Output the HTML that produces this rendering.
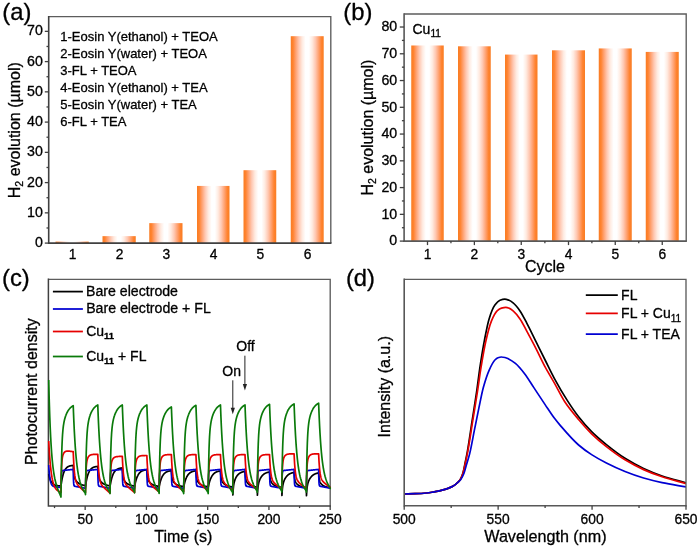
<!DOCTYPE html>
<html><head><meta charset="utf-8"><title>Figure</title>
<style>html,body{margin:0;padding:0;background:#fff;}svg{display:block;}</style></head>
<body><svg width="700" height="547" viewBox="0 0 700 547" font-family="'Liberation Sans', sans-serif" fill="#000"><style>text{stroke:#000;stroke-width:0.3px;stroke-linejoin:round}</style>
<defs><linearGradient id="og" x1="0" y1="0" x2="1" y2="0"><stop offset="0" stop-color="#f97c22"/><stop offset="0.07" stop-color="#ff8330"/><stop offset="0.15" stop-color="#ffa06e"/><stop offset="0.25" stop-color="#ffc8b2"/><stop offset="0.35" stop-color="#ffebe1"/><stop offset="0.45" stop-color="#ffffff"/><stop offset="0.55" stop-color="#ffffff"/><stop offset="0.65" stop-color="#ffebe1"/><stop offset="0.75" stop-color="#ffc8b2"/><stop offset="0.85" stop-color="#ffa06e"/><stop offset="0.93" stop-color="#ff8330"/><stop offset="1" stop-color="#f97c22"/></linearGradient></defs>
<rect width="700" height="547" fill="#fff"/>
<rect x="55.50" y="241.59" width="33.25" height="1.51" fill="url(#og)"/>
<rect x="102.50" y="236.14" width="33.25" height="6.96" fill="url(#og)"/>
<rect x="149.25" y="223.13" width="33.25" height="19.97" fill="url(#og)"/>
<rect x="197.00" y="185.93" width="32.50" height="57.17" fill="url(#og)"/>
<rect x="243.50" y="170.20" width="32.75" height="72.90" fill="url(#og)"/>
<rect x="290.75" y="36.19" width="32.95" height="206.91" fill="url(#og)"/>
<path d="M48.70,16.60 H330.80 V243.10" fill="none" stroke="#5c5c5c" stroke-width="1.35"/>
<path d="M48.70,15.90 V243.10 H331.50" fill="none" stroke="#404040" stroke-width="1.6"/>
<line x1="44.80" y1="243.10" x2="48.70" y2="243.10" stroke="#404040" stroke-width="1.3"/>
<text x="42.90" y="247.20" font-size="14.2" text-anchor="end" >0</text>
<line x1="44.80" y1="212.85" x2="48.70" y2="212.85" stroke="#404040" stroke-width="1.3"/>
<text x="42.90" y="216.95" font-size="14.2" text-anchor="end" >10</text>
<line x1="44.80" y1="182.60" x2="48.70" y2="182.60" stroke="#404040" stroke-width="1.3"/>
<text x="42.90" y="186.70" font-size="14.2" text-anchor="end" >20</text>
<line x1="44.80" y1="152.35" x2="48.70" y2="152.35" stroke="#404040" stroke-width="1.3"/>
<text x="42.90" y="156.45" font-size="14.2" text-anchor="end" >30</text>
<line x1="44.80" y1="122.10" x2="48.70" y2="122.10" stroke="#404040" stroke-width="1.3"/>
<text x="42.90" y="126.20" font-size="14.2" text-anchor="end" >40</text>
<line x1="44.80" y1="91.85" x2="48.70" y2="91.85" stroke="#404040" stroke-width="1.3"/>
<text x="42.90" y="95.95" font-size="14.2" text-anchor="end" >50</text>
<line x1="44.80" y1="61.60" x2="48.70" y2="61.60" stroke="#404040" stroke-width="1.3"/>
<text x="42.90" y="65.70" font-size="14.2" text-anchor="end" >60</text>
<line x1="44.80" y1="31.35" x2="48.70" y2="31.35" stroke="#404040" stroke-width="1.3"/>
<text x="42.90" y="35.45" font-size="14.2" text-anchor="end" >70</text>
<line x1="46.50" y1="227.97" x2="48.70" y2="227.97" stroke="#404040" stroke-width="1.3"/>
<line x1="46.50" y1="197.72" x2="48.70" y2="197.72" stroke="#404040" stroke-width="1.3"/>
<line x1="46.50" y1="167.47" x2="48.70" y2="167.47" stroke="#404040" stroke-width="1.3"/>
<line x1="46.50" y1="137.22" x2="48.70" y2="137.22" stroke="#404040" stroke-width="1.3"/>
<line x1="46.50" y1="106.97" x2="48.70" y2="106.97" stroke="#404040" stroke-width="1.3"/>
<line x1="46.50" y1="76.72" x2="48.70" y2="76.72" stroke="#404040" stroke-width="1.3"/>
<line x1="46.50" y1="46.47" x2="48.70" y2="46.47" stroke="#404040" stroke-width="1.3"/>
<text x="72.53" y="258.90" font-size="13.8" text-anchor="middle" >1</text>
<text x="119.53" y="258.90" font-size="13.8" text-anchor="middle" >2</text>
<text x="166.28" y="258.90" font-size="13.8" text-anchor="middle" >3</text>
<text x="213.65" y="258.90" font-size="13.8" text-anchor="middle" >4</text>
<text x="260.27" y="258.90" font-size="13.8" text-anchor="middle" >5</text>
<text x="307.62" y="258.90" font-size="13.8" text-anchor="middle" >6</text>
<text transform="translate(19.90,130.20) rotate(-90)" font-size="16" text-anchor="middle">H<tspan font-size="10.5" dy="3.5">2</tspan><tspan dy="-3.5"> evolution (µmol)</tspan></text>
<text x="60.30" y="40.90" font-size="13" text-anchor="start" >1-Eosin Y(ethanol) + TEOA</text>
<text x="60.30" y="57.85" font-size="13" text-anchor="start" >2-Eosin Y(water) + TEOA</text>
<text x="60.30" y="74.80" font-size="13" text-anchor="start" >3-FL + TEOA</text>
<text x="60.30" y="91.75" font-size="13" text-anchor="start" >4-Eosin Y(ethanol) + TEA</text>
<text x="60.30" y="108.70" font-size="13" text-anchor="start" >5-Eosin Y(water) + TEA</text>
<text x="60.30" y="125.65" font-size="13" text-anchor="start" >6-FL + TEA</text>
<text x="2.30" y="19.70" font-size="23.8" text-anchor="start" >(a)</text>
<rect x="411.25" y="45.48" width="32.50" height="195.62" fill="url(#og)"/>
<rect x="458.00" y="46.29" width="32.75" height="194.81" fill="url(#og)"/>
<rect x="505.00" y="54.58" width="32.50" height="186.52" fill="url(#og)"/>
<rect x="552.00" y="50.30" width="33.00" height="190.80" fill="url(#og)"/>
<rect x="598.75" y="48.43" width="33.00" height="192.67" fill="url(#og)"/>
<rect x="645.75" y="51.91" width="33.00" height="189.19" fill="url(#og)"/>
<path d="M404.10,14.00 H686.20 V241.10" fill="none" stroke="#5c5c5c" stroke-width="1.35"/>
<path d="M404.10,13.30 V241.10 H686.90" fill="none" stroke="#585858" stroke-width="1.6"/>
<line x1="399.80" y1="241.10" x2="404.10" y2="241.10" stroke="#404040" stroke-width="1.3"/>
<text x="397.20" y="245.30" font-size="14.2" text-anchor="end" >0</text>
<line x1="399.80" y1="214.34" x2="404.10" y2="214.34" stroke="#404040" stroke-width="1.3"/>
<text x="397.20" y="218.54" font-size="14.2" text-anchor="end" >10</text>
<line x1="399.80" y1="187.58" x2="404.10" y2="187.58" stroke="#404040" stroke-width="1.3"/>
<text x="397.20" y="191.78" font-size="14.2" text-anchor="end" >20</text>
<line x1="399.80" y1="160.82" x2="404.10" y2="160.82" stroke="#404040" stroke-width="1.3"/>
<text x="397.20" y="165.02" font-size="14.2" text-anchor="end" >30</text>
<line x1="399.80" y1="134.06" x2="404.10" y2="134.06" stroke="#404040" stroke-width="1.3"/>
<text x="397.20" y="138.26" font-size="14.2" text-anchor="end" >40</text>
<line x1="399.80" y1="107.30" x2="404.10" y2="107.30" stroke="#404040" stroke-width="1.3"/>
<text x="397.20" y="111.50" font-size="14.2" text-anchor="end" >50</text>
<line x1="399.80" y1="80.54" x2="404.10" y2="80.54" stroke="#404040" stroke-width="1.3"/>
<text x="397.20" y="84.74" font-size="14.2" text-anchor="end" >60</text>
<line x1="399.80" y1="53.78" x2="404.10" y2="53.78" stroke="#404040" stroke-width="1.3"/>
<text x="397.20" y="57.98" font-size="14.2" text-anchor="end" >70</text>
<line x1="399.80" y1="27.02" x2="404.10" y2="27.02" stroke="#404040" stroke-width="1.3"/>
<text x="397.20" y="31.22" font-size="14.2" text-anchor="end" >80</text>
<line x1="401.90" y1="227.72" x2="404.10" y2="227.72" stroke="#404040" stroke-width="1.3"/>
<line x1="401.90" y1="200.96" x2="404.10" y2="200.96" stroke="#404040" stroke-width="1.3"/>
<line x1="401.90" y1="174.20" x2="404.10" y2="174.20" stroke="#404040" stroke-width="1.3"/>
<line x1="401.90" y1="147.44" x2="404.10" y2="147.44" stroke="#404040" stroke-width="1.3"/>
<line x1="401.90" y1="120.68" x2="404.10" y2="120.68" stroke="#404040" stroke-width="1.3"/>
<line x1="401.90" y1="93.92" x2="404.10" y2="93.92" stroke="#404040" stroke-width="1.3"/>
<line x1="401.90" y1="67.16" x2="404.10" y2="67.16" stroke="#404040" stroke-width="1.3"/>
<line x1="401.90" y1="40.40" x2="404.10" y2="40.40" stroke="#404040" stroke-width="1.3"/>
<line x1="427.50" y1="241.10" x2="427.50" y2="245.10" stroke="#404040" stroke-width="1.3"/>
<text x="427.50" y="259.20" font-size="13.8" text-anchor="middle" >1</text>
<line x1="474.38" y1="241.10" x2="474.38" y2="245.10" stroke="#404040" stroke-width="1.3"/>
<text x="474.38" y="259.20" font-size="13.8" text-anchor="middle" >2</text>
<line x1="521.25" y1="241.10" x2="521.25" y2="245.10" stroke="#404040" stroke-width="1.3"/>
<text x="521.25" y="259.20" font-size="13.8" text-anchor="middle" >3</text>
<line x1="568.50" y1="241.10" x2="568.50" y2="245.10" stroke="#404040" stroke-width="1.3"/>
<text x="568.50" y="259.20" font-size="13.8" text-anchor="middle" >4</text>
<line x1="615.25" y1="241.10" x2="615.25" y2="245.10" stroke="#404040" stroke-width="1.3"/>
<text x="615.25" y="259.20" font-size="13.8" text-anchor="middle" >5</text>
<line x1="662.25" y1="241.10" x2="662.25" y2="245.10" stroke="#404040" stroke-width="1.3"/>
<text x="662.25" y="259.20" font-size="13.8" text-anchor="middle" >6</text>
<line x1="450.94" y1="241.10" x2="450.94" y2="243.30" stroke="#404040" stroke-width="1.3"/>
<line x1="497.81" y1="241.10" x2="497.81" y2="243.30" stroke="#404040" stroke-width="1.3"/>
<line x1="544.88" y1="241.10" x2="544.88" y2="243.30" stroke="#404040" stroke-width="1.3"/>
<line x1="591.88" y1="241.10" x2="591.88" y2="243.30" stroke="#404040" stroke-width="1.3"/>
<line x1="638.75" y1="241.10" x2="638.75" y2="243.30" stroke="#404040" stroke-width="1.3"/>
<text transform="translate(372.60,127.60) rotate(-90)" font-size="16" text-anchor="middle">H<tspan font-size="10.5" dy="3.5">2</tspan><tspan dy="-3.5"> evolution (µmol)</tspan></text>
<text x="545.00" y="272.40" font-size="16" text-anchor="middle" >Cycle</text>
<text x="412.50" y="33.80" font-size="14" text-anchor="start" >Cu<tspan font-size="10.2" dy="3.6">11</tspan></text>
<text x="343.30" y="19.50" font-size="23.8" text-anchor="start" >(b)</text>
<path d="M48.40,279.30 H330.20 V505.90" fill="none" stroke="#5c5c5c" stroke-width="1.35"/>
<path d="M48.40,278.60 V505.90 H330.90" fill="none" stroke="#404040" stroke-width="1.5"/>
<clipPath id="cc"><rect x="47.50" y="279.3" width="283.60" height="225.60"/></clipPath><g clip-path="url(#cc)">
<path d="M48.70,474.00 L48.82,474.59 L48.95,475.14 L49.07,475.67 L49.19,476.18 L49.31,476.65 L49.44,477.11 L49.56,477.54 L49.68,477.96 L49.80,478.35 L49.93,478.72 L50.05,479.08 L50.17,479.41 L50.30,479.74 L50.42,480.04 L50.54,480.33 L50.66,480.61 L50.79,480.87 L50.91,481.12 L51.03,481.36 L51.15,481.59 L51.28,481.80 L51.40,482.01 L51.52,482.20 L51.64,482.39 L51.77,482.56 L51.89,482.73 L52.01,482.89 L52.14,483.04 L52.26,483.19 L52.38,483.32 L52.50,483.45 L52.63,483.58 L52.75,483.70 L52.87,483.81 L52.99,483.91 L53.12,484.02 L53.24,484.11 L53.36,484.21 L53.49,484.29 L53.61,484.38 L53.73,484.46 L53.85,484.53 L53.98,484.60 L54.10,484.67 L54.22,484.74 L54.34,484.80 L54.47,484.86 L54.59,484.91 L54.71,484.96 L54.83,485.01 L54.96,485.06 L55.08,485.11 L55.20,485.15 L55.33,485.19 L55.45,485.23 L55.57,485.27 L55.69,485.31 L55.82,485.34 L55.94,485.37 L56.06,485.40 L56.18,485.43 L56.31,485.46 L56.43,485.49 L56.55,485.51 L56.68,485.53 L56.80,485.56 L56.92,485.58 L57.04,485.60 L57.17,485.62 L57.29,485.64 L57.41,485.66 L57.53,485.67 L57.66,485.69 L57.78,485.70 L57.90,485.72 L58.02,485.73 L58.15,485.74 L58.27,485.76 L58.39,485.77 L58.52,485.78 L58.64,485.79 L58.76,485.80 L58.88,485.81 L59.01,485.82 L59.13,485.83 L59.25,485.84 L59.37,485.85 L59.50,485.85 L59.62,485.86 L59.74,485.87 L59.87,485.87 L59.99,485.88 L60.11,485.89 L60.23,485.89 L60.36,485.90 L60.48,485.90 L60.60,485.91 L60.72,485.91 L60.85,485.91 L60.97,486.00 L61.09,485.07 L61.21,484.19 L61.34,483.35 L61.46,482.54 L61.58,481.77 L61.71,481.03 L61.83,480.33 L61.95,479.65 L62.07,479.01 L62.20,478.39 L62.32,477.81 L62.44,477.25 L62.56,476.71 L62.69,476.20 L62.81,475.71 L62.93,475.24 L63.06,474.79 L63.18,474.37 L63.30,473.96 L63.42,473.57 L63.55,473.19 L63.67,472.84 L63.79,472.50 L63.91,472.17 L64.04,471.86 L64.16,471.57 L64.28,471.28 L64.41,471.01 L64.53,470.75 L64.65,470.50 L64.77,470.27 L64.90,470.04 L65.02,469.82 L65.14,469.62 L65.26,469.42 L65.39,469.23 L65.51,469.05 L65.63,468.88 L65.75,468.72 L65.88,468.56 L66.00,468.41 L66.12,468.26 L66.25,468.13 L66.37,468.00 L66.49,467.87 L66.61,467.75 L66.74,467.64 L66.86,467.53 L66.98,467.42 L67.10,467.32 L67.23,467.23 L67.35,467.14 L67.47,467.05 L67.60,466.97 L67.72,466.89 L67.84,466.81 L67.96,466.74 L68.09,466.67 L68.21,466.60 L68.33,466.54 L68.45,466.48 L68.58,466.42 L68.70,466.37 L68.82,466.31 L68.94,466.26 L69.07,466.22 L69.19,466.17 L69.31,466.13 L69.44,466.08 L69.56,466.04 L69.68,466.00 L69.80,465.97 L69.93,465.93 L70.05,465.90 L70.17,465.87 L70.29,465.84 L70.42,465.81 L70.54,465.78 L70.66,465.75 L70.79,465.73 L70.91,465.70 L71.03,465.68 L71.15,465.66 L71.28,465.64 L71.40,465.62 L71.52,465.60 L71.64,465.58 L71.77,465.56 L71.89,465.54 L72.01,465.53 L72.13,465.51 L72.26,465.50 L72.38,465.48 L72.50,465.47 L72.63,465.46 L72.75,465.44 L72.87,465.43 L72.99,465.42 L73.12,465.41 L73.24,465.40 L73.36,467.58 L73.48,469.41 L73.61,470.95 L73.73,472.25 L73.85,473.36 L73.98,474.31 L74.10,475.12 L74.22,475.83 L74.34,476.44 L74.47,476.98 L74.59,477.45 L74.71,477.88 L74.83,478.25 L74.96,478.60 L75.08,478.91 L75.20,479.19 L75.32,479.45 L75.45,479.70 L75.57,479.92 L75.69,480.14 L75.82,480.34 L75.94,480.53 L76.06,480.70 L76.18,480.88 L76.31,481.04 L76.43,481.19 L76.55,481.34 L76.67,481.49 L76.80,481.63 L76.92,481.76 L77.04,481.89 L77.17,482.01 L77.29,482.13 L77.41,482.25 L77.53,482.36 L77.66,482.47 L77.78,482.58 L77.90,482.68 L78.02,482.78 L78.15,482.88 L78.27,482.97 L78.39,483.07 L78.52,483.15 L78.64,483.24 L78.76,483.32 L78.88,483.40 L79.01,483.48 L79.13,483.56 L79.25,483.63 L79.37,483.71 L79.50,483.78 L79.62,483.85 L79.74,483.91 L79.86,483.98 L79.99,484.04 L80.11,484.10 L80.23,484.16 L80.36,484.22 L80.48,484.27 L80.60,484.33 L80.72,484.38 L80.85,484.43 L80.97,484.48 L81.09,484.53 L81.21,484.58 L81.34,484.62 L81.46,484.67 L81.58,484.71 L81.71,484.75 L81.83,484.79 L81.95,484.83 L82.07,484.87 L82.20,484.91 L82.32,484.94 L82.44,484.98 L82.56,485.01 L82.69,485.05 L82.81,485.08 L82.93,485.11 L83.05,485.14 L83.18,485.17 L83.30,485.20 L83.42,485.23 L83.55,485.26 L83.67,485.28 L83.79,485.31 L83.91,485.33 L84.04,485.36 L84.16,485.38 L84.28,485.41 L84.40,485.43 L84.53,485.45 L84.65,485.47 L84.77,485.49 L84.90,485.51 L85.02,485.53 L85.14,485.55 L85.26,485.57 L85.39,485.59 L85.51,486.20 L85.63,485.35 L85.75,484.53 L85.88,483.75 L86.00,483.00 L86.12,482.28 L86.24,481.59 L86.37,480.94 L86.49,480.31 L86.61,479.70 L86.74,479.13 L86.86,478.57 L86.98,478.05 L87.10,477.54 L87.23,477.05 L87.35,476.59 L87.47,476.15 L87.59,475.72 L87.72,475.31 L87.84,474.92 L87.96,474.55 L88.09,474.19 L88.21,473.85 L88.33,473.52 L88.45,473.21 L88.58,472.91 L88.70,472.62 L88.82,472.34 L88.94,472.08 L89.07,471.83 L89.19,471.58 L89.31,471.35 L89.43,471.13 L89.56,470.92 L89.68,470.71 L89.80,470.52 L89.93,470.33 L90.05,470.16 L90.17,469.98 L90.29,469.82 L90.42,469.66 L90.54,469.51 L90.66,469.37 L90.78,469.23 L90.91,469.10 L91.03,468.98 L91.15,468.86 L91.28,468.74 L91.40,468.63 L91.52,468.52 L91.64,468.42 L91.77,468.32 L91.89,468.23 L92.01,468.14 L92.13,468.06 L92.26,467.98 L92.38,467.90 L92.50,467.82 L92.63,467.75 L92.75,467.68 L92.87,467.62 L92.99,467.55 L93.12,467.49 L93.24,467.44 L93.36,467.38 L93.48,467.33 L93.61,467.28 L93.73,467.23 L93.85,467.18 L93.97,467.14 L94.10,467.10 L94.22,467.06 L94.34,467.02 L94.47,466.98 L94.59,466.94 L94.71,466.91 L94.83,466.88 L94.96,466.85 L95.08,466.82 L95.20,466.79 L95.32,466.76 L95.45,466.73 L95.57,466.71 L95.69,466.68 L95.82,466.66 L95.94,466.64 L96.06,466.62 L96.18,466.60 L96.31,466.58 L96.43,466.56 L96.55,466.54 L96.67,466.52 L96.80,466.51 L96.92,466.49 L97.04,466.48 L97.16,466.46 L97.29,466.45 L97.41,466.44 L97.53,466.42 L97.66,466.41 L97.78,466.40 L97.90,468.49 L98.02,470.25 L98.15,471.73 L98.27,472.99 L98.39,474.05 L98.51,474.96 L98.64,475.75 L98.76,476.42 L98.88,477.01 L99.01,477.53 L99.13,477.99 L99.25,478.40 L99.37,478.76 L99.50,479.09 L99.62,479.39 L99.74,479.66 L99.86,479.91 L99.99,480.15 L100.11,480.37 L100.23,480.57 L100.35,480.76 L100.48,480.94 L100.60,481.12 L100.72,481.28 L100.85,481.44 L100.97,481.59 L101.09,481.73 L101.21,481.87 L101.34,482.00 L101.46,482.13 L101.58,482.26 L101.70,482.38 L101.83,482.49 L101.95,482.60 L102.07,482.71 L102.20,482.82 L102.32,482.92 L102.44,483.02 L102.56,483.11 L102.69,483.21 L102.81,483.30 L102.93,483.39 L103.05,483.47 L103.18,483.55 L103.30,483.63 L103.42,483.71 L103.54,483.79 L103.67,483.86 L103.79,483.93 L103.91,484.00 L104.04,484.07 L104.16,484.14 L104.28,484.20 L104.40,484.26 L104.53,484.32 L104.65,484.38 L104.77,484.44 L104.89,484.49 L105.02,484.55 L105.14,484.60 L105.26,484.65 L105.39,484.70 L105.51,484.75 L105.63,484.79 L105.75,484.84 L105.88,484.88 L106.00,484.93 L106.12,484.97 L106.24,485.01 L106.37,485.05 L106.49,485.08 L106.61,485.12 L106.74,485.16 L106.86,485.19 L106.98,485.23 L107.10,485.26 L107.23,485.29 L107.35,485.32 L107.47,485.35 L107.59,485.38 L107.72,485.41 L107.84,485.44 L107.96,485.47 L108.08,485.49 L108.21,485.52 L108.33,485.54 L108.45,485.57 L108.58,485.59 L108.70,485.61 L108.82,485.64 L108.94,485.66 L109.07,485.68 L109.19,485.70 L109.31,485.72 L109.43,485.74 L109.56,485.76 L109.68,485.77 L109.80,485.79 L109.93,485.81 L110.05,486.40 L110.17,485.63 L110.29,484.90 L110.42,484.19 L110.54,483.52 L110.66,482.87 L110.78,482.24 L110.91,481.65 L111.03,481.07 L111.15,480.52 L111.27,480.00 L111.40,479.49 L111.52,479.01 L111.64,478.54 L111.77,478.09 L111.89,477.67 L112.01,477.26 L112.13,476.86 L112.26,476.49 L112.38,476.12 L112.50,475.78 L112.62,475.44 L112.75,475.12 L112.87,474.82 L112.99,474.52 L113.12,474.24 L113.24,473.97 L113.36,473.71 L113.48,473.46 L113.61,473.22 L113.73,472.99 L113.85,472.77 L113.97,472.56 L114.10,472.36 L114.22,472.17 L114.34,471.98 L114.46,471.80 L114.59,471.63 L114.71,471.47 L114.83,471.31 L114.96,471.16 L115.08,471.01 L115.20,470.87 L115.32,470.74 L115.45,470.61 L115.57,470.49 L115.69,470.37 L115.81,470.26 L115.94,470.15 L116.06,470.05 L116.18,469.95 L116.31,469.85 L116.43,469.76 L116.55,469.67 L116.67,469.59 L116.80,469.51 L116.92,469.43 L117.04,469.36 L117.16,469.29 L117.29,469.22 L117.41,469.15 L117.53,469.09 L117.65,469.03 L117.78,468.97 L117.90,468.91 L118.02,468.86 L118.15,468.81 L118.27,468.76 L118.39,468.71 L118.51,468.67 L118.64,468.63 L118.76,468.58 L118.88,468.54 L119.00,468.51 L119.13,468.47 L119.25,468.43 L119.37,468.40 L119.50,468.37 L119.62,468.34 L119.74,468.31 L119.86,468.28 L119.99,468.25 L120.11,468.23 L120.23,468.20 L120.35,468.18 L120.48,468.15 L120.60,468.13 L120.72,468.11 L120.85,468.09 L120.97,468.07 L121.09,468.05 L121.21,468.03 L121.34,468.02 L121.46,468.00 L121.58,467.98 L121.70,467.97 L121.83,467.95 L121.95,467.94 L122.07,467.93 L122.19,467.91 L122.32,467.90 L122.44,469.86 L122.56,471.50 L122.69,472.89 L122.81,474.06 L122.93,475.06 L123.05,475.91 L123.18,476.64 L123.30,477.27 L123.42,477.82 L123.54,478.31 L123.67,478.74 L123.79,479.12 L123.91,479.46 L124.04,479.76 L124.16,480.04 L124.28,480.30 L124.40,480.54 L124.53,480.75 L124.65,480.96 L124.77,481.15 L124.89,481.33 L125.02,481.50 L125.14,481.66 L125.26,481.81 L125.38,481.96 L125.51,482.10 L125.63,482.23 L125.75,482.36 L125.88,482.49 L126.00,482.61 L126.12,482.72 L126.24,482.84 L126.37,482.95 L126.49,483.05 L126.61,483.15 L126.73,483.25 L126.86,483.35 L126.98,483.44 L127.10,483.53 L127.23,483.62 L127.35,483.70 L127.47,483.78 L127.59,483.86 L127.72,483.94 L127.84,484.01 L127.96,484.09 L128.08,484.16 L128.21,484.23 L128.33,484.29 L128.45,484.36 L128.57,484.42 L128.70,484.48 L128.82,484.54 L128.94,484.60 L129.07,484.66 L129.19,484.71 L129.31,484.77 L129.43,484.82 L129.56,484.87 L129.68,484.92 L129.80,484.96 L129.92,485.01 L130.05,485.05 L130.17,485.10 L130.29,485.14 L130.42,485.18 L130.54,485.22 L130.66,485.26 L130.78,485.30 L130.91,485.33 L131.03,485.37 L131.15,485.40 L131.27,485.44 L131.40,485.47 L131.52,485.50 L131.64,485.53 L131.76,485.56 L131.89,485.59 L132.01,485.62 L132.13,485.65 L132.26,485.68 L132.38,485.70 L132.50,485.73 L132.62,485.75 L132.75,485.78 L132.87,485.80 L132.99,485.82 L133.11,485.84 L133.24,485.86 L133.36,485.89 L133.48,485.91 L133.61,485.93 L133.73,485.94 L133.85,485.96 L133.97,485.98 L134.10,486.00 L134.22,486.01 L134.34,486.03 L134.46,486.05 L134.59,486.60 L134.71,485.93 L134.83,485.28 L134.96,484.66 L135.08,484.07 L135.20,483.50 L135.32,482.95 L135.45,482.42 L135.57,481.91 L135.69,481.43 L135.81,480.96 L135.94,480.51 L136.06,480.08 L136.18,479.66 L136.30,479.26 L136.43,478.88 L136.55,478.51 L136.67,478.16 L136.80,477.82 L136.92,477.49 L137.04,477.18 L137.16,476.87 L137.29,476.58 L137.41,476.31 L137.53,476.04 L137.65,475.78 L137.78,475.54 L137.90,475.30 L138.02,475.07 L138.15,474.85 L138.27,474.64 L138.39,474.44 L138.51,474.24 L138.64,474.06 L138.76,473.88 L138.88,473.71 L139.00,473.54 L139.13,473.38 L139.25,473.23 L139.37,473.08 L139.49,472.94 L139.62,472.81 L139.74,472.68 L139.86,472.55 L139.99,472.43 L140.11,472.32 L140.23,472.20 L140.35,472.10 L140.48,472.00 L140.60,471.90 L140.72,471.80 L140.84,471.71 L140.97,471.62 L141.09,471.54 L141.21,471.46 L141.34,471.38 L141.46,471.31 L141.58,471.24 L141.70,471.17 L141.83,471.10 L141.95,471.04 L142.07,470.98 L142.19,470.92 L142.32,470.86 L142.44,470.81 L142.56,470.76 L142.68,470.71 L142.81,470.66 L142.93,470.61 L143.05,470.57 L143.18,470.53 L143.30,470.49 L143.42,470.45 L143.54,470.41 L143.67,470.37 L143.79,470.34 L143.91,470.31 L144.03,470.27 L144.16,470.24 L144.28,470.21 L144.40,470.18 L144.53,470.16 L144.65,470.13 L144.77,470.11 L144.89,470.08 L145.02,470.06 L145.14,470.04 L145.26,470.01 L145.38,469.99 L145.51,469.97 L145.63,469.95 L145.75,469.94 L145.87,469.92 L146.00,469.90 L146.12,469.89 L146.24,469.87 L146.37,469.85 L146.49,469.84 L146.61,469.83 L146.73,469.81 L146.86,469.80 L146.98,471.58 L147.10,473.07 L147.22,474.33 L147.35,475.40 L147.47,476.30 L147.59,477.08 L147.72,477.74 L147.84,478.32 L147.96,478.82 L148.08,479.26 L148.21,479.65 L148.33,480.00 L148.45,480.31 L148.57,480.59 L148.70,480.84 L148.82,481.07 L148.94,481.29 L149.07,481.49 L149.19,481.67 L149.31,481.84 L149.43,482.01 L149.56,482.16 L149.68,482.31 L149.80,482.45 L149.92,482.58 L150.05,482.71 L150.17,482.83 L150.29,482.95 L150.41,483.06 L150.54,483.17 L150.66,483.28 L150.78,483.38 L150.91,483.48 L151.03,483.57 L151.15,483.67 L151.27,483.75 L151.40,483.84 L151.52,483.93 L151.64,484.01 L151.76,484.09 L151.89,484.16 L152.01,484.24 L152.13,484.31 L152.26,484.38 L152.38,484.45 L152.50,484.52 L152.62,484.58 L152.75,484.64 L152.87,484.70 L152.99,484.76 L153.11,484.82 L153.24,484.88 L153.36,484.93 L153.48,484.98 L153.60,485.03 L153.73,485.08 L153.85,485.13 L153.97,485.18 L154.10,485.22 L154.22,485.27 L154.34,485.31 L154.46,485.35 L154.59,485.39 L154.71,485.43 L154.83,485.47 L154.95,485.51 L155.08,485.55 L155.20,485.58 L155.32,485.62 L155.45,485.65 L155.57,485.68 L155.69,485.71 L155.81,485.74 L155.94,485.77 L156.06,485.80 L156.18,485.83 L156.30,485.86 L156.43,485.88 L156.55,485.91 L156.67,485.94 L156.79,485.96 L156.92,485.98 L157.04,486.01 L157.16,486.03 L157.29,486.05 L157.41,486.07 L157.53,486.09 L157.65,486.11 L157.78,486.13 L157.90,486.15 L158.02,486.17 L158.14,486.19 L158.27,486.20 L158.39,486.22 L158.51,486.24 L158.64,486.25 L158.76,486.27 L158.88,486.28 L159.00,486.30 L159.13,486.80 L159.25,486.18 L159.37,485.58 L159.49,485.01 L159.62,484.45 L159.74,483.92 L159.86,483.41 L159.98,482.92 L160.11,482.44 L160.23,481.99 L160.35,481.55 L160.48,481.12 L160.60,480.72 L160.72,480.33 L160.84,479.95 L160.97,479.59 L161.09,479.24 L161.21,478.90 L161.33,478.58 L161.46,478.27 L161.58,477.97 L161.70,477.68 L161.83,477.41 L161.95,477.14 L162.07,476.88 L162.19,476.64 L162.32,476.40 L162.44,476.17 L162.56,475.95 L162.68,475.74 L162.81,475.54 L162.93,475.34 L163.05,475.15 L163.18,474.97 L163.30,474.80 L163.42,474.63 L163.54,474.47 L163.67,474.31 L163.79,474.16 L163.91,474.02 L164.03,473.88 L164.16,473.75 L164.28,473.62 L164.40,473.50 L164.52,473.38 L164.65,473.26 L164.77,473.15 L164.89,473.05 L165.02,472.95 L165.14,472.85 L165.26,472.75 L165.38,472.66 L165.51,472.58 L165.63,472.49 L165.75,472.41 L165.87,472.33 L166.00,472.26 L166.12,472.19 L166.24,472.12 L166.37,472.05 L166.49,471.99 L166.61,471.92 L166.73,471.86 L166.86,471.81 L166.98,471.75 L167.10,471.70 L167.22,471.65 L167.35,471.60 L167.47,471.55 L167.59,471.51 L167.71,471.46 L167.84,471.42 L167.96,471.38 L168.08,471.34 L168.21,471.30 L168.33,471.27 L168.45,471.23 L168.57,471.20 L168.70,471.17 L168.82,471.14 L168.94,471.11 L169.06,471.08 L169.19,471.05 L169.31,471.02 L169.43,471.00 L169.56,470.97 L169.68,470.95 L169.80,470.93 L169.92,470.91 L170.05,470.89 L170.17,470.86 L170.29,470.85 L170.41,470.83 L170.54,470.81 L170.66,470.79 L170.78,470.77 L170.90,470.76 L171.03,470.74 L171.15,470.73 L171.27,470.71 L171.40,470.70 L171.52,472.41 L171.64,473.84 L171.76,475.05 L171.89,476.07 L172.01,476.94 L172.13,477.68 L172.25,478.32 L172.38,478.87 L172.50,479.35 L172.62,479.77 L172.75,480.14 L172.87,480.48 L172.99,480.77 L173.11,481.04 L173.24,481.29 L173.36,481.51 L173.48,481.71 L173.60,481.90 L173.73,482.08 L173.85,482.25 L173.97,482.40 L174.09,482.55 L174.22,482.69 L174.34,482.83 L174.46,482.96 L174.59,483.08 L174.71,483.20 L174.83,483.31 L174.95,483.42 L175.08,483.52 L175.20,483.62 L175.32,483.72 L175.44,483.81 L175.57,483.91 L175.69,483.99 L175.81,484.08 L175.94,484.16 L176.06,484.24 L176.18,484.32 L176.30,484.40 L176.43,484.47 L176.55,484.54 L176.67,484.61 L176.79,484.68 L176.92,484.75 L177.04,484.81 L177.16,484.87 L177.29,484.93 L177.41,484.99 L177.53,485.05 L177.65,485.10 L177.78,485.16 L177.90,485.21 L178.02,485.26 L178.14,485.31 L178.27,485.35 L178.39,485.40 L178.51,485.45 L178.63,485.49 L178.76,485.53 L178.88,485.57 L179.00,485.61 L179.13,485.65 L179.25,485.69 L179.37,485.73 L179.49,485.76 L179.62,485.80 L179.74,485.83 L179.86,485.87 L179.98,485.90 L180.11,485.93 L180.23,485.96 L180.35,485.99 L180.48,486.02 L180.60,486.04 L180.72,486.07 L180.84,486.10 L180.97,486.12 L181.09,486.15 L181.21,486.17 L181.33,486.19 L181.46,486.22 L181.58,486.24 L181.70,486.26 L181.82,486.28 L181.95,486.30 L182.07,486.32 L182.19,486.34 L182.32,486.36 L182.44,486.38 L182.56,486.39 L182.68,486.41 L182.81,486.43 L182.93,486.44 L183.05,486.46 L183.17,486.48 L183.30,486.49 L183.42,486.50 L183.54,486.52 L183.67,487.00 L183.79,486.40 L183.91,485.81 L184.03,485.25 L184.16,484.71 L184.28,484.19 L184.40,483.69 L184.52,483.21 L184.65,482.74 L184.77,482.29 L184.89,481.86 L185.01,481.44 L185.14,481.04 L185.26,480.65 L185.38,480.28 L185.51,479.92 L185.63,479.57 L185.75,479.24 L185.87,478.92 L186.00,478.61 L186.12,478.31 L186.24,478.02 L186.36,477.74 L186.49,477.48 L186.61,477.22 L186.73,476.97 L186.86,476.73 L186.98,476.50 L187.10,476.28 L187.22,476.06 L187.35,475.86 L187.47,475.66 L187.59,475.47 L187.71,475.28 L187.84,475.11 L187.96,474.93 L188.08,474.77 L188.20,474.61 L188.33,474.46 L188.45,474.31 L188.57,474.17 L188.70,474.03 L188.82,473.90 L188.94,473.77 L189.06,473.65 L189.19,473.53 L189.31,473.41 L189.43,473.30 L189.55,473.20 L189.68,473.10 L189.80,473.00 L189.92,472.90 L190.05,472.81 L190.17,472.72 L190.29,472.64 L190.41,472.56 L190.54,472.48 L190.66,472.40 L190.78,472.33 L190.90,472.26 L191.03,472.19 L191.15,472.13 L191.27,472.06 L191.40,472.00 L191.52,471.94 L191.64,471.89 L191.76,471.83 L191.89,471.78 L192.01,471.73 L192.13,471.68 L192.25,471.63 L192.38,471.59 L192.50,471.54 L192.62,471.50 L192.74,471.46 L192.87,471.42 L192.99,471.39 L193.11,471.35 L193.24,471.31 L193.36,471.28 L193.48,471.25 L193.60,471.22 L193.73,471.19 L193.85,471.16 L193.97,471.13 L194.09,471.10 L194.22,471.08 L194.34,471.05 L194.46,471.03 L194.59,471.01 L194.71,470.98 L194.83,470.96 L194.95,470.94 L195.08,470.92 L195.20,470.90 L195.32,470.88 L195.44,470.87 L195.57,470.85 L195.69,470.83 L195.81,470.82 L195.93,470.80 L196.06,472.52 L196.18,473.96 L196.30,475.17 L196.43,476.20 L196.55,477.07 L196.67,477.82 L196.79,478.46 L196.92,479.02 L197.04,479.50 L197.16,479.93 L197.28,480.30 L197.41,480.64 L197.53,480.94 L197.65,481.20 L197.78,481.45 L197.90,481.67 L198.02,481.88 L198.14,482.07 L198.27,482.25 L198.39,482.42 L198.51,482.58 L198.63,482.73 L198.76,482.87 L198.88,483.00 L199.00,483.13 L199.12,483.25 L199.25,483.37 L199.37,483.49 L199.49,483.59 L199.62,483.70 L199.74,483.80 L199.86,483.90 L199.98,483.99 L200.11,484.09 L200.23,484.18 L200.35,484.26 L200.47,484.35 L200.60,484.43 L200.72,484.51 L200.84,484.58 L200.97,484.66 L201.09,484.73 L201.21,484.80 L201.33,484.87 L201.46,484.93 L201.58,485.00 L201.70,485.06 L201.82,485.12 L201.95,485.18 L202.07,485.23 L202.19,485.29 L202.31,485.34 L202.44,485.40 L202.56,485.45 L202.68,485.50 L202.81,485.54 L202.93,485.59 L203.05,485.64 L203.17,485.68 L203.30,485.72 L203.42,485.76 L203.54,485.81 L203.66,485.84 L203.79,485.88 L203.91,485.92 L204.03,485.96 L204.16,485.99 L204.28,486.02 L204.40,486.06 L204.52,486.09 L204.65,486.12 L204.77,486.15 L204.89,486.18 L205.01,486.21 L205.14,486.24 L205.26,486.27 L205.38,486.29 L205.51,486.32 L205.63,486.34 L205.75,486.37 L205.87,486.39 L206.00,486.41 L206.12,486.43 L206.24,486.46 L206.36,486.48 L206.49,486.50 L206.61,486.52 L206.73,486.54 L206.85,486.56 L206.98,486.57 L207.10,486.59 L207.22,486.61 L207.35,486.62 L207.47,486.64 L207.59,486.66 L207.71,486.67 L207.84,486.69 L207.96,486.70 L208.08,486.72 L208.20,487.20 L208.33,486.61 L208.45,486.04 L208.57,485.50 L208.70,484.97 L208.82,484.46 L208.94,483.97 L209.06,483.49 L209.19,483.03 L209.31,482.59 L209.43,482.16 L209.55,481.75 L209.68,481.35 L209.80,480.97 L209.92,480.60 L210.04,480.24 L210.17,479.90 L210.29,479.57 L210.41,479.25 L210.54,478.94 L210.66,478.64 L210.78,478.35 L210.90,478.07 L211.03,477.80 L211.15,477.55 L211.27,477.30 L211.39,477.06 L211.52,476.82 L211.64,476.60 L211.76,476.38 L211.89,476.17 L212.01,475.97 L212.13,475.78 L212.25,475.59 L212.38,475.41 L212.50,475.23 L212.62,475.07 L212.74,474.90 L212.87,474.75 L212.99,474.59 L213.11,474.45 L213.23,474.31 L213.36,474.17 L213.48,474.04 L213.60,473.91 L213.73,473.79 L213.85,473.67 L213.97,473.56 L214.09,473.45 L214.22,473.34 L214.34,473.24 L214.46,473.14 L214.58,473.05 L214.71,472.95 L214.83,472.87 L214.95,472.78 L215.08,472.70 L215.20,472.62 L215.32,472.54 L215.44,472.47 L215.57,472.40 L215.69,472.33 L215.81,472.26 L215.93,472.20 L216.06,472.13 L216.18,472.07 L216.30,472.02 L216.42,471.96 L216.55,471.91 L216.67,471.86 L216.79,471.81 L216.92,471.76 L217.04,471.71 L217.16,471.67 L217.28,471.62 L217.41,471.58 L217.53,471.54 L217.65,471.50 L217.77,471.46 L217.90,471.43 L218.02,471.39 L218.14,471.36 L218.27,471.33 L218.39,471.29 L218.51,471.26 L218.63,471.23 L218.76,471.21 L218.88,471.18 L219.00,471.15 L219.12,471.13 L219.25,471.10 L219.37,471.08 L219.49,471.06 L219.62,471.03 L219.74,471.01 L219.86,470.99 L219.98,470.97 L220.11,470.95 L220.23,470.93 L220.35,470.92 L220.47,470.90 L220.60,472.63 L220.72,474.08 L220.84,475.30 L220.96,476.33 L221.09,477.21 L221.21,477.96 L221.33,478.61 L221.46,479.17 L221.58,479.66 L221.70,480.08 L221.82,480.46 L221.95,480.80 L222.07,481.10 L222.19,481.37 L222.31,481.61 L222.44,481.84 L222.56,482.05 L222.68,482.24 L222.81,482.42 L222.93,482.59 L223.05,482.75 L223.17,482.90 L223.30,483.04 L223.42,483.18 L223.54,483.31 L223.66,483.43 L223.79,483.55 L223.91,483.66 L224.03,483.77 L224.15,483.88 L224.28,483.98 L224.40,484.08 L224.52,484.18 L224.65,484.27 L224.77,484.36 L224.89,484.44 L225.01,484.53 L225.14,484.61 L225.26,484.69 L225.38,484.77 L225.50,484.84 L225.63,484.91 L225.75,484.98 L225.87,485.05 L226.00,485.12 L226.12,485.18 L226.24,485.25 L226.36,485.31 L226.49,485.37 L226.61,485.42 L226.73,485.48 L226.85,485.53 L226.98,485.59 L227.10,485.64 L227.22,485.69 L227.34,485.73 L227.47,485.78 L227.59,485.83 L227.71,485.87 L227.84,485.91 L227.96,485.96 L228.08,486.00 L228.20,486.04 L228.33,486.07 L228.45,486.11 L228.57,486.15 L228.69,486.18 L228.82,486.22 L228.94,486.25 L229.06,486.28 L229.19,486.31 L229.31,486.35 L229.43,486.38 L229.55,486.40 L229.68,486.43 L229.80,486.46 L229.92,486.49 L230.04,486.51 L230.17,486.54 L230.29,486.56 L230.41,486.58 L230.53,486.61 L230.66,486.63 L230.78,486.65 L230.90,486.67 L231.03,486.69 L231.15,486.71 L231.27,486.73 L231.39,486.75 L231.52,486.77 L231.64,486.79 L231.76,486.80 L231.88,486.82 L232.01,486.84 L232.13,486.85 L232.25,486.87 L232.38,486.88 L232.50,486.90 L232.62,486.91 L232.74,487.40 L232.87,495.02 L232.99,492.67 L233.11,490.74 L233.23,489.14 L233.36,487.80 L233.48,486.66 L233.60,485.69 L233.73,484.85 L233.85,484.11 L233.97,483.46 L234.09,482.87 L234.22,482.34 L234.34,481.86 L234.46,481.41 L234.58,480.99 L234.71,480.61 L234.83,480.24 L234.95,479.90 L235.07,479.57 L235.20,479.26 L235.32,478.97 L235.44,478.68 L235.57,478.41 L235.69,478.15 L235.81,477.90 L235.93,477.66 L236.06,477.43 L236.18,477.21 L236.30,476.99 L236.42,476.79 L236.55,476.59 L236.67,476.39 L236.79,476.21 L236.92,476.03 L237.04,475.86 L237.16,475.69 L237.28,475.53 L237.41,475.37 L237.53,475.22 L237.65,475.07 L237.77,474.93 L237.90,474.80 L238.02,474.67 L238.14,474.54 L238.26,474.42 L238.39,474.30 L238.51,474.18 L238.63,474.07 L238.76,473.97 L238.88,473.86 L239.00,473.76 L239.12,473.67 L239.25,473.58 L239.37,473.49 L239.49,473.40 L239.61,473.31 L239.74,473.23 L239.86,473.16 L239.98,473.08 L240.11,473.01 L240.23,472.94 L240.35,472.87 L240.47,472.80 L240.60,472.74 L240.72,472.68 L240.84,472.62 L240.96,472.56 L241.09,472.51 L241.21,472.45 L241.33,472.40 L241.45,472.35 L241.58,472.30 L241.70,472.26 L241.82,472.21 L241.95,472.17 L242.07,472.12 L242.19,472.08 L242.31,472.04 L242.44,472.01 L242.56,471.97 L242.68,471.93 L242.80,471.90 L242.93,471.87 L243.05,471.84 L243.17,471.80 L243.30,471.78 L243.42,471.75 L243.54,471.72 L243.66,471.69 L243.79,471.67 L243.91,471.64 L244.03,471.62 L244.15,471.59 L244.28,471.57 L244.40,471.55 L244.52,471.53 L244.64,471.51 L244.77,471.49 L244.89,471.47 L245.01,471.45 L245.14,473.14 L245.26,474.56 L245.38,475.76 L245.50,476.77 L245.63,477.63 L245.75,478.36 L245.87,479.00 L245.99,479.54 L246.12,480.02 L246.24,480.44 L246.36,480.81 L246.49,481.14 L246.61,481.43 L246.73,481.70 L246.85,481.94 L246.98,482.16 L247.10,482.36 L247.22,482.55 L247.34,482.73 L247.47,482.89 L247.59,483.05 L247.71,483.19 L247.84,483.33 L247.96,483.47 L248.08,483.59 L248.20,483.71 L248.33,483.83 L248.45,483.94 L248.57,484.05 L248.69,484.15 L248.82,484.25 L248.94,484.35 L249.06,484.44 L249.18,484.53 L249.31,484.62 L249.43,484.71 L249.55,484.79 L249.68,484.87 L249.80,484.95 L249.92,485.02 L250.04,485.10 L250.17,485.17 L250.29,485.23 L250.41,485.30 L250.53,485.37 L250.66,485.43 L250.78,485.49 L250.90,485.55 L251.03,485.61 L251.15,485.66 L251.27,485.72 L251.39,485.77 L251.52,485.82 L251.64,485.87 L251.76,485.92 L251.88,485.97 L252.01,486.02 L252.13,486.06 L252.25,486.10 L252.37,486.15 L252.50,486.19 L252.62,486.23 L252.74,486.27 L252.87,486.30 L252.99,486.34 L253.11,486.37 L253.23,486.41 L253.36,486.44 L253.48,486.48 L253.60,486.51 L253.72,486.54 L253.85,486.57 L253.97,486.60 L254.09,486.63 L254.22,486.65 L254.34,486.68 L254.46,486.71 L254.58,486.73 L254.71,486.75 L254.83,486.78 L254.95,486.80 L255.07,486.82 L255.20,486.85 L255.32,486.87 L255.44,486.89 L255.56,486.91 L255.69,486.93 L255.81,486.95 L255.93,486.96 L256.06,486.98 L256.18,487.00 L256.30,487.02 L256.42,487.03 L256.55,487.05 L256.67,487.07 L256.79,487.08 L256.91,487.09 L257.04,487.11 L257.16,487.12 L257.28,487.60 L257.41,495.25 L257.53,492.93 L257.65,491.02 L257.77,489.44 L257.90,488.12 L258.02,487.01 L258.14,486.06 L258.26,485.23 L258.39,484.51 L258.51,483.88 L258.63,483.31 L258.75,482.79 L258.88,482.32 L259.00,481.88 L259.12,481.48 L259.25,481.11 L259.37,480.75 L259.49,480.42 L259.61,480.10 L259.74,479.80 L259.86,479.51 L259.98,479.24 L260.10,478.97 L260.23,478.72 L260.35,478.47 L260.47,478.24 L260.60,478.01 L260.72,477.79 L260.84,477.58 L260.96,477.38 L261.09,477.18 L261.21,476.99 L261.33,476.81 L261.45,476.63 L261.58,476.46 L261.70,476.30 L261.82,476.14 L261.95,475.98 L262.07,475.83 L262.19,475.69 L262.31,475.55 L262.44,475.41 L262.56,475.28 L262.68,475.16 L262.80,475.03 L262.93,474.91 L263.05,474.80 L263.17,474.69 L263.29,474.58 L263.42,474.48 L263.54,474.38 L263.66,474.28 L263.79,474.19 L263.91,474.10 L264.03,474.01 L264.15,473.92 L264.28,473.84 L264.40,473.76 L264.52,473.69 L264.64,473.61 L264.77,473.54 L264.89,473.47 L265.01,473.40 L265.14,473.34 L265.26,473.28 L265.38,473.22 L265.50,473.16 L265.63,473.10 L265.75,473.04 L265.87,472.99 L265.99,472.94 L266.12,472.89 L266.24,472.84 L266.36,472.80 L266.48,472.75 L266.61,472.71 L266.73,472.67 L266.85,472.62 L266.98,472.59 L267.10,472.55 L267.22,472.51 L267.34,472.47 L267.47,472.44 L267.59,472.41 L267.71,472.37 L267.83,472.34 L267.96,472.31 L268.08,472.28 L268.20,472.26 L268.33,472.23 L268.45,472.20 L268.57,472.18 L268.69,472.15 L268.82,472.13 L268.94,472.10 L269.06,472.08 L269.18,472.06 L269.31,472.04 L269.43,472.02 L269.55,472.00 L269.67,473.65 L269.80,475.04 L269.92,476.21 L270.04,477.20 L270.17,478.05 L270.29,478.77 L270.41,479.38 L270.53,479.92 L270.66,480.39 L270.78,480.79 L270.90,481.16 L271.02,481.48 L271.15,481.76 L271.27,482.02 L271.39,482.26 L271.52,482.48 L271.64,482.68 L271.76,482.86 L271.88,483.03 L272.01,483.19 L272.13,483.35 L272.25,483.49 L272.37,483.63 L272.50,483.76 L272.62,483.88 L272.74,484.00 L272.86,484.11 L272.99,484.22 L273.11,484.33 L273.23,484.43 L273.36,484.53 L273.48,484.62 L273.60,484.71 L273.72,484.80 L273.85,484.89 L273.97,484.97 L274.09,485.05 L274.21,485.13 L274.34,485.20 L274.46,485.28 L274.58,485.35 L274.71,485.42 L274.83,485.49 L274.95,485.55 L275.07,485.62 L275.20,485.68 L275.32,485.74 L275.44,485.79 L275.56,485.85 L275.69,485.91 L275.81,485.96 L275.93,486.01 L276.06,486.06 L276.18,486.11 L276.30,486.16 L276.42,486.20 L276.55,486.25 L276.67,486.29 L276.79,486.34 L276.91,486.38 L277.04,486.42 L277.16,486.46 L277.28,486.49 L277.40,486.53 L277.53,486.57 L277.65,486.60 L277.77,486.64 L277.90,486.67 L278.02,486.70 L278.14,486.73 L278.26,486.76 L278.39,486.79 L278.51,486.82 L278.63,486.85 L278.75,486.87 L278.88,486.90 L279.00,486.92 L279.12,486.95 L279.25,486.97 L279.37,487.00 L279.49,487.02 L279.61,487.04 L279.74,487.06 L279.86,487.08 L279.98,487.10 L280.10,487.12 L280.23,487.14 L280.35,487.16 L280.47,487.18 L280.59,487.20 L280.72,487.21 L280.84,487.23 L280.96,487.25 L281.09,487.26 L281.21,487.28 L281.33,487.29 L281.45,487.31 L281.58,487.32 L281.70,487.33 L281.82,487.80 L281.94,495.47 L282.07,493.17 L282.19,491.29 L282.31,489.73 L282.44,488.43 L282.56,487.33 L282.68,486.39 L282.80,485.59 L282.93,484.88 L283.05,484.25 L283.17,483.70 L283.29,483.19 L283.42,482.73 L283.54,482.31 L283.66,481.91 L283.78,481.55 L283.91,481.20 L284.03,480.88 L284.15,480.57 L284.28,480.27 L284.40,479.99 L284.52,479.72 L284.64,479.46 L284.77,479.21 L284.89,478.97 L285.01,478.74 L285.13,478.52 L285.26,478.30 L285.38,478.09 L285.50,477.89 L285.63,477.70 L285.75,477.51 L285.87,477.33 L285.99,477.16 L286.12,476.99 L286.24,476.82 L286.36,476.66 L286.48,476.51 L286.61,476.36 L286.73,476.21 L286.85,476.07 L286.97,475.94 L287.10,475.81 L287.22,475.68 L287.34,475.56 L287.47,475.44 L287.59,475.32 L287.71,475.21 L287.83,475.11 L287.96,475.00 L288.08,474.90 L288.20,474.80 L288.32,474.71 L288.45,474.62 L288.57,474.53 L288.69,474.44 L288.82,474.36 L288.94,474.28 L289.06,474.20 L289.18,474.12 L289.31,474.05 L289.43,473.98 L289.55,473.91 L289.67,473.84 L289.80,473.78 L289.92,473.72 L290.04,473.66 L290.17,473.60 L290.29,473.54 L290.41,473.49 L290.53,473.43 L290.66,473.38 L290.78,473.33 L290.90,473.28 L291.02,473.24 L291.15,473.19 L291.27,473.15 L291.39,473.11 L291.51,473.07 L291.64,473.03 L291.76,472.99 L291.88,472.95 L292.01,472.91 L292.13,472.88 L292.25,472.85 L292.37,472.81 L292.50,472.78 L292.62,472.75 L292.74,472.72 L292.86,472.69 L292.99,472.66 L293.11,472.64 L293.23,472.61 L293.36,472.59 L293.48,472.56 L293.60,472.54 L293.72,472.51 L293.85,472.49 L293.97,472.47 L294.09,472.45 L294.21,474.08 L294.34,475.45 L294.46,476.60 L294.58,477.57 L294.70,478.40 L294.83,479.11 L294.95,479.72 L295.07,480.24 L295.20,480.70 L295.32,481.11 L295.44,481.46 L295.56,481.78 L295.69,482.06 L295.81,482.32 L295.93,482.55 L296.05,482.76 L296.18,482.96 L296.30,483.14 L296.42,483.31 L296.55,483.47 L296.67,483.62 L296.79,483.76 L296.91,483.89 L297.04,484.02 L297.16,484.14 L297.28,484.26 L297.40,484.37 L297.53,484.48 L297.65,484.58 L297.77,484.68 L297.89,484.78 L298.02,484.87 L298.14,484.96 L298.26,485.05 L298.39,485.13 L298.51,485.21 L298.63,485.29 L298.75,485.37 L298.88,485.45 L299.00,485.52 L299.12,485.59 L299.24,485.66 L299.37,485.72 L299.49,485.79 L299.61,485.85 L299.74,485.91 L299.86,485.97 L299.98,486.03 L300.10,486.08 L300.23,486.14 L300.35,486.19 L300.47,486.24 L300.59,486.29 L300.72,486.34 L300.84,486.38 L300.96,486.43 L301.08,486.47 L301.21,486.52 L301.33,486.56 L301.45,486.60 L301.58,486.64 L301.70,486.68 L301.82,486.71 L301.94,486.75 L302.07,486.79 L302.19,486.82 L302.31,486.85 L302.43,486.89 L302.56,486.92 L302.68,486.95 L302.80,486.98 L302.93,487.01 L303.05,487.03 L303.17,487.06 L303.29,487.09 L303.42,487.11 L303.54,487.14 L303.66,487.16 L303.78,487.19 L303.91,487.21 L304.03,487.23 L304.15,487.25 L304.28,487.27 L304.40,487.29 L304.52,487.31 L304.64,487.33 L304.77,487.35 L304.89,487.37 L305.01,487.39 L305.13,487.41 L305.26,487.42 L305.38,487.44 L305.50,487.45 L305.62,487.47 L305.75,487.48 L305.87,487.50 L305.99,487.51 L306.12,487.53 L306.24,487.54 L306.36,488.00 L306.48,495.69 L306.61,493.41 L306.73,491.55 L306.85,490.01 L306.97,488.72 L307.10,487.64 L307.22,486.72 L307.34,485.93 L307.47,485.23 L307.59,484.62 L307.71,484.08 L307.83,483.58 L307.96,483.13 L308.08,482.72 L308.20,482.34 L308.32,481.98 L308.45,481.64 L308.57,481.32 L308.69,481.02 L308.81,480.73 L308.94,480.45 L309.06,480.19 L309.18,479.94 L309.31,479.69 L309.43,479.46 L309.55,479.23 L309.67,479.01 L309.80,478.80 L309.92,478.59 L310.04,478.40 L310.16,478.21 L310.29,478.02 L310.41,477.84 L310.53,477.67 L310.66,477.50 L310.78,477.33 L310.90,477.18 L311.02,477.02 L311.15,476.88 L311.27,476.73 L311.39,476.59 L311.51,476.46 L311.64,476.33 L311.76,476.20 L311.88,476.08 L312.00,475.96 L312.13,475.84 L312.25,475.73 L312.37,475.62 L312.50,475.52 L312.62,475.41 L312.74,475.32 L312.86,475.22 L312.99,475.13 L313.11,475.04 L313.23,474.95 L313.35,474.87 L313.48,474.78 L313.60,474.71 L313.72,474.63 L313.85,474.55 L313.97,474.48 L314.09,474.41 L314.21,474.34 L314.34,474.28 L314.46,474.21 L314.58,474.15 L314.70,474.09 L314.83,474.03 L314.95,473.98 L315.07,473.92 L315.19,473.87 L315.32,473.82 L315.44,473.77 L315.56,473.72 L315.69,473.68 L315.81,473.63 L315.93,473.59 L316.05,473.54 L316.18,473.50 L316.30,473.46 L316.42,473.42 L316.54,473.39 L316.67,473.35 L316.79,473.31 L316.91,473.28 L317.04,473.25 L317.16,473.22 L317.28,473.18 L317.40,473.15 L317.53,473.13 L317.65,473.10 L317.77,473.07 L317.89,473.04 L318.02,473.02 L318.14,472.99 L318.26,472.97 L318.39,472.94 L318.51,472.92 L318.63,472.90 L318.75,474.50 L318.88,475.85 L319.00,476.98 L319.12,477.94 L319.24,478.75 L319.37,479.45 L319.49,480.05 L319.61,480.57 L319.73,481.02 L319.86,481.42 L319.98,481.77 L320.10,482.08 L320.23,482.36 L320.35,482.61 L320.47,482.84 L320.59,483.05 L320.72,483.24 L320.84,483.42 L320.96,483.58 L321.08,483.74 L321.21,483.89 L321.33,484.03 L321.45,484.16 L321.58,484.28 L321.70,484.40 L321.82,484.52 L321.94,484.63 L322.07,484.73 L322.19,484.84 L322.31,484.93 L322.43,485.03 L322.56,485.12 L322.68,485.21 L322.80,485.30 L322.92,485.38 L323.05,485.46 L323.17,485.54 L323.29,485.61 L323.42,485.69 L323.54,485.76 L323.66,485.83 L323.78,485.89 L323.91,485.96 L324.03,486.02 L324.15,486.08 L324.27,486.14 L324.40,486.20 L324.52,486.26 L324.64,486.31 L324.77,486.37 L324.89,486.42 L325.01,486.47 L325.13,486.52 L325.26,486.56 L325.38,486.61 L325.50,486.66 L325.62,486.70 L325.75,486.74 L325.87,486.78 L325.99,486.82 L326.11,486.86 L326.24,486.90 L326.36,486.94 L326.48,486.97 L326.61,487.01 L326.73,487.04 L326.85,487.07 L326.97,487.10 L327.10,487.13 L327.22,487.16 L327.34,487.19 L327.46,487.22 L327.59,487.25 L327.71,487.28 L327.83,487.30 L327.96,487.33 L328.08,487.35 L328.20,487.38 L328.32,487.40 L328.45,487.42 L328.57,487.44 L328.69,487.47 L328.81,487.49 L328.94,487.51 L329.06,487.53 L329.18,487.54 L329.30,487.56 L329.43,487.58 L329.55,487.60 L329.67,487.62 L329.80,487.63 L329.92,487.65 L330.04,487.66 L330.16,487.68 L330.29,487.69 L330.41,487.71 L330.53,487.72 L330.65,487.73 L330.78,487.75 L330.90,487.76" fill="none" stroke="#000" stroke-width="1.7" stroke-linejoin="round"/>
<path d="M48.70,465.00 L48.82,467.00 L48.95,468.81 L49.07,470.46 L49.19,471.95 L49.31,473.30 L49.44,474.53 L49.56,475.64 L49.68,476.65 L49.80,477.57 L49.93,478.40 L50.05,479.16 L50.17,479.84 L50.30,480.47 L50.42,481.04 L50.54,481.55 L50.66,482.02 L50.79,482.45 L50.91,482.84 L51.03,483.19 L51.15,483.51 L51.28,483.81 L51.40,484.07 L51.52,484.32 L51.64,484.54 L51.77,484.75 L51.89,484.93 L52.01,485.10 L52.14,485.26 L52.26,485.40 L52.38,485.53 L52.50,485.66 L52.63,485.77 L52.75,485.87 L52.87,485.96 L52.99,486.05 L53.12,486.13 L53.24,486.20 L53.36,486.27 L53.49,486.33 L53.61,486.39 L53.73,486.44 L53.85,486.49 L53.98,486.54 L54.10,486.58 L54.22,486.62 L54.34,486.66 L54.47,486.70 L54.59,486.73 L54.71,486.76 L54.83,486.79 L54.96,486.82 L55.08,486.84 L55.20,486.87 L55.33,486.89 L55.45,486.91 L55.57,486.93 L55.69,486.95 L55.82,486.97 L55.94,486.99 L56.06,487.00 L56.18,487.02 L56.31,487.03 L56.43,487.05 L56.55,487.06 L56.68,487.08 L56.80,487.09 L56.92,487.10 L57.04,487.11 L57.17,487.12 L57.29,487.13 L57.41,487.14 L57.53,487.15 L57.66,487.16 L57.78,487.17 L57.90,487.18 L58.02,487.19 L58.15,487.20 L58.27,487.21 L58.39,487.21 L58.52,487.22 L58.64,487.23 L58.76,487.24 L58.88,487.24 L59.01,487.25 L59.13,487.26 L59.25,487.26 L59.37,487.27 L59.50,487.28 L59.62,487.28 L59.74,487.29 L59.87,487.29 L59.99,487.30 L60.11,487.30 L60.23,487.31 L60.36,487.31 L60.48,487.32 L60.60,487.32 L60.72,487.33 L60.85,487.33 L60.97,488.00 L61.09,482.28 L61.21,478.45 L61.34,475.87 L61.46,474.14 L61.58,472.98 L61.71,472.19 L61.83,471.66 L61.95,471.30 L62.07,471.06 L62.20,470.89 L62.32,470.77 L62.44,470.69 L62.56,470.63 L62.69,470.58 L62.81,470.55 L62.93,470.52 L63.06,470.50 L63.18,470.48 L63.30,470.46 L63.42,470.45 L63.55,470.43 L63.67,470.42 L63.79,470.40 L63.91,470.39 L64.04,470.38 L64.16,470.36 L64.28,470.35 L64.41,470.34 L64.53,470.32 L64.65,470.31 L64.77,470.30 L64.90,470.28 L65.02,470.27 L65.14,470.26 L65.26,470.25 L65.39,470.23 L65.51,470.22 L65.63,470.21 L65.75,470.19 L65.88,470.18 L66.00,470.17 L66.12,470.15 L66.25,470.14 L66.37,470.13 L66.49,470.12 L66.61,470.10 L66.74,470.09 L66.86,470.08 L66.98,470.06 L67.10,470.05 L67.23,470.04 L67.35,470.02 L67.47,470.01 L67.60,470.00 L67.72,469.99 L67.84,469.97 L67.96,469.96 L68.09,469.95 L68.21,469.93 L68.33,469.92 L68.45,469.91 L68.58,469.89 L68.70,469.88 L68.82,469.87 L68.94,469.86 L69.07,469.84 L69.19,469.83 L69.31,469.82 L69.44,469.80 L69.56,469.79 L69.68,469.78 L69.80,469.76 L69.93,469.75 L70.05,469.74 L70.17,469.73 L70.29,469.71 L70.42,469.70 L70.54,469.69 L70.66,469.67 L70.79,469.66 L70.91,469.65 L71.03,469.63 L71.15,469.62 L71.28,469.61 L71.40,469.60 L71.52,469.58 L71.64,469.57 L71.77,469.56 L71.89,469.54 L72.01,469.53 L72.13,469.52 L72.26,469.50 L72.38,469.49 L72.50,469.48 L72.63,469.46 L72.75,469.45 L72.87,469.44 L72.99,469.43 L73.12,469.41 L73.24,469.70 L73.36,476.14 L73.48,480.05 L73.61,482.43 L73.73,483.89 L73.85,484.78 L73.98,485.33 L74.10,485.67 L74.22,485.89 L74.34,486.03 L74.47,486.12 L74.59,486.19 L74.71,486.24 L74.83,486.27 L74.96,486.31 L75.08,486.34 L75.20,486.36 L75.32,486.39 L75.45,486.41 L75.57,486.44 L75.69,486.46 L75.82,486.48 L75.94,486.51 L76.06,486.53 L76.18,486.55 L76.31,486.57 L76.43,486.60 L76.55,486.62 L76.67,486.64 L76.80,486.67 L76.92,486.69 L77.04,486.71 L77.17,486.74 L77.29,486.76 L77.41,486.78 L77.53,486.80 L77.66,486.83 L77.78,486.85 L77.90,486.87 L78.02,486.90 L78.15,486.92 L78.27,486.94 L78.39,486.97 L78.52,486.99 L78.64,487.01 L78.76,487.03 L78.88,487.06 L79.01,487.08 L79.13,487.10 L79.25,487.13 L79.37,487.15 L79.50,487.17 L79.62,487.20 L79.74,487.22 L79.86,487.24 L79.99,487.26 L80.11,487.29 L80.23,487.31 L80.36,487.33 L80.48,487.36 L80.60,487.38 L80.72,487.40 L80.85,487.43 L80.97,487.45 L81.09,487.47 L81.21,487.49 L81.34,487.52 L81.46,487.54 L81.58,487.56 L81.71,487.59 L81.83,487.61 L81.95,487.63 L82.07,487.66 L82.20,487.68 L82.32,487.70 L82.44,487.73 L82.56,487.75 L82.69,487.77 L82.81,487.79 L82.93,487.82 L83.05,487.84 L83.18,487.86 L83.30,487.89 L83.42,487.91 L83.55,487.93 L83.67,487.96 L83.79,487.98 L83.91,488.00 L84.04,488.02 L84.16,488.05 L84.28,488.07 L84.40,488.09 L84.53,488.12 L84.65,488.14 L84.77,488.16 L84.90,488.19 L85.02,488.21 L85.14,488.23 L85.26,488.25 L85.39,488.28 L85.51,488.00 L85.63,482.28 L85.75,478.45 L85.88,475.87 L86.00,474.14 L86.12,472.98 L86.24,472.19 L86.37,471.66 L86.49,471.30 L86.61,471.06 L86.74,470.89 L86.86,470.77 L86.98,470.69 L87.10,470.63 L87.23,470.58 L87.35,470.55 L87.47,470.52 L87.59,470.50 L87.72,470.48 L87.84,470.46 L87.96,470.45 L88.09,470.43 L88.21,470.42 L88.33,470.40 L88.45,470.39 L88.58,470.38 L88.70,470.36 L88.82,470.35 L88.94,470.34 L89.07,470.32 L89.19,470.31 L89.31,470.30 L89.43,470.28 L89.56,470.27 L89.68,470.26 L89.80,470.25 L89.93,470.23 L90.05,470.22 L90.17,470.21 L90.29,470.19 L90.42,470.18 L90.54,470.17 L90.66,470.15 L90.78,470.14 L90.91,470.13 L91.03,470.12 L91.15,470.10 L91.28,470.09 L91.40,470.08 L91.52,470.06 L91.64,470.05 L91.77,470.04 L91.89,470.02 L92.01,470.01 L92.13,470.00 L92.26,469.99 L92.38,469.97 L92.50,469.96 L92.63,469.95 L92.75,469.93 L92.87,469.92 L92.99,469.91 L93.12,469.89 L93.24,469.88 L93.36,469.87 L93.48,469.86 L93.61,469.84 L93.73,469.83 L93.85,469.82 L93.97,469.80 L94.10,469.79 L94.22,469.78 L94.34,469.76 L94.47,469.75 L94.59,469.74 L94.71,469.73 L94.83,469.71 L94.96,469.70 L95.08,469.69 L95.20,469.67 L95.32,469.66 L95.45,469.65 L95.57,469.63 L95.69,469.62 L95.82,469.61 L95.94,469.59 L96.06,469.58 L96.18,469.57 L96.31,469.56 L96.43,469.54 L96.55,469.53 L96.67,469.52 L96.80,469.50 L96.92,469.49 L97.04,469.48 L97.16,469.46 L97.29,469.45 L97.41,469.44 L97.53,469.43 L97.66,469.41 L97.78,469.70 L97.90,476.14 L98.02,480.05 L98.15,482.43 L98.27,483.89 L98.39,484.78 L98.51,485.33 L98.64,485.67 L98.76,485.89 L98.88,486.03 L99.01,486.12 L99.13,486.19 L99.25,486.24 L99.37,486.27 L99.50,486.31 L99.62,486.34 L99.74,486.36 L99.86,486.39 L99.99,486.41 L100.11,486.44 L100.23,486.46 L100.35,486.48 L100.48,486.51 L100.60,486.53 L100.72,486.55 L100.85,486.57 L100.97,486.60 L101.09,486.62 L101.21,486.64 L101.34,486.67 L101.46,486.69 L101.58,486.71 L101.70,486.74 L101.83,486.76 L101.95,486.78 L102.07,486.80 L102.20,486.83 L102.32,486.85 L102.44,486.87 L102.56,486.90 L102.69,486.92 L102.81,486.94 L102.93,486.97 L103.05,486.99 L103.18,487.01 L103.30,487.03 L103.42,487.06 L103.54,487.08 L103.67,487.10 L103.79,487.13 L103.91,487.15 L104.04,487.17 L104.16,487.20 L104.28,487.22 L104.40,487.24 L104.53,487.26 L104.65,487.29 L104.77,487.31 L104.89,487.33 L105.02,487.36 L105.14,487.38 L105.26,487.40 L105.39,487.43 L105.51,487.45 L105.63,487.47 L105.75,487.50 L105.88,487.52 L106.00,487.54 L106.12,487.56 L106.24,487.59 L106.37,487.61 L106.49,487.63 L106.61,487.66 L106.74,487.68 L106.86,487.70 L106.98,487.73 L107.10,487.75 L107.23,487.77 L107.35,487.79 L107.47,487.82 L107.59,487.84 L107.72,487.86 L107.84,487.89 L107.96,487.91 L108.08,487.93 L108.21,487.96 L108.33,487.98 L108.45,488.00 L108.58,488.02 L108.70,488.05 L108.82,488.07 L108.94,488.09 L109.07,488.12 L109.19,488.14 L109.31,488.16 L109.43,488.19 L109.56,488.21 L109.68,488.23 L109.80,488.25 L109.93,488.28 L110.05,488.00 L110.17,482.28 L110.29,478.45 L110.42,475.87 L110.54,474.14 L110.66,472.98 L110.78,472.19 L110.91,471.66 L111.03,471.30 L111.15,471.06 L111.27,470.89 L111.40,470.77 L111.52,470.69 L111.64,470.63 L111.77,470.58 L111.89,470.55 L112.01,470.52 L112.13,470.50 L112.26,470.48 L112.38,470.46 L112.50,470.45 L112.62,470.43 L112.75,470.42 L112.87,470.40 L112.99,470.39 L113.12,470.38 L113.24,470.36 L113.36,470.35 L113.48,470.34 L113.61,470.32 L113.73,470.31 L113.85,470.30 L113.97,470.28 L114.10,470.27 L114.22,470.26 L114.34,470.25 L114.46,470.23 L114.59,470.22 L114.71,470.21 L114.83,470.19 L114.96,470.18 L115.08,470.17 L115.20,470.15 L115.32,470.14 L115.45,470.13 L115.57,470.12 L115.69,470.10 L115.81,470.09 L115.94,470.08 L116.06,470.06 L116.18,470.05 L116.31,470.04 L116.43,470.02 L116.55,470.01 L116.67,470.00 L116.80,469.99 L116.92,469.97 L117.04,469.96 L117.16,469.95 L117.29,469.93 L117.41,469.92 L117.53,469.91 L117.65,469.89 L117.78,469.88 L117.90,469.87 L118.02,469.86 L118.15,469.84 L118.27,469.83 L118.39,469.82 L118.51,469.80 L118.64,469.79 L118.76,469.78 L118.88,469.76 L119.00,469.75 L119.13,469.74 L119.25,469.73 L119.37,469.71 L119.50,469.70 L119.62,469.69 L119.74,469.67 L119.86,469.66 L119.99,469.65 L120.11,469.63 L120.23,469.62 L120.35,469.61 L120.48,469.59 L120.60,469.58 L120.72,469.57 L120.85,469.56 L120.97,469.54 L121.09,469.53 L121.21,469.52 L121.34,469.50 L121.46,469.49 L121.58,469.48 L121.70,469.46 L121.83,469.45 L121.95,469.44 L122.07,469.43 L122.19,469.41 L122.32,469.70 L122.44,476.14 L122.56,480.05 L122.69,482.43 L122.81,483.89 L122.93,484.78 L123.05,485.33 L123.18,485.67 L123.30,485.89 L123.42,486.03 L123.54,486.12 L123.67,486.19 L123.79,486.24 L123.91,486.27 L124.04,486.31 L124.16,486.34 L124.28,486.36 L124.40,486.39 L124.53,486.41 L124.65,486.44 L124.77,486.46 L124.89,486.48 L125.02,486.51 L125.14,486.53 L125.26,486.55 L125.38,486.57 L125.51,486.60 L125.63,486.62 L125.75,486.64 L125.88,486.67 L126.00,486.69 L126.12,486.71 L126.24,486.74 L126.37,486.76 L126.49,486.78 L126.61,486.80 L126.73,486.83 L126.86,486.85 L126.98,486.87 L127.10,486.90 L127.23,486.92 L127.35,486.94 L127.47,486.97 L127.59,486.99 L127.72,487.01 L127.84,487.03 L127.96,487.06 L128.08,487.08 L128.21,487.10 L128.33,487.13 L128.45,487.15 L128.57,487.17 L128.70,487.20 L128.82,487.22 L128.94,487.24 L129.07,487.26 L129.19,487.29 L129.31,487.31 L129.43,487.33 L129.56,487.36 L129.68,487.38 L129.80,487.40 L129.92,487.43 L130.05,487.45 L130.17,487.47 L130.29,487.50 L130.42,487.52 L130.54,487.54 L130.66,487.56 L130.78,487.59 L130.91,487.61 L131.03,487.63 L131.15,487.66 L131.27,487.68 L131.40,487.70 L131.52,487.73 L131.64,487.75 L131.76,487.77 L131.89,487.79 L132.01,487.82 L132.13,487.84 L132.26,487.86 L132.38,487.89 L132.50,487.91 L132.62,487.93 L132.75,487.96 L132.87,487.98 L132.99,488.00 L133.11,488.02 L133.24,488.05 L133.36,488.07 L133.48,488.09 L133.61,488.12 L133.73,488.14 L133.85,488.16 L133.97,488.19 L134.10,488.21 L134.22,488.23 L134.34,488.25 L134.46,488.28 L134.59,488.00 L134.71,482.28 L134.83,478.45 L134.96,475.87 L135.08,474.14 L135.20,472.98 L135.32,472.19 L135.45,471.66 L135.57,471.30 L135.69,471.06 L135.81,470.89 L135.94,470.77 L136.06,470.69 L136.18,470.63 L136.30,470.58 L136.43,470.55 L136.55,470.52 L136.67,470.50 L136.80,470.48 L136.92,470.46 L137.04,470.45 L137.16,470.43 L137.29,470.42 L137.41,470.40 L137.53,470.39 L137.65,470.38 L137.78,470.36 L137.90,470.35 L138.02,470.34 L138.15,470.32 L138.27,470.31 L138.39,470.30 L138.51,470.28 L138.64,470.27 L138.76,470.26 L138.88,470.25 L139.00,470.23 L139.13,470.22 L139.25,470.21 L139.37,470.19 L139.49,470.18 L139.62,470.17 L139.74,470.15 L139.86,470.14 L139.99,470.13 L140.11,470.12 L140.23,470.10 L140.35,470.09 L140.48,470.08 L140.60,470.06 L140.72,470.05 L140.84,470.04 L140.97,470.02 L141.09,470.01 L141.21,470.00 L141.34,469.99 L141.46,469.97 L141.58,469.96 L141.70,469.95 L141.83,469.93 L141.95,469.92 L142.07,469.91 L142.19,469.89 L142.32,469.88 L142.44,469.87 L142.56,469.86 L142.68,469.84 L142.81,469.83 L142.93,469.82 L143.05,469.80 L143.18,469.79 L143.30,469.78 L143.42,469.76 L143.54,469.75 L143.67,469.74 L143.79,469.73 L143.91,469.71 L144.03,469.70 L144.16,469.69 L144.28,469.67 L144.40,469.66 L144.53,469.65 L144.65,469.63 L144.77,469.62 L144.89,469.61 L145.02,469.59 L145.14,469.58 L145.26,469.57 L145.38,469.56 L145.51,469.54 L145.63,469.53 L145.75,469.52 L145.87,469.50 L146.00,469.49 L146.12,469.48 L146.24,469.46 L146.37,469.45 L146.49,469.44 L146.61,469.43 L146.73,469.41 L146.86,469.70 L146.98,476.14 L147.10,480.05 L147.22,482.43 L147.35,483.89 L147.47,484.78 L147.59,485.33 L147.72,485.67 L147.84,485.89 L147.96,486.03 L148.08,486.12 L148.21,486.19 L148.33,486.24 L148.45,486.27 L148.57,486.31 L148.70,486.34 L148.82,486.36 L148.94,486.39 L149.07,486.41 L149.19,486.44 L149.31,486.46 L149.43,486.48 L149.56,486.51 L149.68,486.53 L149.80,486.55 L149.92,486.57 L150.05,486.60 L150.17,486.62 L150.29,486.64 L150.41,486.67 L150.54,486.69 L150.66,486.71 L150.78,486.74 L150.91,486.76 L151.03,486.78 L151.15,486.80 L151.27,486.83 L151.40,486.85 L151.52,486.87 L151.64,486.90 L151.76,486.92 L151.89,486.94 L152.01,486.97 L152.13,486.99 L152.26,487.01 L152.38,487.03 L152.50,487.06 L152.62,487.08 L152.75,487.10 L152.87,487.13 L152.99,487.15 L153.11,487.17 L153.24,487.20 L153.36,487.22 L153.48,487.24 L153.60,487.26 L153.73,487.29 L153.85,487.31 L153.97,487.33 L154.10,487.36 L154.22,487.38 L154.34,487.40 L154.46,487.43 L154.59,487.45 L154.71,487.47 L154.83,487.50 L154.95,487.52 L155.08,487.54 L155.20,487.56 L155.32,487.59 L155.45,487.61 L155.57,487.63 L155.69,487.66 L155.81,487.68 L155.94,487.70 L156.06,487.73 L156.18,487.75 L156.30,487.77 L156.43,487.79 L156.55,487.82 L156.67,487.84 L156.79,487.86 L156.92,487.89 L157.04,487.91 L157.16,487.93 L157.29,487.96 L157.41,487.98 L157.53,488.00 L157.65,488.02 L157.78,488.05 L157.90,488.07 L158.02,488.09 L158.14,488.12 L158.27,488.14 L158.39,488.16 L158.51,488.19 L158.64,488.21 L158.76,488.23 L158.88,488.25 L159.00,488.28 L159.13,488.00 L159.25,482.28 L159.37,478.45 L159.49,475.87 L159.62,474.14 L159.74,472.98 L159.86,472.19 L159.98,471.66 L160.11,471.30 L160.23,471.06 L160.35,470.89 L160.48,470.77 L160.60,470.69 L160.72,470.63 L160.84,470.58 L160.97,470.55 L161.09,470.52 L161.21,470.50 L161.33,470.48 L161.46,470.46 L161.58,470.45 L161.70,470.43 L161.83,470.42 L161.95,470.40 L162.07,470.39 L162.19,470.38 L162.32,470.36 L162.44,470.35 L162.56,470.34 L162.68,470.32 L162.81,470.31 L162.93,470.30 L163.05,470.28 L163.18,470.27 L163.30,470.26 L163.42,470.25 L163.54,470.23 L163.67,470.22 L163.79,470.21 L163.91,470.19 L164.03,470.18 L164.16,470.17 L164.28,470.15 L164.40,470.14 L164.52,470.13 L164.65,470.12 L164.77,470.10 L164.89,470.09 L165.02,470.08 L165.14,470.06 L165.26,470.05 L165.38,470.04 L165.51,470.02 L165.63,470.01 L165.75,470.00 L165.87,469.99 L166.00,469.97 L166.12,469.96 L166.24,469.95 L166.37,469.93 L166.49,469.92 L166.61,469.91 L166.73,469.89 L166.86,469.88 L166.98,469.87 L167.10,469.86 L167.22,469.84 L167.35,469.83 L167.47,469.82 L167.59,469.80 L167.71,469.79 L167.84,469.78 L167.96,469.76 L168.08,469.75 L168.21,469.74 L168.33,469.73 L168.45,469.71 L168.57,469.70 L168.70,469.69 L168.82,469.67 L168.94,469.66 L169.06,469.65 L169.19,469.63 L169.31,469.62 L169.43,469.61 L169.56,469.59 L169.68,469.58 L169.80,469.57 L169.92,469.56 L170.05,469.54 L170.17,469.53 L170.29,469.52 L170.41,469.50 L170.54,469.49 L170.66,469.48 L170.78,469.46 L170.90,469.45 L171.03,469.44 L171.15,469.43 L171.27,469.41 L171.40,469.70 L171.52,476.14 L171.64,480.05 L171.76,482.43 L171.89,483.89 L172.01,484.78 L172.13,485.33 L172.25,485.67 L172.38,485.89 L172.50,486.03 L172.62,486.12 L172.75,486.19 L172.87,486.24 L172.99,486.27 L173.11,486.31 L173.24,486.34 L173.36,486.36 L173.48,486.39 L173.60,486.41 L173.73,486.44 L173.85,486.46 L173.97,486.48 L174.09,486.51 L174.22,486.53 L174.34,486.55 L174.46,486.57 L174.59,486.60 L174.71,486.62 L174.83,486.64 L174.95,486.67 L175.08,486.69 L175.20,486.71 L175.32,486.74 L175.44,486.76 L175.57,486.78 L175.69,486.80 L175.81,486.83 L175.94,486.85 L176.06,486.87 L176.18,486.90 L176.30,486.92 L176.43,486.94 L176.55,486.97 L176.67,486.99 L176.79,487.01 L176.92,487.03 L177.04,487.06 L177.16,487.08 L177.29,487.10 L177.41,487.13 L177.53,487.15 L177.65,487.17 L177.78,487.20 L177.90,487.22 L178.02,487.24 L178.14,487.26 L178.27,487.29 L178.39,487.31 L178.51,487.33 L178.63,487.36 L178.76,487.38 L178.88,487.40 L179.00,487.43 L179.13,487.45 L179.25,487.47 L179.37,487.50 L179.49,487.52 L179.62,487.54 L179.74,487.56 L179.86,487.59 L179.98,487.61 L180.11,487.63 L180.23,487.66 L180.35,487.68 L180.48,487.70 L180.60,487.73 L180.72,487.75 L180.84,487.77 L180.97,487.79 L181.09,487.82 L181.21,487.84 L181.33,487.86 L181.46,487.89 L181.58,487.91 L181.70,487.93 L181.82,487.96 L181.95,487.98 L182.07,488.00 L182.19,488.02 L182.32,488.05 L182.44,488.07 L182.56,488.09 L182.68,488.12 L182.81,488.14 L182.93,488.16 L183.05,488.19 L183.17,488.21 L183.30,488.23 L183.42,488.25 L183.54,488.28 L183.67,488.00 L183.79,482.28 L183.91,478.45 L184.03,475.87 L184.16,474.14 L184.28,472.98 L184.40,472.19 L184.52,471.66 L184.65,471.30 L184.77,471.06 L184.89,470.89 L185.01,470.77 L185.14,470.69 L185.26,470.63 L185.38,470.58 L185.51,470.55 L185.63,470.52 L185.75,470.50 L185.87,470.48 L186.00,470.46 L186.12,470.45 L186.24,470.43 L186.36,470.42 L186.49,470.40 L186.61,470.39 L186.73,470.38 L186.86,470.36 L186.98,470.35 L187.10,470.34 L187.22,470.32 L187.35,470.31 L187.47,470.30 L187.59,470.28 L187.71,470.27 L187.84,470.26 L187.96,470.25 L188.08,470.23 L188.20,470.22 L188.33,470.21 L188.45,470.19 L188.57,470.18 L188.70,470.17 L188.82,470.15 L188.94,470.14 L189.06,470.13 L189.19,470.12 L189.31,470.10 L189.43,470.09 L189.55,470.08 L189.68,470.06 L189.80,470.05 L189.92,470.04 L190.05,470.02 L190.17,470.01 L190.29,470.00 L190.41,469.99 L190.54,469.97 L190.66,469.96 L190.78,469.95 L190.90,469.93 L191.03,469.92 L191.15,469.91 L191.27,469.89 L191.40,469.88 L191.52,469.87 L191.64,469.86 L191.76,469.84 L191.89,469.83 L192.01,469.82 L192.13,469.80 L192.25,469.79 L192.38,469.78 L192.50,469.76 L192.62,469.75 L192.74,469.74 L192.87,469.73 L192.99,469.71 L193.11,469.70 L193.24,469.69 L193.36,469.67 L193.48,469.66 L193.60,469.65 L193.73,469.63 L193.85,469.62 L193.97,469.61 L194.09,469.59 L194.22,469.58 L194.34,469.57 L194.46,469.56 L194.59,469.54 L194.71,469.53 L194.83,469.52 L194.95,469.50 L195.08,469.49 L195.20,469.48 L195.32,469.46 L195.44,469.45 L195.57,469.44 L195.69,469.43 L195.81,469.41 L195.93,469.70 L196.06,476.14 L196.18,480.05 L196.30,482.43 L196.43,483.89 L196.55,484.78 L196.67,485.33 L196.79,485.67 L196.92,485.89 L197.04,486.03 L197.16,486.12 L197.28,486.19 L197.41,486.24 L197.53,486.27 L197.65,486.31 L197.78,486.34 L197.90,486.36 L198.02,486.39 L198.14,486.41 L198.27,486.44 L198.39,486.46 L198.51,486.48 L198.63,486.51 L198.76,486.53 L198.88,486.55 L199.00,486.57 L199.12,486.60 L199.25,486.62 L199.37,486.64 L199.49,486.67 L199.62,486.69 L199.74,486.71 L199.86,486.74 L199.98,486.76 L200.11,486.78 L200.23,486.80 L200.35,486.83 L200.47,486.85 L200.60,486.87 L200.72,486.90 L200.84,486.92 L200.97,486.94 L201.09,486.97 L201.21,486.99 L201.33,487.01 L201.46,487.03 L201.58,487.06 L201.70,487.08 L201.82,487.10 L201.95,487.13 L202.07,487.15 L202.19,487.17 L202.31,487.20 L202.44,487.22 L202.56,487.24 L202.68,487.26 L202.81,487.29 L202.93,487.31 L203.05,487.33 L203.17,487.36 L203.30,487.38 L203.42,487.40 L203.54,487.43 L203.66,487.45 L203.79,487.47 L203.91,487.50 L204.03,487.52 L204.16,487.54 L204.28,487.56 L204.40,487.59 L204.52,487.61 L204.65,487.63 L204.77,487.66 L204.89,487.68 L205.01,487.70 L205.14,487.73 L205.26,487.75 L205.38,487.77 L205.51,487.79 L205.63,487.82 L205.75,487.84 L205.87,487.86 L206.00,487.89 L206.12,487.91 L206.24,487.93 L206.36,487.96 L206.49,487.98 L206.61,488.00 L206.73,488.02 L206.85,488.05 L206.98,488.07 L207.10,488.09 L207.22,488.12 L207.35,488.14 L207.47,488.16 L207.59,488.19 L207.71,488.21 L207.84,488.23 L207.96,488.25 L208.08,488.28 L208.20,488.00 L208.33,482.28 L208.45,478.45 L208.57,475.87 L208.70,474.14 L208.82,472.98 L208.94,472.19 L209.06,471.66 L209.19,471.30 L209.31,471.06 L209.43,470.89 L209.55,470.77 L209.68,470.69 L209.80,470.63 L209.92,470.58 L210.04,470.55 L210.17,470.52 L210.29,470.50 L210.41,470.48 L210.54,470.46 L210.66,470.45 L210.78,470.43 L210.90,470.42 L211.03,470.40 L211.15,470.39 L211.27,470.38 L211.39,470.36 L211.52,470.35 L211.64,470.34 L211.76,470.32 L211.89,470.31 L212.01,470.30 L212.13,470.28 L212.25,470.27 L212.38,470.26 L212.50,470.25 L212.62,470.23 L212.74,470.22 L212.87,470.21 L212.99,470.19 L213.11,470.18 L213.23,470.17 L213.36,470.15 L213.48,470.14 L213.60,470.13 L213.73,470.12 L213.85,470.10 L213.97,470.09 L214.09,470.08 L214.22,470.06 L214.34,470.05 L214.46,470.04 L214.58,470.02 L214.71,470.01 L214.83,470.00 L214.95,469.99 L215.08,469.97 L215.20,469.96 L215.32,469.95 L215.44,469.93 L215.57,469.92 L215.69,469.91 L215.81,469.89 L215.93,469.88 L216.06,469.87 L216.18,469.86 L216.30,469.84 L216.42,469.83 L216.55,469.82 L216.67,469.80 L216.79,469.79 L216.92,469.78 L217.04,469.76 L217.16,469.75 L217.28,469.74 L217.41,469.73 L217.53,469.71 L217.65,469.70 L217.77,469.69 L217.90,469.67 L218.02,469.66 L218.14,469.65 L218.27,469.63 L218.39,469.62 L218.51,469.61 L218.63,469.59 L218.76,469.58 L218.88,469.57 L219.00,469.56 L219.12,469.54 L219.25,469.53 L219.37,469.52 L219.49,469.50 L219.62,469.49 L219.74,469.48 L219.86,469.46 L219.98,469.45 L220.11,469.44 L220.23,469.43 L220.35,469.41 L220.47,469.70 L220.60,476.14 L220.72,480.05 L220.84,482.43 L220.96,483.89 L221.09,484.78 L221.21,485.33 L221.33,485.67 L221.46,485.89 L221.58,486.03 L221.70,486.12 L221.82,486.19 L221.95,486.24 L222.07,486.27 L222.19,486.31 L222.31,486.34 L222.44,486.36 L222.56,486.39 L222.68,486.41 L222.81,486.44 L222.93,486.46 L223.05,486.48 L223.17,486.51 L223.30,486.53 L223.42,486.55 L223.54,486.57 L223.66,486.60 L223.79,486.62 L223.91,486.64 L224.03,486.67 L224.15,486.69 L224.28,486.71 L224.40,486.74 L224.52,486.76 L224.65,486.78 L224.77,486.80 L224.89,486.83 L225.01,486.85 L225.14,486.87 L225.26,486.90 L225.38,486.92 L225.50,486.94 L225.63,486.97 L225.75,486.99 L225.87,487.01 L226.00,487.03 L226.12,487.06 L226.24,487.08 L226.36,487.10 L226.49,487.13 L226.61,487.15 L226.73,487.17 L226.85,487.20 L226.98,487.22 L227.10,487.24 L227.22,487.26 L227.34,487.29 L227.47,487.31 L227.59,487.33 L227.71,487.36 L227.84,487.38 L227.96,487.40 L228.08,487.43 L228.20,487.45 L228.33,487.47 L228.45,487.50 L228.57,487.52 L228.69,487.54 L228.82,487.56 L228.94,487.59 L229.06,487.61 L229.19,487.63 L229.31,487.66 L229.43,487.68 L229.55,487.70 L229.68,487.73 L229.80,487.75 L229.92,487.77 L230.04,487.79 L230.17,487.82 L230.29,487.84 L230.41,487.86 L230.53,487.89 L230.66,487.91 L230.78,487.93 L230.90,487.96 L231.03,487.98 L231.15,488.00 L231.27,488.02 L231.39,488.05 L231.52,488.07 L231.64,488.09 L231.76,488.12 L231.88,488.14 L232.01,488.16 L232.13,488.19 L232.25,488.21 L232.38,488.23 L232.50,488.25 L232.62,488.28 L232.74,488.00 L232.87,482.28 L232.99,478.45 L233.11,475.87 L233.23,474.14 L233.36,472.98 L233.48,472.19 L233.60,471.66 L233.73,471.30 L233.85,471.06 L233.97,470.89 L234.09,470.77 L234.22,470.69 L234.34,470.63 L234.46,470.58 L234.58,470.55 L234.71,470.52 L234.83,470.50 L234.95,470.48 L235.07,470.46 L235.20,470.45 L235.32,470.43 L235.44,470.42 L235.57,470.40 L235.69,470.39 L235.81,470.38 L235.93,470.36 L236.06,470.35 L236.18,470.34 L236.30,470.32 L236.42,470.31 L236.55,470.30 L236.67,470.28 L236.79,470.27 L236.92,470.26 L237.04,470.25 L237.16,470.23 L237.28,470.22 L237.41,470.21 L237.53,470.19 L237.65,470.18 L237.77,470.17 L237.90,470.15 L238.02,470.14 L238.14,470.13 L238.26,470.12 L238.39,470.10 L238.51,470.09 L238.63,470.08 L238.76,470.06 L238.88,470.05 L239.00,470.04 L239.12,470.02 L239.25,470.01 L239.37,470.00 L239.49,469.99 L239.61,469.97 L239.74,469.96 L239.86,469.95 L239.98,469.93 L240.11,469.92 L240.23,469.91 L240.35,469.89 L240.47,469.88 L240.60,469.87 L240.72,469.86 L240.84,469.84 L240.96,469.83 L241.09,469.82 L241.21,469.80 L241.33,469.79 L241.45,469.78 L241.58,469.76 L241.70,469.75 L241.82,469.74 L241.95,469.73 L242.07,469.71 L242.19,469.70 L242.31,469.69 L242.44,469.67 L242.56,469.66 L242.68,469.65 L242.80,469.63 L242.93,469.62 L243.05,469.61 L243.17,469.59 L243.30,469.58 L243.42,469.57 L243.54,469.56 L243.66,469.54 L243.79,469.53 L243.91,469.52 L244.03,469.50 L244.15,469.49 L244.28,469.48 L244.40,469.46 L244.52,469.45 L244.64,469.44 L244.77,469.43 L244.89,469.41 L245.01,469.70 L245.14,476.14 L245.26,480.05 L245.38,482.43 L245.50,483.89 L245.63,484.78 L245.75,485.33 L245.87,485.67 L245.99,485.89 L246.12,486.03 L246.24,486.12 L246.36,486.19 L246.49,486.24 L246.61,486.27 L246.73,486.31 L246.85,486.34 L246.98,486.36 L247.10,486.39 L247.22,486.41 L247.34,486.44 L247.47,486.46 L247.59,486.48 L247.71,486.51 L247.84,486.53 L247.96,486.55 L248.08,486.57 L248.20,486.60 L248.33,486.62 L248.45,486.64 L248.57,486.67 L248.69,486.69 L248.82,486.71 L248.94,486.74 L249.06,486.76 L249.18,486.78 L249.31,486.80 L249.43,486.83 L249.55,486.85 L249.68,486.87 L249.80,486.90 L249.92,486.92 L250.04,486.94 L250.17,486.97 L250.29,486.99 L250.41,487.01 L250.53,487.03 L250.66,487.06 L250.78,487.08 L250.90,487.10 L251.03,487.13 L251.15,487.15 L251.27,487.17 L251.39,487.20 L251.52,487.22 L251.64,487.24 L251.76,487.26 L251.88,487.29 L252.01,487.31 L252.13,487.33 L252.25,487.36 L252.37,487.38 L252.50,487.40 L252.62,487.43 L252.74,487.45 L252.87,487.47 L252.99,487.50 L253.11,487.52 L253.23,487.54 L253.36,487.56 L253.48,487.59 L253.60,487.61 L253.72,487.63 L253.85,487.66 L253.97,487.68 L254.09,487.70 L254.22,487.73 L254.34,487.75 L254.46,487.77 L254.58,487.79 L254.71,487.82 L254.83,487.84 L254.95,487.86 L255.07,487.89 L255.20,487.91 L255.32,487.93 L255.44,487.96 L255.56,487.98 L255.69,488.00 L255.81,488.02 L255.93,488.05 L256.06,488.07 L256.18,488.09 L256.30,488.12 L256.42,488.14 L256.55,488.16 L256.67,488.19 L256.79,488.21 L256.91,488.23 L257.04,488.25 L257.16,488.28 L257.28,488.00 L257.41,482.28 L257.53,478.45 L257.65,475.87 L257.77,474.14 L257.90,472.98 L258.02,472.19 L258.14,471.66 L258.26,471.30 L258.39,471.06 L258.51,470.89 L258.63,470.77 L258.75,470.69 L258.88,470.63 L259.00,470.58 L259.12,470.55 L259.25,470.52 L259.37,470.50 L259.49,470.48 L259.61,470.46 L259.74,470.45 L259.86,470.43 L259.98,470.42 L260.10,470.40 L260.23,470.39 L260.35,470.38 L260.47,470.36 L260.60,470.35 L260.72,470.34 L260.84,470.32 L260.96,470.31 L261.09,470.30 L261.21,470.28 L261.33,470.27 L261.45,470.26 L261.58,470.25 L261.70,470.23 L261.82,470.22 L261.95,470.21 L262.07,470.19 L262.19,470.18 L262.31,470.17 L262.44,470.15 L262.56,470.14 L262.68,470.13 L262.80,470.12 L262.93,470.10 L263.05,470.09 L263.17,470.08 L263.29,470.06 L263.42,470.05 L263.54,470.04 L263.66,470.02 L263.79,470.01 L263.91,470.00 L264.03,469.99 L264.15,469.97 L264.28,469.96 L264.40,469.95 L264.52,469.93 L264.64,469.92 L264.77,469.91 L264.89,469.89 L265.01,469.88 L265.14,469.87 L265.26,469.86 L265.38,469.84 L265.50,469.83 L265.63,469.82 L265.75,469.80 L265.87,469.79 L265.99,469.78 L266.12,469.76 L266.24,469.75 L266.36,469.74 L266.48,469.73 L266.61,469.71 L266.73,469.70 L266.85,469.69 L266.98,469.67 L267.10,469.66 L267.22,469.65 L267.34,469.63 L267.47,469.62 L267.59,469.61 L267.71,469.59 L267.83,469.58 L267.96,469.57 L268.08,469.56 L268.20,469.54 L268.33,469.53 L268.45,469.52 L268.57,469.50 L268.69,469.49 L268.82,469.48 L268.94,469.46 L269.06,469.45 L269.18,469.44 L269.31,469.43 L269.43,469.41 L269.55,469.70 L269.67,476.14 L269.80,480.05 L269.92,482.43 L270.04,483.89 L270.17,484.78 L270.29,485.33 L270.41,485.67 L270.53,485.89 L270.66,486.03 L270.78,486.12 L270.90,486.19 L271.02,486.24 L271.15,486.27 L271.27,486.31 L271.39,486.34 L271.52,486.36 L271.64,486.39 L271.76,486.41 L271.88,486.44 L272.01,486.46 L272.13,486.48 L272.25,486.51 L272.37,486.53 L272.50,486.55 L272.62,486.57 L272.74,486.60 L272.86,486.62 L272.99,486.64 L273.11,486.67 L273.23,486.69 L273.36,486.71 L273.48,486.74 L273.60,486.76 L273.72,486.78 L273.85,486.80 L273.97,486.83 L274.09,486.85 L274.21,486.87 L274.34,486.90 L274.46,486.92 L274.58,486.94 L274.71,486.97 L274.83,486.99 L274.95,487.01 L275.07,487.03 L275.20,487.06 L275.32,487.08 L275.44,487.10 L275.56,487.13 L275.69,487.15 L275.81,487.17 L275.93,487.20 L276.06,487.22 L276.18,487.24 L276.30,487.26 L276.42,487.29 L276.55,487.31 L276.67,487.33 L276.79,487.36 L276.91,487.38 L277.04,487.40 L277.16,487.43 L277.28,487.45 L277.40,487.47 L277.53,487.50 L277.65,487.52 L277.77,487.54 L277.90,487.56 L278.02,487.59 L278.14,487.61 L278.26,487.63 L278.39,487.66 L278.51,487.68 L278.63,487.70 L278.75,487.73 L278.88,487.75 L279.00,487.77 L279.12,487.79 L279.25,487.82 L279.37,487.84 L279.49,487.86 L279.61,487.89 L279.74,487.91 L279.86,487.93 L279.98,487.96 L280.10,487.98 L280.23,488.00 L280.35,488.02 L280.47,488.05 L280.59,488.07 L280.72,488.09 L280.84,488.12 L280.96,488.14 L281.09,488.16 L281.21,488.19 L281.33,488.21 L281.45,488.23 L281.58,488.25 L281.70,488.28 L281.82,488.00 L281.94,482.28 L282.07,478.45 L282.19,475.87 L282.31,474.14 L282.44,472.98 L282.56,472.19 L282.68,471.66 L282.80,471.30 L282.93,471.06 L283.05,470.89 L283.17,470.77 L283.29,470.69 L283.42,470.63 L283.54,470.58 L283.66,470.55 L283.78,470.52 L283.91,470.50 L284.03,470.48 L284.15,470.46 L284.28,470.45 L284.40,470.43 L284.52,470.42 L284.64,470.40 L284.77,470.39 L284.89,470.38 L285.01,470.36 L285.13,470.35 L285.26,470.34 L285.38,470.32 L285.50,470.31 L285.63,470.30 L285.75,470.28 L285.87,470.27 L285.99,470.26 L286.12,470.25 L286.24,470.23 L286.36,470.22 L286.48,470.21 L286.61,470.19 L286.73,470.18 L286.85,470.17 L286.97,470.15 L287.10,470.14 L287.22,470.13 L287.34,470.12 L287.47,470.10 L287.59,470.09 L287.71,470.08 L287.83,470.06 L287.96,470.05 L288.08,470.04 L288.20,470.02 L288.32,470.01 L288.45,470.00 L288.57,469.99 L288.69,469.97 L288.82,469.96 L288.94,469.95 L289.06,469.93 L289.18,469.92 L289.31,469.91 L289.43,469.89 L289.55,469.88 L289.67,469.87 L289.80,469.86 L289.92,469.84 L290.04,469.83 L290.17,469.82 L290.29,469.80 L290.41,469.79 L290.53,469.78 L290.66,469.76 L290.78,469.75 L290.90,469.74 L291.02,469.73 L291.15,469.71 L291.27,469.70 L291.39,469.69 L291.51,469.67 L291.64,469.66 L291.76,469.65 L291.88,469.63 L292.01,469.62 L292.13,469.61 L292.25,469.59 L292.37,469.58 L292.50,469.57 L292.62,469.56 L292.74,469.54 L292.86,469.53 L292.99,469.52 L293.11,469.50 L293.23,469.49 L293.36,469.48 L293.48,469.46 L293.60,469.45 L293.72,469.44 L293.85,469.43 L293.97,469.41 L294.09,469.70 L294.21,476.14 L294.34,480.05 L294.46,482.43 L294.58,483.89 L294.70,484.78 L294.83,485.33 L294.95,485.67 L295.07,485.89 L295.20,486.03 L295.32,486.12 L295.44,486.19 L295.56,486.24 L295.69,486.27 L295.81,486.31 L295.93,486.34 L296.05,486.36 L296.18,486.39 L296.30,486.41 L296.42,486.44 L296.55,486.46 L296.67,486.48 L296.79,486.51 L296.91,486.53 L297.04,486.55 L297.16,486.57 L297.28,486.60 L297.40,486.62 L297.53,486.64 L297.65,486.67 L297.77,486.69 L297.89,486.71 L298.02,486.74 L298.14,486.76 L298.26,486.78 L298.39,486.80 L298.51,486.83 L298.63,486.85 L298.75,486.87 L298.88,486.90 L299.00,486.92 L299.12,486.94 L299.24,486.97 L299.37,486.99 L299.49,487.01 L299.61,487.03 L299.74,487.06 L299.86,487.08 L299.98,487.10 L300.10,487.13 L300.23,487.15 L300.35,487.17 L300.47,487.20 L300.59,487.22 L300.72,487.24 L300.84,487.26 L300.96,487.29 L301.08,487.31 L301.21,487.33 L301.33,487.36 L301.45,487.38 L301.58,487.40 L301.70,487.43 L301.82,487.45 L301.94,487.47 L302.07,487.50 L302.19,487.52 L302.31,487.54 L302.43,487.56 L302.56,487.59 L302.68,487.61 L302.80,487.63 L302.93,487.66 L303.05,487.68 L303.17,487.70 L303.29,487.73 L303.42,487.75 L303.54,487.77 L303.66,487.79 L303.78,487.82 L303.91,487.84 L304.03,487.86 L304.15,487.89 L304.28,487.91 L304.40,487.93 L304.52,487.96 L304.64,487.98 L304.77,488.00 L304.89,488.02 L305.01,488.05 L305.13,488.07 L305.26,488.09 L305.38,488.12 L305.50,488.14 L305.62,488.16 L305.75,488.19 L305.87,488.21 L305.99,488.23 L306.12,488.25 L306.24,488.28 L306.36,488.00 L306.48,482.28 L306.61,478.45 L306.73,475.87 L306.85,474.14 L306.97,472.98 L307.10,472.19 L307.22,471.66 L307.34,471.30 L307.47,471.06 L307.59,470.89 L307.71,470.77 L307.83,470.69 L307.96,470.63 L308.08,470.58 L308.20,470.55 L308.32,470.52 L308.45,470.50 L308.57,470.48 L308.69,470.46 L308.81,470.45 L308.94,470.43 L309.06,470.42 L309.18,470.40 L309.31,470.39 L309.43,470.38 L309.55,470.36 L309.67,470.35 L309.80,470.34 L309.92,470.32 L310.04,470.31 L310.16,470.30 L310.29,470.28 L310.41,470.27 L310.53,470.26 L310.66,470.25 L310.78,470.23 L310.90,470.22 L311.02,470.21 L311.15,470.19 L311.27,470.18 L311.39,470.17 L311.51,470.15 L311.64,470.14 L311.76,470.13 L311.88,470.12 L312.00,470.10 L312.13,470.09 L312.25,470.08 L312.37,470.06 L312.50,470.05 L312.62,470.04 L312.74,470.02 L312.86,470.01 L312.99,470.00 L313.11,469.99 L313.23,469.97 L313.35,469.96 L313.48,469.95 L313.60,469.93 L313.72,469.92 L313.85,469.91 L313.97,469.89 L314.09,469.88 L314.21,469.87 L314.34,469.86 L314.46,469.84 L314.58,469.83 L314.70,469.82 L314.83,469.80 L314.95,469.79 L315.07,469.78 L315.19,469.76 L315.32,469.75 L315.44,469.74 L315.56,469.73 L315.69,469.71 L315.81,469.70 L315.93,469.69 L316.05,469.67 L316.18,469.66 L316.30,469.65 L316.42,469.63 L316.54,469.62 L316.67,469.61 L316.79,469.59 L316.91,469.58 L317.04,469.57 L317.16,469.56 L317.28,469.54 L317.40,469.53 L317.53,469.52 L317.65,469.50 L317.77,469.49 L317.89,469.48 L318.02,469.46 L318.14,469.45 L318.26,469.44 L318.39,469.43 L318.51,469.41 L318.63,469.70 L318.75,476.14 L318.88,480.05 L319.00,482.43 L319.12,483.89 L319.24,484.78 L319.37,485.33 L319.49,485.67 L319.61,485.89 L319.73,486.03 L319.86,486.12 L319.98,486.19 L320.10,486.24 L320.23,486.27 L320.35,486.31 L320.47,486.34 L320.59,486.36 L320.72,486.39 L320.84,486.41 L320.96,486.44 L321.08,486.46 L321.21,486.48 L321.33,486.51 L321.45,486.53 L321.58,486.55 L321.70,486.57 L321.82,486.60 L321.94,486.62 L322.07,486.64 L322.19,486.67 L322.31,486.69 L322.43,486.71 L322.56,486.74 L322.68,486.76 L322.80,486.78 L322.92,486.80 L323.05,486.83 L323.17,486.85 L323.29,486.87 L323.42,486.90 L323.54,486.92 L323.66,486.94 L323.78,486.97 L323.91,486.99 L324.03,487.01 L324.15,487.03 L324.27,487.06 L324.40,487.08 L324.52,487.10 L324.64,487.13 L324.77,487.15 L324.89,487.17 L325.01,487.20 L325.13,487.22 L325.26,487.24 L325.38,487.26 L325.50,487.29 L325.62,487.31 L325.75,487.33 L325.87,487.36 L325.99,487.38 L326.11,487.40 L326.24,487.43 L326.36,487.45 L326.48,487.47 L326.61,487.50 L326.73,487.52 L326.85,487.54 L326.97,487.56 L327.10,487.59 L327.22,487.61 L327.34,487.63 L327.46,487.66 L327.59,487.68 L327.71,487.70 L327.83,487.73 L327.96,487.75 L328.08,487.77 L328.20,487.79 L328.32,487.82 L328.45,487.84 L328.57,487.86 L328.69,487.89 L328.81,487.91 L328.94,487.93 L329.06,487.96 L329.18,487.98 L329.30,488.00 L329.43,488.02 L329.55,488.05 L329.67,488.07 L329.80,488.09 L329.92,488.12 L330.04,488.14 L330.16,488.16 L330.29,488.19 L330.41,488.21 L330.53,488.23 L330.65,488.25 L330.78,488.28 L330.90,488.30" fill="none" stroke="#0000d2" stroke-width="1.7" stroke-linejoin="round"/>
<path d="M48.70,441.00 L48.82,443.29 L48.95,445.48 L49.07,447.56 L49.19,449.56 L49.31,451.47 L49.44,453.29 L49.56,455.04 L49.68,456.70 L49.80,458.29 L49.93,459.81 L50.05,461.26 L50.17,462.65 L50.30,463.98 L50.42,465.25 L50.54,466.46 L50.66,467.61 L50.79,468.72 L50.91,469.78 L51.03,470.79 L51.15,471.75 L51.28,472.67 L51.40,473.55 L51.52,474.40 L51.64,475.20 L51.77,475.97 L51.89,476.70 L52.01,477.41 L52.14,478.08 L52.26,478.72 L52.38,479.33 L52.50,479.92 L52.63,480.47 L52.75,481.01 L52.87,481.52 L52.99,482.01 L53.12,482.47 L53.24,482.92 L53.36,483.34 L53.49,483.75 L53.61,484.14 L53.73,484.51 L53.85,484.87 L53.98,485.21 L54.10,485.53 L54.22,485.84 L54.34,486.14 L54.47,486.42 L54.59,486.69 L54.71,486.95 L54.83,487.19 L54.96,487.43 L55.08,487.66 L55.20,487.87 L55.33,488.08 L55.45,488.27 L55.57,488.46 L55.69,488.64 L55.82,488.81 L55.94,488.98 L56.06,489.13 L56.18,489.28 L56.31,489.42 L56.43,489.56 L56.55,489.69 L56.68,489.82 L56.80,489.94 L56.92,490.05 L57.04,490.16 L57.17,490.26 L57.29,490.36 L57.41,490.46 L57.53,490.55 L57.66,490.63 L57.78,490.72 L57.90,490.80 L58.02,490.87 L58.15,490.94 L58.27,491.01 L58.39,491.08 L58.52,491.14 L58.64,491.20 L58.76,491.26 L58.88,491.32 L59.01,491.37 L59.13,491.42 L59.25,491.47 L59.37,491.51 L59.50,491.56 L59.62,491.60 L59.74,491.64 L59.87,491.68 L59.99,491.71 L60.11,491.75 L60.23,491.78 L60.36,491.81 L60.48,491.84 L60.60,491.87 L60.72,491.90 L60.85,491.93 L60.97,492.50 L61.09,484.57 L61.21,478.44 L61.34,473.66 L61.46,469.91 L61.58,466.95 L61.71,464.59 L61.83,462.69 L61.95,461.15 L62.07,459.88 L62.20,458.83 L62.32,457.95 L62.44,457.20 L62.56,456.56 L62.69,456.00 L62.81,455.51 L62.93,455.08 L63.06,454.70 L63.18,454.36 L63.30,454.06 L63.42,453.78 L63.55,453.53 L63.67,453.30 L63.79,453.10 L63.91,452.91 L64.04,452.73 L64.16,452.58 L64.28,452.43 L64.41,452.30 L64.53,452.17 L64.65,452.06 L64.77,451.96 L64.90,451.87 L65.02,451.78 L65.14,451.70 L65.26,451.63 L65.39,451.57 L65.51,451.51 L65.63,451.45 L65.75,451.40 L65.88,451.36 L66.00,451.32 L66.12,451.29 L66.25,451.25 L66.37,451.23 L66.49,451.20 L66.61,451.18 L66.74,451.16 L66.86,451.15 L66.98,451.13 L67.10,451.12 L67.23,451.11 L67.35,451.11 L67.47,451.10 L67.60,451.10 L67.72,451.09 L67.84,451.09 L67.96,451.10 L68.09,451.10 L68.21,451.10 L68.33,451.11 L68.45,451.11 L68.58,451.12 L68.70,451.13 L68.82,451.13 L68.94,451.14 L69.07,451.15 L69.19,451.17 L69.31,451.18 L69.44,451.19 L69.56,451.20 L69.68,451.21 L69.80,451.23 L69.93,451.24 L70.05,451.26 L70.17,451.27 L70.29,451.29 L70.42,451.30 L70.54,451.32 L70.66,451.33 L70.79,451.35 L70.91,451.37 L71.03,451.38 L71.15,451.40 L71.28,451.42 L71.40,451.43 L71.52,451.45 L71.64,451.47 L71.77,451.49 L71.89,451.51 L72.01,451.52 L72.13,451.54 L72.26,451.56 L72.38,451.58 L72.50,451.60 L72.63,451.62 L72.75,451.64 L72.87,451.65 L72.99,451.67 L73.12,451.69 L73.24,451.70 L73.36,454.90 L73.48,457.78 L73.61,460.37 L73.73,462.70 L73.85,464.79 L73.98,466.68 L74.10,468.38 L74.22,469.91 L74.34,471.30 L74.47,472.55 L74.59,473.68 L74.71,474.70 L74.83,475.63 L74.96,476.47 L75.08,477.24 L75.20,477.94 L75.32,478.58 L75.45,479.16 L75.57,479.69 L75.69,480.18 L75.82,480.63 L75.94,481.04 L76.06,481.42 L76.18,481.78 L76.31,482.11 L76.43,482.41 L76.55,482.70 L76.67,482.97 L76.80,483.22 L76.92,483.46 L77.04,483.68 L77.17,483.89 L77.29,484.10 L77.41,484.29 L77.53,484.47 L77.66,484.65 L77.78,484.82 L77.90,484.99 L78.02,485.15 L78.15,485.30 L78.27,485.45 L78.39,485.60 L78.52,485.74 L78.64,485.88 L78.76,486.02 L78.88,486.15 L79.01,486.29 L79.13,486.42 L79.25,486.55 L79.37,486.67 L79.50,486.80 L79.62,486.93 L79.74,487.05 L79.86,487.17 L79.99,487.29 L80.11,487.42 L80.23,487.54 L80.36,487.66 L80.48,487.77 L80.60,487.89 L80.72,488.01 L80.85,488.13 L80.97,488.25 L81.09,488.36 L81.21,488.48 L81.34,488.60 L81.46,488.71 L81.58,488.83 L81.71,488.94 L81.83,489.06 L81.95,489.18 L82.07,489.29 L82.20,489.41 L82.32,489.52 L82.44,489.64 L82.56,489.75 L82.69,489.87 L82.81,489.98 L82.93,490.10 L83.05,490.21 L83.18,490.33 L83.30,490.44 L83.42,490.56 L83.55,490.67 L83.67,490.78 L83.79,490.90 L83.91,491.01 L84.04,491.13 L84.16,491.24 L84.28,491.36 L84.40,491.47 L84.53,491.59 L84.65,491.70 L84.77,491.81 L84.90,491.93 L85.02,492.04 L85.14,492.16 L85.26,492.27 L85.39,492.39 L85.51,492.50 L85.63,485.41 L85.75,479.91 L85.88,475.63 L86.00,472.27 L86.12,469.61 L86.24,467.48 L86.37,465.77 L86.49,464.38 L86.61,463.23 L86.74,462.27 L86.86,461.47 L86.98,460.78 L87.10,460.19 L87.23,459.67 L87.35,459.22 L87.47,458.82 L87.59,458.46 L87.72,458.14 L87.84,457.85 L87.96,457.59 L88.09,457.34 L88.21,457.12 L88.33,456.92 L88.45,456.73 L88.58,456.56 L88.70,456.40 L88.82,456.25 L88.94,456.12 L89.07,455.99 L89.19,455.87 L89.31,455.76 L89.43,455.66 L89.56,455.57 L89.68,455.48 L89.80,455.40 L89.93,455.32 L90.05,455.25 L90.17,455.19 L90.29,455.13 L90.42,455.07 L90.54,455.02 L90.66,454.97 L90.78,454.92 L90.91,454.88 L91.03,454.84 L91.15,454.80 L91.28,454.77 L91.40,454.73 L91.52,454.70 L91.64,454.68 L91.77,454.65 L91.89,454.63 L92.01,454.60 L92.13,454.58 L92.26,454.56 L92.38,454.54 L92.50,454.53 L92.63,454.51 L92.75,454.50 L92.87,454.48 L92.99,454.47 L93.12,454.46 L93.24,454.45 L93.36,454.44 L93.48,454.43 L93.61,454.42 L93.73,454.41 L93.85,454.40 L93.97,454.40 L94.10,454.39 L94.22,454.38 L94.34,454.38 L94.47,454.37 L94.59,454.37 L94.71,454.36 L94.83,454.36 L94.96,454.35 L95.08,454.35 L95.20,454.35 L95.32,454.34 L95.45,454.34 L95.57,454.34 L95.69,454.34 L95.82,454.33 L95.94,454.33 L96.06,454.33 L96.18,454.33 L96.31,454.32 L96.43,454.32 L96.55,454.32 L96.67,454.32 L96.80,454.32 L96.92,454.32 L97.04,454.32 L97.16,454.32 L97.29,454.31 L97.41,454.31 L97.53,454.31 L97.66,454.31 L97.78,454.30 L97.90,457.34 L98.02,460.08 L98.15,462.53 L98.27,464.75 L98.39,466.73 L98.51,468.53 L98.64,470.14 L98.76,471.60 L98.88,472.91 L99.01,474.10 L99.13,475.17 L99.25,476.15 L99.37,477.03 L99.50,477.83 L99.62,478.56 L99.74,479.22 L99.86,479.82 L99.99,480.38 L100.11,480.88 L100.23,481.35 L100.35,481.77 L100.48,482.17 L100.60,482.53 L100.72,482.87 L100.85,483.18 L100.97,483.47 L101.09,483.74 L101.21,484.00 L101.34,484.23 L101.46,484.46 L101.58,484.67 L101.70,484.88 L101.83,485.07 L101.95,485.25 L102.07,485.43 L102.20,485.59 L102.32,485.76 L102.44,485.91 L102.56,486.07 L102.69,486.21 L102.81,486.36 L102.93,486.49 L103.05,486.63 L103.18,486.76 L103.30,486.89 L103.42,487.02 L103.54,487.15 L103.67,487.27 L103.79,487.40 L103.91,487.52 L104.04,487.64 L104.16,487.76 L104.28,487.87 L104.40,487.99 L104.53,488.11 L104.65,488.22 L104.77,488.33 L104.89,488.45 L105.02,488.56 L105.14,488.67 L105.26,488.79 L105.39,488.90 L105.51,489.01 L105.63,489.12 L105.75,489.23 L105.88,489.34 L106.00,489.45 L106.12,489.56 L106.24,489.67 L106.37,489.78 L106.49,489.89 L106.61,490.00 L106.74,490.11 L106.86,490.22 L106.98,490.33 L107.10,490.44 L107.23,490.55 L107.35,490.66 L107.47,490.77 L107.59,490.88 L107.72,490.99 L107.84,491.09 L107.96,491.20 L108.08,491.31 L108.21,491.42 L108.33,491.53 L108.45,491.64 L108.58,491.75 L108.70,491.86 L108.82,491.96 L108.94,492.07 L109.07,492.18 L109.19,492.29 L109.31,492.40 L109.43,492.51 L109.56,492.62 L109.68,492.72 L109.80,492.83 L109.93,492.94 L110.05,493.05 L110.17,486.25 L110.29,480.97 L110.42,476.86 L110.54,473.64 L110.66,471.08 L110.78,469.05 L110.91,467.40 L111.03,466.07 L111.15,464.97 L111.27,464.05 L111.40,463.27 L111.52,462.62 L111.64,462.05 L111.77,461.56 L111.89,461.12 L112.01,460.74 L112.13,460.39 L112.26,460.09 L112.38,459.81 L112.50,459.55 L112.62,459.32 L112.75,459.11 L112.87,458.91 L112.99,458.74 L113.12,458.57 L113.24,458.42 L113.36,458.28 L113.48,458.14 L113.61,458.02 L113.73,457.91 L113.85,457.80 L113.97,457.71 L114.10,457.62 L114.22,457.53 L114.34,457.45 L114.46,457.38 L114.59,457.31 L114.71,457.25 L114.83,457.19 L114.96,457.14 L115.08,457.09 L115.20,457.04 L115.32,456.99 L115.45,456.95 L115.57,456.92 L115.69,456.88 L115.81,456.85 L115.94,456.82 L116.06,456.79 L116.18,456.76 L116.31,456.74 L116.43,456.71 L116.55,456.69 L116.67,456.67 L116.80,456.65 L116.92,456.63 L117.04,456.62 L117.16,456.60 L117.29,456.59 L117.41,456.58 L117.53,456.56 L117.65,456.55 L117.78,456.54 L117.90,456.53 L118.02,456.52 L118.15,456.52 L118.27,456.51 L118.39,456.50 L118.51,456.49 L118.64,456.49 L118.76,456.48 L118.88,456.47 L119.00,456.47 L119.13,456.46 L119.25,456.46 L119.37,456.46 L119.50,456.45 L119.62,456.45 L119.74,456.45 L119.86,456.44 L119.99,456.44 L120.11,456.44 L120.23,456.43 L120.35,456.43 L120.48,456.43 L120.60,456.43 L120.72,456.43 L120.85,456.42 L120.97,456.42 L121.09,456.42 L121.21,456.42 L121.34,456.42 L121.46,456.42 L121.58,456.42 L121.70,456.41 L121.83,456.41 L121.95,456.41 L122.07,456.41 L122.19,456.41 L122.32,456.40 L122.44,459.23 L122.56,461.78 L122.69,464.07 L122.81,466.13 L122.93,467.98 L123.05,469.65 L123.18,471.16 L123.30,472.52 L123.42,473.74 L123.54,474.85 L123.67,475.85 L123.79,476.75 L123.91,477.58 L124.04,478.32 L124.16,479.00 L124.28,479.62 L124.40,480.18 L124.53,480.69 L124.65,481.16 L124.77,481.60 L124.89,481.99 L125.02,482.36 L125.14,482.70 L125.26,483.01 L125.38,483.30 L125.51,483.57 L125.63,483.83 L125.75,484.06 L125.88,484.29 L126.00,484.50 L126.12,484.70 L126.24,484.88 L126.37,485.06 L126.49,485.23 L126.61,485.40 L126.73,485.55 L126.86,485.71 L126.98,485.85 L127.10,485.99 L127.23,486.13 L127.35,486.26 L127.47,486.39 L127.59,486.52 L127.72,486.64 L127.84,486.77 L127.96,486.88 L128.08,487.00 L128.21,487.12 L128.33,487.23 L128.45,487.35 L128.57,487.46 L128.70,487.57 L128.82,487.68 L128.94,487.79 L129.07,487.89 L129.19,488.00 L129.31,488.11 L129.43,488.21 L129.56,488.32 L129.68,488.42 L129.80,488.53 L129.92,488.63 L130.05,488.74 L130.17,488.84 L130.29,488.94 L130.42,489.05 L130.54,489.15 L130.66,489.25 L130.78,489.35 L130.91,489.46 L131.03,489.56 L131.15,489.66 L131.27,489.76 L131.40,489.86 L131.52,489.97 L131.64,490.07 L131.76,490.17 L131.89,490.27 L132.01,490.37 L132.13,490.47 L132.26,490.58 L132.38,490.68 L132.50,490.78 L132.62,490.88 L132.75,490.98 L132.87,491.08 L132.99,491.18 L133.11,491.29 L133.24,491.39 L133.36,491.49 L133.48,491.59 L133.61,491.69 L133.73,491.79 L133.85,491.89 L133.97,491.99 L134.10,492.10 L134.22,492.20 L134.34,492.30 L134.46,492.40 L134.59,492.50 L134.71,485.63 L134.83,480.31 L134.96,476.16 L135.08,472.90 L135.20,470.32 L135.32,468.27 L135.45,466.61 L135.57,465.26 L135.69,464.15 L135.81,463.22 L135.94,462.44 L136.06,461.78 L136.18,461.20 L136.30,460.70 L136.43,460.27 L136.55,459.88 L136.67,459.53 L136.80,459.22 L136.92,458.94 L137.04,458.68 L137.16,458.45 L137.29,458.24 L137.41,458.04 L137.53,457.86 L137.65,457.69 L137.78,457.54 L137.90,457.39 L138.02,457.26 L138.15,457.14 L138.27,457.02 L138.39,456.92 L138.51,456.82 L138.64,456.73 L138.76,456.64 L138.88,456.56 L139.00,456.49 L139.13,456.42 L139.25,456.36 L139.37,456.30 L139.49,456.24 L139.62,456.19 L139.74,456.14 L139.86,456.10 L139.99,456.06 L140.11,456.02 L140.23,455.98 L140.35,455.95 L140.48,455.92 L140.60,455.89 L140.72,455.86 L140.84,455.84 L140.97,455.82 L141.09,455.79 L141.21,455.77 L141.34,455.75 L141.46,455.74 L141.58,455.72 L141.70,455.71 L141.83,455.69 L141.95,455.68 L142.07,455.67 L142.19,455.65 L142.32,455.64 L142.44,455.63 L142.56,455.62 L142.68,455.62 L142.81,455.61 L142.93,455.60 L143.05,455.59 L143.18,455.59 L143.30,455.58 L143.42,455.58 L143.54,455.57 L143.67,455.57 L143.79,455.56 L143.91,455.56 L144.03,455.55 L144.16,455.55 L144.28,455.55 L144.40,455.54 L144.53,455.54 L144.65,455.54 L144.77,455.53 L144.89,455.53 L145.02,455.53 L145.14,455.53 L145.26,455.53 L145.38,455.52 L145.51,455.52 L145.63,455.52 L145.75,455.52 L145.87,455.52 L146.00,455.52 L146.12,455.52 L146.24,455.51 L146.37,455.51 L146.49,455.51 L146.61,455.51 L146.73,455.51 L146.86,455.50 L146.98,458.36 L147.10,460.93 L147.22,463.25 L147.35,465.33 L147.47,467.20 L147.59,468.88 L147.72,470.40 L147.84,471.77 L147.96,473.01 L148.08,474.13 L148.21,475.14 L148.33,476.05 L148.45,476.88 L148.57,477.63 L148.70,478.32 L148.82,478.94 L148.94,479.51 L149.07,480.03 L149.19,480.50 L149.31,480.94 L149.43,481.34 L149.56,481.71 L149.68,482.05 L149.80,482.37 L149.92,482.66 L150.05,482.94 L150.17,483.19 L150.29,483.43 L150.41,483.66 L150.54,483.87 L150.66,484.07 L150.78,484.26 L150.91,484.44 L151.03,484.61 L151.15,484.78 L151.27,484.94 L151.40,485.09 L151.52,485.24 L151.64,485.38 L151.76,485.52 L151.89,485.65 L152.01,485.78 L152.13,485.91 L152.26,486.04 L152.38,486.16 L152.50,486.28 L152.62,486.40 L152.75,486.52 L152.87,486.63 L152.99,486.75 L153.11,486.86 L153.24,486.97 L153.36,487.08 L153.48,487.19 L153.60,487.30 L153.73,487.41 L153.85,487.51 L153.97,487.62 L154.10,487.73 L154.22,487.83 L154.34,487.94 L154.46,488.04 L154.59,488.15 L154.71,488.25 L154.83,488.36 L154.95,488.46 L155.08,488.57 L155.20,488.67 L155.32,488.77 L155.45,488.88 L155.57,488.98 L155.69,489.08 L155.81,489.19 L155.94,489.29 L156.06,489.39 L156.18,489.49 L156.30,489.60 L156.43,489.70 L156.55,489.80 L156.67,489.91 L156.79,490.01 L156.92,490.11 L157.04,490.21 L157.16,490.31 L157.29,490.42 L157.41,490.52 L157.53,490.62 L157.65,490.72 L157.78,490.83 L157.90,490.93 L158.02,491.03 L158.14,491.13 L158.27,491.23 L158.39,491.34 L158.51,491.44 L158.64,491.54 L158.76,491.64 L158.88,491.75 L159.00,491.85 L159.13,491.95 L159.25,485.02 L159.37,479.64 L159.49,475.45 L159.62,472.17 L159.74,469.56 L159.86,467.49 L159.98,465.81 L160.11,464.45 L160.23,463.33 L160.35,462.39 L160.48,461.61 L160.60,460.94 L160.72,460.36 L160.84,459.85 L160.97,459.41 L161.09,459.02 L161.21,458.67 L161.33,458.36 L161.46,458.07 L161.58,457.81 L161.70,457.58 L161.83,457.36 L161.95,457.16 L162.07,456.98 L162.19,456.81 L162.32,456.66 L162.44,456.51 L162.56,456.38 L162.68,456.25 L162.81,456.14 L162.93,456.03 L163.05,455.93 L163.18,455.84 L163.30,455.75 L163.42,455.67 L163.54,455.60 L163.67,455.53 L163.79,455.47 L163.91,455.41 L164.03,455.35 L164.16,455.30 L164.28,455.25 L164.40,455.21 L164.52,455.16 L164.65,455.13 L164.77,455.09 L164.89,455.06 L165.02,455.02 L165.14,454.99 L165.26,454.97 L165.38,454.94 L165.51,454.92 L165.63,454.90 L165.75,454.88 L165.87,454.86 L166.00,454.84 L166.12,454.82 L166.24,454.81 L166.37,454.79 L166.49,454.78 L166.61,454.77 L166.73,454.76 L166.86,454.75 L166.98,454.74 L167.10,454.73 L167.22,454.72 L167.35,454.71 L167.47,454.70 L167.59,454.69 L167.71,454.69 L167.84,454.68 L167.96,454.68 L168.08,454.67 L168.21,454.67 L168.33,454.66 L168.45,454.66 L168.57,454.65 L168.70,454.65 L168.82,454.65 L168.94,454.64 L169.06,454.64 L169.19,454.64 L169.31,454.63 L169.43,454.63 L169.56,454.63 L169.68,454.63 L169.80,454.63 L169.92,454.62 L170.05,454.62 L170.17,454.62 L170.29,454.62 L170.41,454.62 L170.54,454.62 L170.66,454.62 L170.78,454.61 L170.90,454.61 L171.03,454.61 L171.15,454.61 L171.27,454.61 L171.40,454.60 L171.52,457.49 L171.64,460.09 L171.76,462.42 L171.89,464.52 L172.01,466.41 L172.13,468.11 L172.25,469.64 L172.38,471.03 L172.50,472.28 L172.62,473.40 L172.75,474.42 L172.87,475.35 L172.99,476.19 L173.11,476.95 L173.24,477.64 L173.36,478.27 L173.48,478.84 L173.60,479.36 L173.73,479.85 L173.85,480.29 L173.97,480.69 L174.09,481.06 L174.22,481.41 L174.34,481.73 L174.46,482.02 L174.59,482.30 L174.71,482.56 L174.83,482.80 L174.95,483.03 L175.08,483.24 L175.20,483.44 L175.32,483.64 L175.44,483.82 L175.57,483.99 L175.69,484.16 L175.81,484.32 L175.94,484.47 L176.06,484.62 L176.18,484.77 L176.30,484.91 L176.43,485.04 L176.55,485.17 L176.67,485.30 L176.79,485.43 L176.92,485.55 L177.04,485.68 L177.16,485.80 L177.29,485.91 L177.41,486.03 L177.53,486.15 L177.65,486.26 L177.78,486.37 L177.90,486.48 L178.02,486.59 L178.14,486.70 L178.27,486.81 L178.39,486.92 L178.51,487.03 L178.63,487.14 L178.76,487.24 L178.88,487.35 L179.00,487.46 L179.13,487.56 L179.25,487.67 L179.37,487.77 L179.49,487.88 L179.62,487.98 L179.74,488.09 L179.86,488.19 L179.98,488.30 L180.11,488.40 L180.23,488.51 L180.35,488.61 L180.48,488.71 L180.60,488.82 L180.72,488.92 L180.84,489.02 L180.97,489.13 L181.09,489.23 L181.21,489.34 L181.33,489.44 L181.46,489.54 L181.58,489.65 L181.70,489.75 L181.82,489.85 L181.95,489.96 L182.07,490.06 L182.19,490.16 L182.32,490.27 L182.44,490.37 L182.56,490.47 L182.68,490.57 L182.81,490.68 L182.93,490.78 L183.05,490.88 L183.17,490.99 L183.30,491.09 L183.42,491.19 L183.54,491.30 L183.67,491.40 L183.79,484.57 L183.91,479.27 L184.03,475.15 L184.16,471.91 L184.28,469.34 L184.40,467.30 L184.52,465.65 L184.65,464.31 L184.77,463.20 L184.89,462.28 L185.01,461.50 L185.14,460.84 L185.26,460.27 L185.38,459.78 L185.51,459.34 L185.63,458.95 L185.75,458.61 L185.87,458.30 L186.00,458.02 L186.12,457.77 L186.24,457.53 L186.36,457.32 L186.49,457.12 L186.61,456.94 L186.73,456.78 L186.86,456.63 L186.98,456.48 L187.10,456.35 L187.22,456.23 L187.35,456.12 L187.47,456.01 L187.59,455.91 L187.71,455.82 L187.84,455.74 L187.96,455.66 L188.08,455.59 L188.20,455.52 L188.33,455.45 L188.45,455.39 L188.57,455.34 L188.70,455.29 L188.82,455.24 L188.94,455.20 L189.06,455.16 L189.19,455.12 L189.31,455.08 L189.43,455.05 L189.55,455.02 L189.68,454.99 L189.80,454.96 L189.92,454.94 L190.05,454.91 L190.17,454.89 L190.29,454.87 L190.41,454.85 L190.54,454.84 L190.66,454.82 L190.78,454.80 L190.90,454.79 L191.03,454.78 L191.15,454.77 L191.27,454.75 L191.40,454.74 L191.52,454.73 L191.64,454.72 L191.76,454.72 L191.89,454.71 L192.01,454.70 L192.13,454.69 L192.25,454.69 L192.38,454.68 L192.50,454.68 L192.62,454.67 L192.74,454.67 L192.87,454.66 L192.99,454.66 L193.11,454.65 L193.24,454.65 L193.36,454.65 L193.48,454.64 L193.60,454.64 L193.73,454.64 L193.85,454.63 L193.97,454.63 L194.09,454.63 L194.22,454.63 L194.34,454.63 L194.46,454.62 L194.59,454.62 L194.71,454.62 L194.83,454.62 L194.95,454.62 L195.08,454.62 L195.20,454.62 L195.32,454.61 L195.44,454.61 L195.57,454.61 L195.69,454.61 L195.81,454.61 L195.93,454.60 L196.06,457.45 L196.18,460.00 L196.30,462.30 L196.43,464.37 L196.55,466.23 L196.67,467.91 L196.79,469.42 L196.92,470.78 L197.04,472.01 L197.16,473.12 L197.28,474.13 L197.41,475.04 L197.53,475.86 L197.65,476.61 L197.78,477.29 L197.90,477.91 L198.02,478.48 L198.14,478.99 L198.27,479.47 L198.39,479.90 L198.51,480.30 L198.63,480.67 L198.76,481.01 L198.88,481.32 L199.00,481.61 L199.12,481.89 L199.25,482.14 L199.37,482.38 L199.49,482.60 L199.62,482.81 L199.74,483.01 L199.86,483.20 L199.98,483.38 L200.11,483.55 L200.23,483.72 L200.35,483.88 L200.47,484.03 L200.60,484.17 L200.72,484.32 L200.84,484.45 L200.97,484.59 L201.09,484.72 L201.21,484.84 L201.33,484.97 L201.46,485.09 L201.58,485.21 L201.70,485.33 L201.82,485.45 L201.95,485.56 L202.07,485.67 L202.19,485.79 L202.31,485.90 L202.44,486.01 L202.56,486.12 L202.68,486.22 L202.81,486.33 L202.93,486.44 L203.05,486.55 L203.17,486.65 L203.30,486.76 L203.42,486.86 L203.54,486.97 L203.66,487.07 L203.79,487.17 L203.91,487.28 L204.03,487.38 L204.16,487.49 L204.28,487.59 L204.40,487.69 L204.52,487.79 L204.65,487.90 L204.77,488.00 L204.89,488.10 L205.01,488.20 L205.14,488.31 L205.26,488.41 L205.38,488.51 L205.51,488.61 L205.63,488.71 L205.75,488.82 L205.87,488.92 L206.00,489.02 L206.12,489.12 L206.24,489.22 L206.36,489.33 L206.49,489.43 L206.61,489.53 L206.73,489.63 L206.85,489.73 L206.98,489.83 L207.10,489.94 L207.22,490.04 L207.35,490.14 L207.47,490.24 L207.59,490.34 L207.71,490.44 L207.84,490.54 L207.96,490.65 L208.08,490.75 L208.20,490.85 L208.33,484.12 L208.45,478.90 L208.57,474.84 L208.70,471.65 L208.82,469.12 L208.94,467.11 L209.06,465.48 L209.19,464.16 L209.31,463.07 L209.43,462.16 L209.55,461.40 L209.68,460.75 L209.80,460.19 L209.92,459.70 L210.04,459.27 L210.17,458.89 L210.29,458.55 L210.41,458.25 L210.54,457.97 L210.66,457.72 L210.78,457.49 L210.90,457.28 L211.03,457.09 L211.15,456.91 L211.27,456.75 L211.39,456.59 L211.52,456.45 L211.64,456.32 L211.76,456.20 L211.89,456.09 L212.01,455.99 L212.13,455.89 L212.25,455.80 L212.38,455.72 L212.50,455.64 L212.62,455.57 L212.74,455.50 L212.87,455.44 L212.99,455.38 L213.11,455.33 L213.23,455.28 L213.36,455.23 L213.48,455.19 L213.60,455.15 L213.73,455.11 L213.85,455.07 L213.97,455.04 L214.09,455.01 L214.22,454.98 L214.34,454.96 L214.46,454.93 L214.58,454.91 L214.71,454.89 L214.83,454.87 L214.95,454.85 L215.08,454.83 L215.20,454.82 L215.32,454.80 L215.44,454.79 L215.57,454.77 L215.69,454.76 L215.81,454.75 L215.93,454.74 L216.06,454.73 L216.18,454.72 L216.30,454.71 L216.42,454.71 L216.55,454.70 L216.67,454.69 L216.79,454.69 L216.92,454.68 L217.04,454.67 L217.16,454.67 L217.28,454.66 L217.41,454.66 L217.53,454.66 L217.65,454.65 L217.77,454.65 L217.90,454.64 L218.02,454.64 L218.14,454.64 L218.27,454.64 L218.39,454.63 L218.51,454.63 L218.63,454.63 L218.76,454.63 L218.88,454.63 L219.00,454.62 L219.12,454.62 L219.25,454.62 L219.37,454.62 L219.49,454.62 L219.62,454.62 L219.74,454.62 L219.86,454.61 L219.98,454.61 L220.11,454.61 L220.23,454.61 L220.35,454.61 L220.47,454.60 L220.60,457.40 L220.72,459.92 L220.84,462.19 L220.96,464.22 L221.09,466.06 L221.21,467.71 L221.33,469.19 L221.46,470.54 L221.58,471.75 L221.70,472.84 L221.82,473.83 L221.95,474.73 L222.07,475.54 L222.19,476.28 L222.31,476.95 L222.44,477.56 L222.56,478.12 L222.68,478.62 L222.81,479.09 L222.93,479.52 L223.05,479.91 L223.17,480.27 L223.30,480.61 L223.42,480.92 L223.54,481.20 L223.66,481.47 L223.79,481.72 L223.91,481.96 L224.03,482.18 L224.15,482.39 L224.28,482.58 L224.40,482.77 L224.52,482.95 L224.65,483.11 L224.77,483.28 L224.89,483.43 L225.01,483.58 L225.14,483.73 L225.26,483.87 L225.38,484.00 L225.50,484.13 L225.63,484.26 L225.75,484.39 L225.87,484.51 L226.00,484.63 L226.12,484.75 L226.24,484.86 L226.36,484.98 L226.49,485.09 L226.61,485.20 L226.73,485.31 L226.85,485.42 L226.98,485.53 L227.10,485.64 L227.22,485.74 L227.34,485.85 L227.47,485.96 L227.59,486.06 L227.71,486.17 L227.84,486.27 L227.96,486.37 L228.08,486.48 L228.20,486.58 L228.33,486.68 L228.45,486.78 L228.57,486.88 L228.69,486.99 L228.82,487.09 L228.94,487.19 L229.06,487.29 L229.19,487.39 L229.31,487.49 L229.43,487.59 L229.55,487.69 L229.68,487.79 L229.80,487.90 L229.92,488.00 L230.04,488.10 L230.17,488.20 L230.29,488.30 L230.41,488.40 L230.53,488.50 L230.66,488.60 L230.78,488.70 L230.90,488.80 L231.03,488.90 L231.15,489.00 L231.27,489.10 L231.39,489.20 L231.52,489.30 L231.64,489.40 L231.76,489.50 L231.88,489.60 L232.01,489.70 L232.13,489.80 L232.25,489.90 L232.38,490.00 L232.50,490.10 L232.62,490.20 L232.74,490.30 L232.87,483.67 L232.99,478.54 L233.11,474.53 L233.23,471.39 L233.36,468.90 L233.48,466.92 L233.60,465.32 L233.73,464.02 L233.85,462.94 L233.97,462.05 L234.09,461.30 L234.22,460.66 L234.34,460.10 L234.46,459.62 L234.58,459.20 L234.71,458.82 L234.83,458.49 L234.95,458.19 L235.07,457.92 L235.20,457.67 L235.32,457.45 L235.44,457.24 L235.57,457.05 L235.69,456.87 L235.81,456.71 L235.93,456.56 L236.06,456.43 L236.18,456.30 L236.30,456.18 L236.42,456.07 L236.55,455.97 L236.67,455.87 L236.79,455.79 L236.92,455.70 L237.04,455.63 L237.16,455.56 L237.28,455.49 L237.41,455.43 L237.53,455.37 L237.65,455.32 L237.77,455.27 L237.90,455.22 L238.02,455.18 L238.14,455.14 L238.26,455.10 L238.39,455.07 L238.51,455.04 L238.63,455.01 L238.76,454.98 L238.88,454.95 L239.00,454.93 L239.12,454.90 L239.25,454.88 L239.37,454.86 L239.49,454.85 L239.61,454.83 L239.74,454.81 L239.86,454.80 L239.98,454.78 L240.11,454.77 L240.23,454.76 L240.35,454.75 L240.47,454.74 L240.60,454.73 L240.72,454.72 L240.84,454.71 L240.96,454.70 L241.09,454.70 L241.21,454.69 L241.33,454.68 L241.45,454.68 L241.58,454.67 L241.70,454.67 L241.82,454.66 L241.95,454.66 L242.07,454.65 L242.19,454.65 L242.31,454.65 L242.44,454.64 L242.56,454.64 L242.68,454.64 L242.80,454.64 L242.93,454.63 L243.05,454.63 L243.17,454.63 L243.30,454.63 L243.42,454.62 L243.54,454.62 L243.66,454.62 L243.79,454.62 L243.91,454.62 L244.03,454.62 L244.15,454.62 L244.28,454.62 L244.40,454.61 L244.52,454.61 L244.64,454.61 L244.77,454.61 L244.89,454.61 L245.01,454.60 L245.14,457.36 L245.26,459.84 L245.38,462.07 L245.50,464.07 L245.63,465.88 L245.75,467.50 L245.87,468.97 L245.99,470.29 L246.12,471.48 L246.24,472.56 L246.36,473.54 L246.49,474.42 L246.61,475.22 L246.73,475.94 L246.85,476.60 L246.98,477.21 L247.10,477.75 L247.22,478.25 L247.34,478.71 L247.47,479.13 L247.59,479.52 L247.71,479.88 L247.84,480.21 L247.96,480.51 L248.08,480.79 L248.20,481.06 L248.33,481.31 L248.45,481.54 L248.57,481.75 L248.69,481.96 L248.82,482.15 L248.94,482.33 L249.06,482.51 L249.18,482.68 L249.31,482.83 L249.43,482.99 L249.55,483.13 L249.68,483.28 L249.80,483.41 L249.92,483.55 L250.04,483.68 L250.17,483.80 L250.29,483.93 L250.41,484.05 L250.53,484.17 L250.66,484.28 L250.78,484.40 L250.90,484.51 L251.03,484.62 L251.15,484.73 L251.27,484.84 L251.39,484.95 L251.52,485.05 L251.64,485.16 L251.76,485.26 L251.88,485.37 L252.01,485.47 L252.13,485.58 L252.25,485.68 L252.37,485.78 L252.50,485.88 L252.62,485.98 L252.74,486.09 L252.87,486.19 L252.99,486.29 L253.11,486.39 L253.23,486.49 L253.36,486.59 L253.48,486.69 L253.60,486.79 L253.72,486.89 L253.85,486.99 L253.97,487.09 L254.09,487.18 L254.22,487.28 L254.34,487.38 L254.46,487.48 L254.58,487.58 L254.71,487.68 L254.83,487.78 L254.95,487.88 L255.07,487.98 L255.20,488.07 L255.32,488.17 L255.44,488.27 L255.56,488.37 L255.69,488.47 L255.81,488.57 L255.93,488.67 L256.06,488.76 L256.18,488.86 L256.30,488.96 L256.42,489.06 L256.55,489.16 L256.67,489.26 L256.79,489.36 L256.91,489.45 L257.04,489.55 L257.16,489.65 L257.28,489.75 L257.41,483.22 L257.53,478.17 L257.65,474.23 L257.77,471.13 L257.90,468.68 L258.02,466.73 L258.14,465.15 L258.26,463.87 L258.39,462.81 L258.51,461.93 L258.63,461.19 L258.75,460.56 L258.88,460.02 L259.00,459.54 L259.12,459.13 L259.25,458.76 L259.37,458.43 L259.49,458.13 L259.61,457.87 L259.74,457.62 L259.86,457.40 L259.98,457.20 L260.10,457.01 L260.23,456.84 L260.35,456.68 L260.47,456.53 L260.60,456.40 L260.72,456.27 L260.84,456.16 L260.96,456.05 L261.09,455.95 L261.21,455.85 L261.33,455.77 L261.45,455.69 L261.58,455.61 L261.70,455.54 L261.82,455.48 L261.95,455.42 L262.07,455.36 L262.19,455.31 L262.31,455.26 L262.44,455.21 L262.56,455.17 L262.68,455.13 L262.80,455.09 L262.93,455.06 L263.05,455.03 L263.17,455.00 L263.29,454.97 L263.42,454.95 L263.54,454.92 L263.66,454.90 L263.79,454.88 L263.91,454.86 L264.03,454.84 L264.15,454.83 L264.28,454.81 L264.40,454.80 L264.52,454.78 L264.64,454.77 L264.77,454.76 L264.89,454.75 L265.01,454.74 L265.14,454.73 L265.26,454.72 L265.38,454.71 L265.50,454.70 L265.63,454.70 L265.75,454.69 L265.87,454.68 L265.99,454.68 L266.12,454.67 L266.24,454.67 L266.36,454.66 L266.48,454.66 L266.61,454.65 L266.73,454.65 L266.85,454.65 L266.98,454.64 L267.10,454.64 L267.22,454.64 L267.34,454.64 L267.47,454.63 L267.59,454.63 L267.71,454.63 L267.83,454.63 L267.96,454.62 L268.08,454.62 L268.20,454.62 L268.33,454.62 L268.45,454.62 L268.57,454.62 L268.69,454.62 L268.82,454.61 L268.94,454.61 L269.06,454.61 L269.18,454.61 L269.31,454.61 L269.43,454.61 L269.55,454.60 L269.67,457.32 L269.80,459.76 L269.92,461.95 L270.04,463.93 L270.17,465.70 L270.29,467.30 L270.41,468.74 L270.53,470.05 L270.66,471.22 L270.78,472.28 L270.90,473.24 L271.02,474.11 L271.15,474.90 L271.27,475.61 L271.39,476.26 L271.52,476.85 L271.64,477.39 L271.76,477.88 L271.88,478.34 L272.01,478.75 L272.13,479.13 L272.25,479.48 L272.37,479.81 L272.50,480.11 L272.62,480.39 L272.74,480.64 L272.86,480.89 L272.99,481.11 L273.11,481.33 L273.23,481.53 L273.36,481.72 L273.48,481.90 L273.60,482.07 L273.72,482.24 L273.85,482.39 L273.97,482.54 L274.09,482.69 L274.21,482.83 L274.34,482.96 L274.46,483.09 L274.58,483.22 L274.71,483.35 L274.83,483.47 L274.95,483.59 L275.07,483.70 L275.20,483.82 L275.32,483.93 L275.44,484.04 L275.56,484.15 L275.69,484.26 L275.81,484.37 L275.93,484.47 L276.06,484.58 L276.18,484.68 L276.30,484.79 L276.42,484.89 L276.55,484.99 L276.67,485.09 L276.79,485.19 L276.91,485.29 L277.04,485.39 L277.16,485.49 L277.28,485.59 L277.40,485.69 L277.53,485.79 L277.65,485.89 L277.77,485.99 L277.90,486.09 L278.02,486.19 L278.14,486.28 L278.26,486.38 L278.39,486.48 L278.51,486.58 L278.63,486.67 L278.75,486.77 L278.88,486.87 L279.00,486.97 L279.12,487.06 L279.25,487.16 L279.37,487.26 L279.49,487.36 L279.61,487.45 L279.74,487.55 L279.86,487.65 L279.98,487.74 L280.10,487.84 L280.23,487.94 L280.35,488.04 L280.47,488.13 L280.59,488.23 L280.72,488.33 L280.84,488.42 L280.96,488.52 L281.09,488.62 L281.21,488.71 L281.33,488.81 L281.45,488.91 L281.58,489.01 L281.70,489.10 L281.82,489.20 L281.94,482.63 L282.07,477.53 L282.19,473.57 L282.31,470.45 L282.44,467.98 L282.56,466.02 L282.68,464.43 L282.80,463.14 L282.93,462.07 L283.05,461.19 L283.17,460.44 L283.29,459.80 L283.42,459.26 L283.54,458.78 L283.66,458.36 L283.78,457.99 L283.91,457.66 L284.03,457.36 L284.15,457.09 L284.28,456.85 L284.40,456.62 L284.52,456.42 L284.64,456.23 L284.77,456.06 L284.89,455.90 L285.01,455.75 L285.13,455.61 L285.26,455.48 L285.38,455.37 L285.50,455.26 L285.63,455.16 L285.75,455.06 L285.87,454.98 L285.99,454.89 L286.12,454.82 L286.24,454.75 L286.36,454.68 L286.48,454.62 L286.61,454.56 L286.73,454.51 L286.85,454.46 L286.97,454.42 L287.10,454.37 L287.22,454.33 L287.34,454.30 L287.47,454.26 L287.59,454.23 L287.71,454.20 L287.83,454.17 L287.96,454.15 L288.08,454.12 L288.20,454.10 L288.32,454.08 L288.45,454.06 L288.57,454.04 L288.69,454.03 L288.82,454.01 L288.94,454.00 L289.06,453.98 L289.18,453.97 L289.31,453.96 L289.43,453.95 L289.55,453.94 L289.67,453.93 L289.80,453.92 L289.92,453.91 L290.04,453.90 L290.17,453.90 L290.29,453.89 L290.41,453.88 L290.53,453.88 L290.66,453.87 L290.78,453.87 L290.90,453.86 L291.02,453.86 L291.15,453.85 L291.27,453.85 L291.39,453.85 L291.51,453.84 L291.64,453.84 L291.76,453.84 L291.88,453.84 L292.01,453.83 L292.13,453.83 L292.25,453.83 L292.37,453.83 L292.50,453.82 L292.62,453.82 L292.74,453.82 L292.86,453.82 L292.99,453.82 L293.11,453.82 L293.23,453.82 L293.36,453.82 L293.48,453.81 L293.60,453.81 L293.72,453.81 L293.85,453.81 L293.97,453.81 L294.09,453.80 L294.21,456.54 L294.34,459.00 L294.46,461.21 L294.58,463.19 L294.70,464.98 L294.83,466.59 L294.95,468.05 L295.07,469.36 L295.20,470.54 L295.32,471.61 L295.44,472.57 L295.56,473.45 L295.69,474.24 L295.81,474.96 L295.93,475.62 L296.05,476.21 L296.18,476.76 L296.30,477.25 L296.42,477.71 L296.55,478.12 L296.67,478.51 L296.79,478.86 L296.91,479.19 L297.04,479.49 L297.16,479.77 L297.28,480.03 L297.40,480.28 L297.53,480.51 L297.65,480.72 L297.77,480.92 L297.89,481.12 L298.02,481.30 L298.14,481.47 L298.26,481.64 L298.39,481.79 L298.51,481.95 L298.63,482.09 L298.75,482.23 L298.88,482.37 L299.00,482.50 L299.12,482.63 L299.24,482.75 L299.37,482.88 L299.49,483.00 L299.61,483.11 L299.74,483.23 L299.86,483.34 L299.98,483.45 L300.10,483.57 L300.23,483.67 L300.35,483.78 L300.47,483.89 L300.59,483.99 L300.72,484.10 L300.84,484.20 L300.96,484.31 L301.08,484.41 L301.21,484.51 L301.33,484.61 L301.45,484.71 L301.58,484.82 L301.70,484.92 L301.82,485.02 L301.94,485.12 L302.07,485.22 L302.19,485.32 L302.31,485.42 L302.43,485.51 L302.56,485.61 L302.68,485.71 L302.80,485.81 L302.93,485.91 L303.05,486.01 L303.17,486.11 L303.29,486.20 L303.42,486.30 L303.54,486.40 L303.66,486.50 L303.78,486.60 L303.91,486.69 L304.03,486.79 L304.15,486.89 L304.28,486.99 L304.40,487.09 L304.52,487.18 L304.64,487.28 L304.77,487.38 L304.89,487.48 L305.01,487.58 L305.13,487.67 L305.26,487.77 L305.38,487.87 L305.50,487.97 L305.62,488.06 L305.75,488.16 L305.87,488.26 L305.99,488.36 L306.12,488.45 L306.24,488.55 L306.36,488.65 L306.48,482.18 L306.61,477.17 L306.73,473.26 L306.85,470.19 L306.97,467.76 L307.10,465.83 L307.22,464.26 L307.34,462.99 L307.47,461.94 L307.59,461.07 L307.71,460.34 L307.83,459.71 L307.96,459.17 L308.08,458.70 L308.20,458.29 L308.32,457.92 L308.45,457.60 L308.57,457.30 L308.69,457.04 L308.81,456.80 L308.94,456.58 L309.06,456.38 L309.18,456.19 L309.31,456.02 L309.43,455.86 L309.55,455.72 L309.67,455.58 L309.80,455.46 L309.92,455.34 L310.04,455.24 L310.16,455.14 L310.29,455.04 L310.41,454.96 L310.53,454.88 L310.66,454.80 L310.78,454.73 L310.90,454.67 L311.02,454.61 L311.15,454.55 L311.27,454.50 L311.39,454.45 L311.51,454.41 L311.64,454.37 L311.76,454.33 L311.88,454.29 L312.00,454.26 L312.13,454.22 L312.25,454.20 L312.37,454.17 L312.50,454.14 L312.62,454.12 L312.74,454.10 L312.86,454.08 L312.99,454.06 L313.11,454.04 L313.23,454.02 L313.35,454.01 L313.48,453.99 L313.60,453.98 L313.72,453.97 L313.85,453.96 L313.97,453.95 L314.09,453.94 L314.21,453.93 L314.34,453.92 L314.46,453.91 L314.58,453.90 L314.70,453.89 L314.83,453.89 L314.95,453.88 L315.07,453.88 L315.19,453.87 L315.32,453.87 L315.44,453.86 L315.56,453.86 L315.69,453.85 L315.81,453.85 L315.93,453.85 L316.05,453.84 L316.18,453.84 L316.30,453.84 L316.42,453.83 L316.54,453.83 L316.67,453.83 L316.79,453.83 L316.91,453.83 L317.04,453.82 L317.16,453.82 L317.28,453.82 L317.40,453.82 L317.53,453.82 L317.65,453.82 L317.77,453.82 L317.89,453.81 L318.02,453.81 L318.14,453.81 L318.26,453.81 L318.39,453.81 L318.51,453.81 L318.63,453.80 L318.75,456.49 L318.88,458.91 L319.00,461.09 L319.12,463.05 L319.24,464.81 L319.37,466.39 L319.49,467.82 L319.61,469.11 L319.73,470.28 L319.86,471.33 L319.98,472.28 L320.10,473.14 L320.23,473.92 L320.35,474.63 L320.47,475.27 L320.59,475.86 L320.72,476.39 L320.84,476.88 L320.96,477.33 L321.08,477.74 L321.21,478.12 L321.33,478.47 L321.45,478.79 L321.58,479.08 L321.70,479.36 L321.82,479.62 L321.94,479.86 L322.07,480.08 L322.19,480.30 L322.31,480.50 L322.43,480.68 L322.56,480.86 L322.68,481.03 L322.80,481.20 L322.92,481.35 L323.05,481.50 L323.17,481.64 L323.29,481.78 L323.42,481.92 L323.54,482.05 L323.66,482.17 L323.78,482.30 L323.91,482.42 L324.03,482.54 L324.15,482.65 L324.27,482.76 L324.40,482.88 L324.52,482.99 L324.64,483.10 L324.77,483.20 L324.89,483.31 L325.01,483.41 L325.13,483.52 L325.26,483.62 L325.38,483.72 L325.50,483.83 L325.62,483.93 L325.75,484.03 L325.87,484.13 L325.99,484.23 L326.11,484.33 L326.24,484.43 L326.36,484.52 L326.48,484.62 L326.61,484.72 L326.73,484.82 L326.85,484.92 L326.97,485.01 L327.10,485.11 L327.22,485.21 L327.34,485.31 L327.46,485.40 L327.59,485.50 L327.71,485.60 L327.83,485.69 L327.96,485.79 L328.08,485.89 L328.20,485.98 L328.32,486.08 L328.45,486.18 L328.57,486.27 L328.69,486.37 L328.81,486.46 L328.94,486.56 L329.06,486.66 L329.18,486.75 L329.30,486.85 L329.43,486.95 L329.55,487.04 L329.67,487.14 L329.80,487.23 L329.92,487.33 L330.04,487.43 L330.16,487.52 L330.29,487.62 L330.41,487.72 L330.53,487.81 L330.65,487.91 L330.78,488.00 L330.90,488.10" fill="none" stroke="#e60000" stroke-width="1.7" stroke-linejoin="round"/>
<path d="M48.70,380.00 L48.82,385.04 L48.95,389.83 L49.07,394.39 L49.19,398.72 L49.31,402.85 L49.44,406.77 L49.56,410.51 L49.68,414.07 L49.80,417.45 L49.93,420.68 L50.05,423.75 L50.17,426.68 L50.30,429.46 L50.42,432.12 L50.54,434.65 L50.66,437.07 L50.79,439.37 L50.91,441.57 L51.03,443.67 L51.15,445.67 L51.28,447.58 L51.40,449.40 L51.52,451.15 L51.64,452.81 L51.77,454.40 L51.89,455.93 L52.01,457.38 L52.14,458.78 L52.26,460.11 L52.38,461.39 L52.50,462.61 L52.63,463.79 L52.75,464.91 L52.87,465.99 L52.99,467.03 L53.12,468.03 L53.24,468.98 L53.36,469.90 L53.49,470.79 L53.61,471.64 L53.73,472.46 L53.85,473.25 L53.98,474.01 L54.10,474.74 L54.22,475.45 L54.34,476.13 L54.47,476.79 L54.59,477.43 L54.71,478.05 L54.83,478.65 L54.96,479.23 L55.08,479.79 L55.20,480.34 L55.33,480.86 L55.45,481.38 L55.57,481.88 L55.69,482.37 L55.82,482.84 L55.94,483.30 L56.06,483.75 L56.18,484.19 L56.31,484.62 L56.43,485.03 L56.55,485.44 L56.68,485.84 L56.80,486.23 L56.92,486.62 L57.04,486.99 L57.17,487.36 L57.29,487.72 L57.41,488.08 L57.53,488.42 L57.66,488.77 L57.78,489.10 L57.90,489.44 L58.02,489.76 L58.15,490.09 L58.27,490.40 L58.39,490.72 L58.52,491.03 L58.64,491.33 L58.76,491.63 L58.88,491.93 L59.01,492.23 L59.13,492.52 L59.25,492.81 L59.37,493.09 L59.50,493.38 L59.62,493.66 L59.74,493.94 L59.87,494.21 L59.99,494.49 L60.11,494.76 L60.23,495.03 L60.36,495.30 L60.48,495.56 L60.60,495.83 L60.72,496.09 L60.85,496.35 L60.97,497.10 L61.09,487.08 L61.21,478.49 L61.34,471.11 L61.46,464.75 L61.58,459.26 L61.71,454.51 L61.83,450.39 L61.95,446.81 L62.07,443.68 L62.20,440.94 L62.32,438.52 L62.44,436.40 L62.56,434.51 L62.69,432.83 L62.81,431.32 L62.93,429.97 L63.06,428.75 L63.18,427.64 L63.30,426.63 L63.42,425.70 L63.55,424.85 L63.67,424.06 L63.79,423.32 L63.91,422.64 L64.04,421.99 L64.16,421.39 L64.28,420.82 L64.41,420.28 L64.53,419.76 L64.65,419.27 L64.77,418.80 L64.90,418.36 L65.02,417.93 L65.14,417.51 L65.26,417.12 L65.39,416.73 L65.51,416.36 L65.63,416.01 L65.75,415.66 L65.88,415.33 L66.00,415.00 L66.12,414.69 L66.25,414.38 L66.37,414.09 L66.49,413.80 L66.61,413.52 L66.74,413.25 L66.86,412.99 L66.98,412.73 L67.10,412.48 L67.23,412.24 L67.35,412.00 L67.47,411.77 L67.60,411.55 L67.72,411.33 L67.84,411.12 L67.96,410.92 L68.09,410.71 L68.21,410.52 L68.33,410.33 L68.45,410.14 L68.58,409.96 L68.70,409.79 L68.82,409.62 L68.94,409.45 L69.07,409.29 L69.19,409.13 L69.31,408.98 L69.44,408.83 L69.56,408.68 L69.68,408.54 L69.80,408.40 L69.93,408.27 L70.05,408.14 L70.17,408.01 L70.29,407.88 L70.42,407.76 L70.54,407.65 L70.66,407.53 L70.79,407.42 L70.91,407.31 L71.03,407.20 L71.15,407.10 L71.28,407.00 L71.40,406.90 L71.52,406.81 L71.64,406.71 L71.77,406.62 L71.89,406.53 L72.01,406.45 L72.13,406.36 L72.26,406.28 L72.38,406.20 L72.50,406.12 L72.63,406.05 L72.75,405.98 L72.87,405.90 L72.99,405.83 L73.12,405.77 L73.24,405.70 L73.36,409.05 L73.48,412.26 L73.61,415.34 L73.73,418.30 L73.85,421.13 L73.98,423.85 L74.10,426.46 L74.22,428.97 L74.34,431.37 L74.47,433.68 L74.59,435.89 L74.71,438.02 L74.83,440.06 L74.96,442.02 L75.08,443.90 L75.20,445.71 L75.32,447.45 L75.45,449.12 L75.57,450.72 L75.69,452.26 L75.82,453.74 L75.94,455.16 L76.06,456.53 L76.18,457.85 L76.31,459.12 L76.43,460.33 L76.55,461.50 L76.67,462.63 L76.80,463.72 L76.92,464.76 L77.04,465.77 L77.17,466.74 L77.29,467.67 L77.41,468.57 L77.53,469.43 L77.66,470.27 L77.78,471.07 L77.90,471.85 L78.02,472.60 L78.15,473.32 L78.27,474.02 L78.39,474.70 L78.52,475.35 L78.64,475.98 L78.76,476.58 L78.88,477.17 L79.01,477.74 L79.13,478.29 L79.25,478.82 L79.37,479.34 L79.50,479.84 L79.62,480.32 L79.74,480.79 L79.86,481.24 L79.99,481.68 L80.11,482.11 L80.23,482.53 L80.36,482.93 L80.48,483.32 L80.60,483.70 L80.72,484.07 L80.85,484.43 L80.97,484.78 L81.09,485.12 L81.21,485.46 L81.34,485.78 L81.46,486.10 L81.58,486.40 L81.71,486.70 L81.83,487.00 L81.95,487.28 L82.07,487.56 L82.20,487.84 L82.32,488.11 L82.44,488.37 L82.56,488.62 L82.69,488.88 L82.81,489.12 L82.93,489.36 L83.05,489.60 L83.18,489.83 L83.30,490.06 L83.42,490.29 L83.55,490.51 L83.67,490.72 L83.79,490.94 L83.91,491.15 L84.04,491.35 L84.16,491.56 L84.28,491.76 L84.40,491.95 L84.53,492.15 L84.65,492.34 L84.77,492.53 L84.90,492.72 L85.02,492.90 L85.14,493.09 L85.26,493.27 L85.39,493.45 L85.51,494.60 L85.63,484.78 L85.75,476.36 L85.88,469.12 L86.00,462.89 L86.12,457.50 L86.24,452.85 L86.37,448.81 L86.49,445.30 L86.61,442.23 L86.74,439.54 L86.86,437.18 L86.98,435.09 L87.10,433.24 L87.23,431.59 L87.35,430.12 L87.47,428.79 L87.59,427.60 L87.72,426.51 L87.84,425.52 L87.96,424.61 L88.09,423.77 L88.21,423.00 L88.33,422.28 L88.45,421.60 L88.58,420.97 L88.70,420.38 L88.82,419.82 L88.94,419.29 L89.07,418.79 L89.19,418.30 L89.31,417.85 L89.43,417.41 L89.56,416.99 L89.68,416.58 L89.80,416.19 L89.93,415.82 L90.05,415.45 L90.17,415.10 L90.29,414.76 L90.42,414.44 L90.54,414.12 L90.66,413.81 L90.78,413.51 L90.91,413.22 L91.03,412.94 L91.15,412.67 L91.28,412.40 L91.40,412.14 L91.52,411.89 L91.64,411.65 L91.77,411.41 L91.89,411.18 L92.01,410.95 L92.13,410.73 L92.26,410.52 L92.38,410.31 L92.50,410.11 L92.63,409.92 L92.75,409.72 L92.87,409.54 L92.99,409.36 L93.12,409.18 L93.24,409.01 L93.36,408.84 L93.48,408.68 L93.61,408.52 L93.73,408.36 L93.85,408.21 L93.97,408.07 L94.10,407.92 L94.22,407.78 L94.34,407.65 L94.47,407.52 L94.59,407.39 L94.71,407.26 L94.83,407.14 L94.96,407.02 L95.08,406.91 L95.20,406.79 L95.32,406.68 L95.45,406.58 L95.57,406.47 L95.69,406.37 L95.82,406.27 L95.94,406.18 L96.06,406.08 L96.18,405.99 L96.31,405.90 L96.43,405.82 L96.55,405.73 L96.67,405.65 L96.80,405.57 L96.92,405.49 L97.04,405.42 L97.16,405.34 L97.29,405.27 L97.41,405.20 L97.53,405.13 L97.66,405.06 L97.78,405.00 L97.90,408.34 L98.02,411.54 L98.15,414.61 L98.27,417.55 L98.39,420.38 L98.51,423.09 L98.64,425.69 L98.76,428.19 L98.88,430.58 L99.01,432.88 L99.13,435.09 L99.25,437.21 L99.37,439.24 L99.50,441.20 L99.62,443.07 L99.74,444.88 L99.86,446.61 L99.99,448.27 L100.11,449.87 L100.23,451.40 L100.35,452.88 L100.48,454.30 L100.60,455.66 L100.72,456.97 L100.85,458.23 L100.97,459.45 L101.09,460.62 L101.21,461.74 L101.34,462.82 L101.46,463.86 L101.58,464.86 L101.70,465.83 L101.83,466.76 L101.95,467.66 L102.07,468.52 L102.20,469.35 L102.32,470.15 L102.44,470.93 L102.56,471.68 L102.69,472.40 L102.81,473.09 L102.93,473.76 L103.05,474.41 L103.18,475.04 L103.30,475.65 L103.42,476.23 L103.54,476.80 L103.67,477.35 L103.79,477.88 L103.91,478.39 L104.04,478.89 L104.16,479.37 L104.28,479.84 L104.40,480.29 L104.53,480.73 L104.65,481.15 L104.77,481.57 L104.89,481.97 L105.02,482.36 L105.14,482.74 L105.26,483.11 L105.39,483.47 L105.51,483.82 L105.63,484.16 L105.75,484.49 L105.88,484.81 L106.00,485.12 L106.12,485.43 L106.24,485.73 L106.37,486.02 L106.49,486.31 L106.61,486.59 L106.74,486.86 L106.86,487.13 L106.98,487.39 L107.10,487.64 L107.23,487.90 L107.35,488.14 L107.47,488.38 L107.59,488.62 L107.72,488.85 L107.84,489.08 L107.96,489.30 L108.08,489.52 L108.21,489.74 L108.33,489.95 L108.45,490.16 L108.58,490.36 L108.70,490.57 L108.82,490.77 L108.94,490.96 L109.07,491.16 L109.19,491.35 L109.31,491.54 L109.43,491.72 L109.56,491.91 L109.68,492.09 L109.80,492.27 L109.93,492.45 L110.05,493.60 L110.17,483.89 L110.29,475.56 L110.42,468.40 L110.54,462.24 L110.66,456.92 L110.78,452.32 L110.91,448.32 L111.03,444.85 L111.15,441.81 L111.27,439.16 L111.40,436.82 L111.52,434.76 L111.64,432.93 L111.77,431.30 L111.89,429.84 L112.01,428.53 L112.13,427.34 L112.26,426.27 L112.38,425.29 L112.50,424.39 L112.62,423.56 L112.75,422.80 L112.87,422.08 L112.99,421.42 L113.12,420.80 L113.24,420.21 L113.36,419.65 L113.48,419.13 L113.61,418.63 L113.73,418.16 L113.85,417.70 L113.97,417.27 L114.10,416.85 L114.22,416.45 L114.34,416.07 L114.46,415.69 L114.59,415.34 L114.71,414.99 L114.83,414.66 L114.96,414.33 L115.08,414.02 L115.20,413.71 L115.32,413.42 L115.45,413.13 L115.57,412.85 L115.69,412.58 L115.81,412.32 L115.94,412.06 L116.06,411.81 L116.18,411.57 L116.31,411.34 L116.43,411.11 L116.55,410.89 L116.67,410.67 L116.80,410.46 L116.92,410.26 L117.04,410.06 L117.16,409.86 L117.29,409.67 L117.41,409.49 L117.53,409.31 L117.65,409.13 L117.78,408.96 L117.90,408.80 L118.02,408.64 L118.15,408.48 L118.27,408.33 L118.39,408.18 L118.51,408.03 L118.64,407.89 L118.76,407.75 L118.88,407.62 L119.00,407.49 L119.13,407.36 L119.25,407.24 L119.37,407.12 L119.50,407.00 L119.62,406.89 L119.74,406.77 L119.86,406.67 L119.99,406.56 L120.11,406.46 L120.23,406.36 L120.35,406.26 L120.48,406.16 L120.60,406.07 L120.72,405.98 L120.85,405.89 L120.97,405.81 L121.09,405.72 L121.21,405.64 L121.34,405.56 L121.46,405.49 L121.58,405.41 L121.70,405.34 L121.83,405.27 L121.95,405.20 L122.07,405.13 L122.19,405.06 L122.32,405.00 L122.44,408.31 L122.56,411.48 L122.69,414.52 L122.81,417.44 L122.93,420.24 L123.05,422.93 L123.18,425.50 L123.30,427.98 L123.42,430.35 L123.54,432.63 L123.67,434.82 L123.79,436.92 L123.91,438.93 L124.04,440.87 L124.16,442.73 L124.28,444.52 L124.40,446.23 L124.53,447.88 L124.65,449.46 L124.77,450.98 L124.89,452.45 L125.02,453.85 L125.14,455.20 L125.26,456.50 L125.38,457.75 L125.51,458.96 L125.63,460.11 L125.75,461.23 L125.88,462.30 L126.00,463.33 L126.12,464.32 L126.24,465.28 L126.37,466.20 L126.49,467.09 L126.61,467.95 L126.73,468.77 L126.86,469.57 L126.98,470.33 L127.10,471.07 L127.23,471.79 L127.35,472.48 L127.47,473.14 L127.59,473.79 L127.72,474.41 L127.84,475.01 L127.96,475.59 L128.08,476.15 L128.21,476.69 L128.33,477.22 L128.45,477.73 L128.57,478.22 L128.70,478.70 L128.82,479.16 L128.94,479.61 L129.07,480.04 L129.19,480.47 L129.31,480.88 L129.43,481.27 L129.56,481.66 L129.68,482.04 L129.80,482.40 L129.92,482.76 L130.05,483.10 L130.17,483.44 L130.29,483.77 L130.42,484.09 L130.54,484.40 L130.66,484.70 L130.78,485.00 L130.91,485.29 L131.03,485.57 L131.15,485.85 L131.27,486.12 L131.40,486.39 L131.52,486.65 L131.64,486.90 L131.76,487.15 L131.89,487.39 L132.01,487.63 L132.13,487.86 L132.26,488.09 L132.38,488.32 L132.50,488.54 L132.62,488.76 L132.75,488.97 L132.87,489.18 L132.99,489.39 L133.11,489.59 L133.24,489.79 L133.36,489.99 L133.48,490.19 L133.61,490.38 L133.73,490.57 L133.85,490.76 L133.97,490.94 L134.10,491.12 L134.22,491.31 L134.34,491.48 L134.46,491.66 L134.59,492.80 L134.71,483.18 L134.83,474.92 L134.96,467.83 L135.08,461.72 L135.20,456.45 L135.32,451.89 L135.45,447.93 L135.57,444.49 L135.69,441.48 L135.81,438.85 L135.94,436.53 L136.06,434.49 L136.18,432.67 L136.30,431.06 L136.43,429.62 L136.55,428.32 L136.67,427.14 L136.80,426.08 L136.92,425.11 L137.04,424.22 L137.16,423.39 L137.29,422.64 L137.41,421.93 L137.53,421.27 L137.65,420.65 L137.78,420.07 L137.90,419.52 L138.02,419.00 L138.15,418.51 L138.27,418.04 L138.39,417.59 L138.51,417.16 L138.64,416.74 L138.76,416.35 L138.88,415.97 L139.00,415.60 L139.13,415.24 L139.25,414.90 L139.37,414.57 L139.49,414.25 L139.62,413.94 L139.74,413.63 L139.86,413.34 L139.99,413.06 L140.11,412.78 L140.23,412.51 L140.35,412.25 L140.48,412.00 L140.60,411.75 L140.72,411.51 L140.84,411.28 L140.97,411.05 L141.09,410.83 L141.21,410.62 L141.34,410.41 L141.46,410.21 L141.58,410.01 L141.70,409.82 L141.83,409.63 L141.95,409.45 L142.07,409.27 L142.19,409.10 L142.32,408.93 L142.44,408.76 L142.56,408.60 L142.68,408.45 L142.81,408.30 L142.93,408.15 L143.05,408.01 L143.18,407.87 L143.30,407.73 L143.42,407.60 L143.54,407.47 L143.67,407.34 L143.79,407.22 L143.91,407.10 L144.03,406.98 L144.16,406.87 L144.28,406.76 L144.40,406.65 L144.53,406.55 L144.65,406.44 L144.77,406.34 L144.89,406.25 L145.02,406.15 L145.14,406.06 L145.26,405.97 L145.38,405.88 L145.51,405.80 L145.63,405.72 L145.75,405.64 L145.87,405.56 L146.00,405.48 L146.12,405.41 L146.24,405.34 L146.37,405.26 L146.49,405.20 L146.61,405.13 L146.73,405.06 L146.86,405.00 L146.98,408.33 L147.10,411.52 L147.22,414.59 L147.35,417.53 L147.47,420.34 L147.59,423.05 L147.72,425.64 L147.84,428.14 L147.96,430.53 L148.08,432.82 L148.21,435.02 L148.33,437.14 L148.45,439.17 L148.57,441.12 L148.70,442.99 L148.82,444.79 L148.94,446.51 L149.07,448.17 L149.19,449.77 L149.31,451.30 L149.43,452.77 L149.56,454.19 L149.68,455.55 L149.80,456.86 L149.92,458.11 L150.05,459.33 L150.17,460.49 L150.29,461.61 L150.41,462.69 L150.54,463.73 L150.66,464.73 L150.78,465.69 L150.91,466.62 L151.03,467.51 L151.15,468.38 L151.27,469.21 L151.40,470.01 L151.52,470.78 L151.64,471.52 L151.76,472.24 L151.89,472.94 L152.01,473.61 L152.13,474.26 L152.26,474.88 L152.38,475.49 L152.50,476.07 L152.62,476.64 L152.75,477.18 L152.87,477.71 L152.99,478.22 L153.11,478.72 L153.24,479.20 L153.36,479.67 L153.48,480.12 L153.60,480.56 L153.73,480.98 L153.85,481.39 L153.97,481.80 L154.10,482.18 L154.22,482.56 L154.34,482.93 L154.46,483.29 L154.59,483.64 L154.71,483.98 L154.83,484.31 L154.95,484.63 L155.08,484.94 L155.20,485.25 L155.32,485.55 L155.45,485.84 L155.57,486.13 L155.69,486.40 L155.81,486.68 L155.94,486.94 L156.06,487.20 L156.18,487.46 L156.30,487.71 L156.43,487.95 L156.55,488.19 L156.67,488.43 L156.79,488.66 L156.92,488.89 L157.04,489.11 L157.16,489.33 L157.29,489.55 L157.41,489.76 L157.53,489.97 L157.65,490.17 L157.78,490.37 L157.90,490.57 L158.02,490.77 L158.14,490.96 L158.27,491.15 L158.39,491.34 L158.51,491.53 L158.64,491.71 L158.76,491.89 L158.88,492.07 L159.00,492.25 L159.13,493.40 L159.25,483.93 L159.37,475.81 L159.49,468.83 L159.62,462.82 L159.74,457.63 L159.86,453.14 L159.98,449.25 L160.11,445.86 L160.23,442.90 L160.35,440.31 L160.48,438.03 L160.60,436.02 L160.72,434.23 L160.84,432.64 L160.97,431.22 L161.09,429.94 L161.21,428.79 L161.33,427.74 L161.46,426.79 L161.58,425.91 L161.70,425.10 L161.83,424.35 L161.95,423.66 L162.07,423.01 L162.19,422.40 L162.32,421.83 L162.44,421.29 L162.56,420.78 L162.68,420.29 L162.81,419.83 L162.93,419.39 L163.05,418.96 L163.18,418.56 L163.30,418.17 L163.42,417.79 L163.54,417.43 L163.67,417.08 L163.79,416.74 L163.91,416.42 L164.03,416.10 L164.16,415.79 L164.28,415.50 L164.40,415.21 L164.52,414.93 L164.65,414.66 L164.77,414.39 L164.89,414.14 L165.02,413.89 L165.14,413.65 L165.26,413.41 L165.38,413.18 L165.51,412.96 L165.63,412.74 L165.75,412.53 L165.87,412.32 L166.00,412.12 L166.12,411.93 L166.24,411.74 L166.37,411.56 L166.49,411.38 L166.61,411.20 L166.73,411.03 L166.86,410.87 L166.98,410.70 L167.10,410.55 L167.22,410.39 L167.35,410.24 L167.47,410.10 L167.59,409.96 L167.71,409.82 L167.84,409.69 L167.96,409.55 L168.08,409.43 L168.21,409.30 L168.33,409.18 L168.45,409.07 L168.57,408.95 L168.70,408.84 L168.82,408.73 L168.94,408.62 L169.06,408.52 L169.19,408.42 L169.31,408.32 L169.43,408.23 L169.56,408.13 L169.68,408.04 L169.80,407.96 L169.92,407.87 L170.05,407.79 L170.17,407.71 L170.29,407.63 L170.41,407.55 L170.54,407.47 L170.66,407.40 L170.78,407.33 L170.90,407.26 L171.03,407.19 L171.15,407.13 L171.27,407.06 L171.40,407.00 L171.52,410.26 L171.64,413.39 L171.76,416.39 L171.89,419.27 L172.01,422.03 L172.13,424.68 L172.25,427.22 L172.38,429.66 L172.50,432.01 L172.62,434.25 L172.75,436.41 L172.87,438.48 L172.99,440.47 L173.11,442.38 L173.24,444.21 L173.36,445.98 L173.48,447.67 L173.60,449.29 L173.73,450.85 L173.85,452.36 L173.97,453.80 L174.09,455.18 L174.22,456.52 L174.34,457.80 L174.46,459.03 L174.59,460.22 L174.71,461.36 L174.83,462.46 L174.95,463.52 L175.08,464.53 L175.20,465.51 L175.32,466.46 L175.44,467.37 L175.57,468.24 L175.69,469.09 L175.81,469.90 L175.94,470.68 L176.06,471.44 L176.18,472.17 L176.30,472.87 L176.43,473.55 L176.55,474.21 L176.67,474.85 L176.79,475.46 L176.92,476.05 L177.04,476.62 L177.16,477.18 L177.29,477.71 L177.41,478.23 L177.53,478.73 L177.65,479.22 L177.78,479.69 L177.90,480.15 L178.02,480.59 L178.14,481.02 L178.27,481.43 L178.39,481.84 L178.51,482.23 L178.63,482.61 L178.76,482.98 L178.88,483.34 L179.00,483.70 L179.13,484.04 L179.25,484.37 L179.37,484.69 L179.49,485.01 L179.62,485.32 L179.74,485.62 L179.86,485.91 L179.98,486.19 L180.11,486.47 L180.23,486.75 L180.35,487.01 L180.48,487.27 L180.60,487.53 L180.72,487.78 L180.84,488.02 L180.97,488.26 L181.09,488.50 L181.21,488.73 L181.33,488.96 L181.46,489.18 L181.58,489.40 L181.70,489.61 L181.82,489.82 L181.95,490.03 L182.07,490.24 L182.19,490.44 L182.32,490.64 L182.44,490.83 L182.56,491.02 L182.68,491.21 L182.81,491.40 L182.93,491.58 L183.05,491.77 L183.17,491.95 L183.30,492.13 L183.42,492.30 L183.54,492.48 L183.67,493.60 L183.79,483.92 L183.91,475.62 L184.03,468.49 L184.16,462.35 L184.28,457.04 L184.40,452.46 L184.52,448.48 L184.65,445.01 L184.77,441.99 L184.89,439.34 L185.01,437.01 L185.14,434.95 L185.26,433.13 L185.38,431.51 L185.51,430.06 L185.63,428.75 L185.75,427.57 L185.87,426.50 L186.00,425.52 L186.12,424.62 L186.24,423.80 L186.36,423.04 L186.49,422.33 L186.61,421.66 L186.73,421.04 L186.86,420.46 L186.98,419.90 L187.10,419.38 L187.22,418.89 L187.35,418.41 L187.47,417.96 L187.59,417.53 L187.71,417.11 L187.84,416.71 L187.96,416.33 L188.08,415.96 L188.20,415.60 L188.33,415.26 L188.45,414.92 L188.57,414.60 L188.70,414.29 L188.82,413.98 L188.94,413.69 L189.06,413.40 L189.19,413.13 L189.31,412.86 L189.43,412.59 L189.55,412.34 L189.68,412.09 L189.80,411.85 L189.92,411.62 L190.05,411.39 L190.17,411.17 L190.29,410.95 L190.41,410.74 L190.54,410.54 L190.66,410.34 L190.78,410.14 L190.90,409.96 L191.03,409.77 L191.15,409.59 L191.27,409.42 L191.40,409.25 L191.52,409.09 L191.64,408.92 L191.76,408.77 L191.89,408.62 L192.01,408.47 L192.13,408.32 L192.25,408.18 L192.38,408.04 L192.50,407.91 L192.62,407.78 L192.74,407.65 L192.87,407.53 L192.99,407.41 L193.11,407.29 L193.24,407.18 L193.36,407.07 L193.48,406.96 L193.60,406.85 L193.73,406.75 L193.85,406.65 L193.97,406.55 L194.09,406.46 L194.22,406.37 L194.34,406.28 L194.46,406.19 L194.59,406.10 L194.71,406.02 L194.83,405.94 L194.95,405.86 L195.08,405.78 L195.20,405.71 L195.32,405.64 L195.44,405.57 L195.57,405.50 L195.69,405.43 L195.81,405.36 L195.93,405.30 L196.06,408.63 L196.18,411.82 L196.30,414.88 L196.43,417.81 L196.55,420.63 L196.67,423.33 L196.79,425.92 L196.92,428.41 L197.04,430.80 L197.16,433.09 L197.28,435.29 L197.41,437.40 L197.53,439.43 L197.65,441.37 L197.78,443.24 L197.90,445.04 L198.02,446.77 L198.14,448.42 L198.27,450.02 L198.39,451.55 L198.51,453.02 L198.63,454.43 L198.76,455.79 L198.88,457.10 L199.00,458.35 L199.12,459.56 L199.25,460.73 L199.37,461.85 L199.49,462.92 L199.62,463.96 L199.74,464.96 L199.86,465.92 L199.98,466.85 L200.11,467.74 L200.23,468.60 L200.35,469.43 L200.47,470.23 L200.60,471.01 L200.72,471.75 L200.84,472.47 L200.97,473.16 L201.09,473.83 L201.21,474.48 L201.33,475.10 L201.46,475.71 L201.58,476.29 L201.70,476.85 L201.82,477.40 L201.95,477.93 L202.07,478.44 L202.19,478.94 L202.31,479.42 L202.44,479.88 L202.56,480.33 L202.68,480.77 L202.81,481.20 L202.93,481.61 L203.05,482.01 L203.17,482.40 L203.30,482.78 L203.42,483.14 L203.54,483.50 L203.66,483.85 L203.79,484.19 L203.91,484.52 L204.03,484.84 L204.16,485.15 L204.28,485.46 L204.40,485.76 L204.52,486.05 L204.65,486.33 L204.77,486.61 L204.89,486.88 L205.01,487.15 L205.14,487.41 L205.26,487.66 L205.38,487.91 L205.51,488.16 L205.63,488.40 L205.75,488.63 L205.87,488.87 L206.00,489.09 L206.12,489.32 L206.24,489.53 L206.36,489.75 L206.49,489.96 L206.61,490.17 L206.73,490.37 L206.85,490.58 L206.98,490.78 L207.10,490.97 L207.22,491.17 L207.35,491.36 L207.47,491.55 L207.59,491.73 L207.71,491.91 L207.84,492.10 L207.96,492.28 L208.08,492.45 L208.20,493.60 L208.33,483.89 L208.45,475.56 L208.57,468.40 L208.70,462.24 L208.82,456.92 L208.94,452.32 L209.06,448.32 L209.19,444.85 L209.31,441.81 L209.43,439.16 L209.55,436.82 L209.68,434.76 L209.80,432.93 L209.92,431.30 L210.04,429.84 L210.17,428.53 L210.29,427.34 L210.41,426.27 L210.54,425.29 L210.66,424.39 L210.78,423.56 L210.90,422.80 L211.03,422.08 L211.15,421.42 L211.27,420.80 L211.39,420.21 L211.52,419.65 L211.64,419.13 L211.76,418.63 L211.89,418.16 L212.01,417.70 L212.13,417.27 L212.25,416.85 L212.38,416.45 L212.50,416.07 L212.62,415.69 L212.74,415.34 L212.87,414.99 L212.99,414.66 L213.11,414.33 L213.23,414.02 L213.36,413.71 L213.48,413.42 L213.60,413.13 L213.73,412.85 L213.85,412.58 L213.97,412.32 L214.09,412.06 L214.22,411.81 L214.34,411.57 L214.46,411.34 L214.58,411.11 L214.71,410.89 L214.83,410.67 L214.95,410.46 L215.08,410.26 L215.20,410.06 L215.32,409.86 L215.44,409.67 L215.57,409.49 L215.69,409.31 L215.81,409.13 L215.93,408.96 L216.06,408.80 L216.18,408.64 L216.30,408.48 L216.42,408.33 L216.55,408.18 L216.67,408.03 L216.79,407.89 L216.92,407.75 L217.04,407.62 L217.16,407.49 L217.28,407.36 L217.41,407.24 L217.53,407.12 L217.65,407.00 L217.77,406.89 L217.90,406.77 L218.02,406.67 L218.14,406.56 L218.27,406.46 L218.39,406.36 L218.51,406.26 L218.63,406.16 L218.76,406.07 L218.88,405.98 L219.00,405.89 L219.12,405.81 L219.25,405.72 L219.37,405.64 L219.49,405.56 L219.62,405.49 L219.74,405.41 L219.86,405.34 L219.98,405.27 L220.11,405.20 L220.23,405.13 L220.35,405.06 L220.47,405.00 L220.60,408.34 L220.72,411.54 L220.84,414.61 L220.96,417.55 L221.09,420.38 L221.21,423.09 L221.33,425.69 L221.46,428.19 L221.58,430.58 L221.70,432.88 L221.82,435.09 L221.95,437.21 L222.07,439.24 L222.19,441.20 L222.31,443.07 L222.44,444.88 L222.56,446.61 L222.68,448.27 L222.81,449.87 L222.93,451.40 L223.05,452.88 L223.17,454.30 L223.30,455.66 L223.42,456.97 L223.54,458.23 L223.66,459.45 L223.79,460.62 L223.91,461.74 L224.03,462.82 L224.15,463.86 L224.28,464.86 L224.40,465.83 L224.52,466.76 L224.65,467.66 L224.77,468.52 L224.89,469.35 L225.01,470.15 L225.14,470.93 L225.26,471.68 L225.38,472.40 L225.50,473.09 L225.63,473.76 L225.75,474.41 L225.87,475.04 L226.00,475.65 L226.12,476.23 L226.24,476.80 L226.36,477.35 L226.49,477.88 L226.61,478.39 L226.73,478.89 L226.85,479.37 L226.98,479.84 L227.10,480.29 L227.22,480.73 L227.34,481.15 L227.47,481.57 L227.59,481.97 L227.71,482.36 L227.84,482.74 L227.96,483.11 L228.08,483.47 L228.20,483.82 L228.33,484.16 L228.45,484.49 L228.57,484.81 L228.69,485.12 L228.82,485.43 L228.94,485.73 L229.06,486.02 L229.19,486.31 L229.31,486.59 L229.43,486.86 L229.55,487.13 L229.68,487.39 L229.80,487.64 L229.92,487.90 L230.04,488.14 L230.17,488.38 L230.29,488.62 L230.41,488.85 L230.53,489.08 L230.66,489.30 L230.78,489.52 L230.90,489.74 L231.03,489.95 L231.15,490.16 L231.27,490.36 L231.39,490.57 L231.52,490.77 L231.64,490.96 L231.76,491.16 L231.88,491.35 L232.01,491.54 L232.13,491.72 L232.25,491.91 L232.38,492.09 L232.50,492.27 L232.62,492.45 L232.74,493.60 L232.87,483.89 L232.99,475.56 L233.11,468.40 L233.23,462.24 L233.36,456.92 L233.48,452.32 L233.60,448.32 L233.73,444.85 L233.85,441.81 L233.97,439.16 L234.09,436.82 L234.22,434.76 L234.34,432.93 L234.46,431.30 L234.58,429.84 L234.71,428.53 L234.83,427.34 L234.95,426.27 L235.07,425.29 L235.20,424.39 L235.32,423.56 L235.44,422.80 L235.57,422.08 L235.69,421.42 L235.81,420.80 L235.93,420.21 L236.06,419.65 L236.18,419.13 L236.30,418.63 L236.42,418.16 L236.55,417.70 L236.67,417.27 L236.79,416.85 L236.92,416.45 L237.04,416.07 L237.16,415.69 L237.28,415.34 L237.41,414.99 L237.53,414.66 L237.65,414.33 L237.77,414.02 L237.90,413.71 L238.02,413.42 L238.14,413.13 L238.26,412.85 L238.39,412.58 L238.51,412.32 L238.63,412.06 L238.76,411.81 L238.88,411.57 L239.00,411.34 L239.12,411.11 L239.25,410.89 L239.37,410.67 L239.49,410.46 L239.61,410.26 L239.74,410.06 L239.86,409.86 L239.98,409.67 L240.11,409.49 L240.23,409.31 L240.35,409.13 L240.47,408.96 L240.60,408.80 L240.72,408.64 L240.84,408.48 L240.96,408.33 L241.09,408.18 L241.21,408.03 L241.33,407.89 L241.45,407.75 L241.58,407.62 L241.70,407.49 L241.82,407.36 L241.95,407.24 L242.07,407.12 L242.19,407.00 L242.31,406.89 L242.44,406.77 L242.56,406.67 L242.68,406.56 L242.80,406.46 L242.93,406.36 L243.05,406.26 L243.17,406.16 L243.30,406.07 L243.42,405.98 L243.54,405.89 L243.66,405.81 L243.79,405.72 L243.91,405.64 L244.03,405.56 L244.15,405.49 L244.28,405.41 L244.40,405.34 L244.52,405.27 L244.64,405.20 L244.77,405.13 L244.89,405.06 L245.01,405.00 L245.14,408.29 L245.26,411.44 L245.38,414.47 L245.50,417.37 L245.63,420.15 L245.75,422.82 L245.87,425.39 L245.99,427.85 L246.12,430.21 L246.24,432.47 L246.36,434.65 L246.49,436.74 L246.61,438.74 L246.73,440.67 L246.85,442.51 L246.98,444.29 L247.10,446.00 L247.22,447.63 L247.34,449.21 L247.47,450.72 L247.59,452.18 L247.71,453.57 L247.84,454.92 L247.96,456.21 L248.08,457.45 L248.20,458.65 L248.33,459.80 L248.45,460.91 L248.57,461.97 L248.69,463.00 L248.82,463.99 L248.94,464.94 L249.06,465.85 L249.18,466.74 L249.31,467.59 L249.43,468.41 L249.55,469.20 L249.68,469.96 L249.80,470.70 L249.92,471.41 L250.04,472.09 L250.17,472.75 L250.29,473.39 L250.41,474.01 L250.53,474.61 L250.66,475.19 L250.78,475.74 L250.90,476.28 L251.03,476.81 L251.15,477.31 L251.27,477.80 L251.39,478.28 L251.52,478.74 L251.64,479.18 L251.76,479.62 L251.88,480.04 L252.01,480.44 L252.13,480.84 L252.25,481.22 L252.37,481.60 L252.50,481.96 L252.62,482.32 L252.74,482.66 L252.87,482.99 L252.99,483.32 L253.11,483.64 L253.23,483.95 L253.36,484.25 L253.48,484.55 L253.60,484.83 L253.72,485.12 L253.85,485.39 L253.97,485.66 L254.09,485.92 L254.22,486.18 L254.34,486.43 L254.46,486.68 L254.58,486.92 L254.71,487.16 L254.83,487.39 L254.95,487.62 L255.07,487.84 L255.20,488.06 L255.32,488.28 L255.44,488.49 L255.56,488.70 L255.69,488.91 L255.81,489.11 L255.93,489.31 L256.06,489.51 L256.18,489.70 L256.30,489.89 L256.42,490.08 L256.55,490.27 L256.67,490.45 L256.79,490.63 L256.91,490.81 L257.04,490.99 L257.16,491.17 L257.28,492.30 L257.41,482.66 L257.53,474.38 L257.65,467.27 L257.77,461.15 L257.90,455.87 L258.02,451.30 L258.14,447.33 L258.26,443.88 L258.39,440.86 L258.51,438.22 L258.63,435.90 L258.75,433.85 L258.88,432.04 L259.00,430.42 L259.12,428.97 L259.25,427.67 L259.37,426.49 L259.49,425.43 L259.61,424.45 L259.74,423.56 L259.86,422.74 L259.98,421.98 L260.10,421.27 L260.23,420.61 L260.35,419.99 L260.47,419.41 L260.60,418.86 L260.72,418.33 L260.84,417.84 L260.96,417.37 L261.09,416.92 L261.21,416.49 L261.33,416.07 L261.45,415.67 L261.58,415.29 L261.70,414.92 L261.82,414.57 L261.95,414.22 L262.07,413.89 L262.19,413.57 L262.31,413.26 L262.44,412.95 L262.56,412.66 L262.68,412.38 L262.80,412.10 L262.93,411.83 L263.05,411.57 L263.17,411.32 L263.29,411.07 L263.42,410.83 L263.54,410.60 L263.66,410.37 L263.79,410.15 L263.91,409.93 L264.03,409.72 L264.15,409.52 L264.28,409.32 L264.40,409.13 L264.52,408.94 L264.64,408.76 L264.77,408.58 L264.89,408.41 L265.01,408.24 L265.14,408.07 L265.26,407.91 L265.38,407.76 L265.50,407.60 L265.63,407.46 L265.75,407.31 L265.87,407.17 L265.99,407.04 L266.12,406.90 L266.24,406.77 L266.36,406.65 L266.48,406.52 L266.61,406.40 L266.73,406.29 L266.85,406.17 L266.98,406.06 L267.10,405.95 L267.22,405.85 L267.34,405.75 L267.47,405.65 L267.59,405.55 L267.71,405.46 L267.83,405.36 L267.96,405.27 L268.08,405.19 L268.20,405.10 L268.33,405.02 L268.45,404.94 L268.57,404.86 L268.69,404.78 L268.82,404.71 L268.94,404.64 L269.06,404.57 L269.18,404.50 L269.31,404.43 L269.43,404.36 L269.55,404.30 L269.67,407.61 L269.80,410.78 L269.92,413.82 L270.04,416.74 L270.17,419.54 L270.29,422.23 L270.41,424.80 L270.53,427.28 L270.66,429.65 L270.78,431.93 L270.90,434.12 L271.02,436.22 L271.15,438.23 L271.27,440.17 L271.39,442.03 L271.52,443.82 L271.64,445.53 L271.76,447.18 L271.88,448.76 L272.01,450.28 L272.13,451.75 L272.25,453.15 L272.37,454.50 L272.50,455.80 L272.62,457.05 L272.74,458.26 L272.86,459.41 L272.99,460.53 L273.11,461.60 L273.23,462.63 L273.36,463.62 L273.48,464.58 L273.60,465.50 L273.72,466.39 L273.85,467.25 L273.97,468.07 L274.09,468.87 L274.21,469.63 L274.34,470.37 L274.46,471.09 L274.58,471.78 L274.71,472.44 L274.83,473.09 L274.95,473.71 L275.07,474.31 L275.20,474.89 L275.32,475.45 L275.44,475.99 L275.56,476.52 L275.69,477.03 L275.81,477.52 L275.93,478.00 L276.06,478.46 L276.18,478.91 L276.30,479.34 L276.42,479.77 L276.55,480.18 L276.67,480.57 L276.79,480.96 L276.91,481.34 L277.04,481.70 L277.16,482.06 L277.28,482.40 L277.40,482.74 L277.53,483.07 L277.65,483.39 L277.77,483.70 L277.90,484.00 L278.02,484.30 L278.14,484.59 L278.26,484.87 L278.39,485.15 L278.51,485.42 L278.63,485.69 L278.75,485.95 L278.88,486.20 L279.00,486.45 L279.12,486.69 L279.25,486.93 L279.37,487.16 L279.49,487.39 L279.61,487.62 L279.74,487.84 L279.86,488.06 L279.98,488.27 L280.10,488.48 L280.23,488.69 L280.35,488.89 L280.47,489.09 L280.59,489.29 L280.72,489.49 L280.84,489.68 L280.96,489.87 L281.09,490.06 L281.21,490.24 L281.33,490.42 L281.45,490.61 L281.58,490.78 L281.70,490.96 L281.82,492.10 L281.94,482.43 L282.07,474.14 L282.19,467.02 L282.31,460.88 L282.44,455.58 L282.56,451.00 L282.68,447.03 L282.80,443.57 L282.93,440.55 L283.05,437.90 L283.17,435.58 L283.29,433.52 L283.42,431.70 L283.54,430.08 L283.66,428.63 L283.78,427.32 L283.91,426.14 L284.03,425.07 L284.15,424.10 L284.28,423.20 L284.40,422.38 L284.52,421.62 L284.64,420.91 L284.77,420.24 L284.89,419.62 L285.01,419.04 L285.13,418.49 L285.26,417.97 L285.38,417.47 L285.50,417.00 L285.63,416.55 L285.75,416.11 L285.87,415.70 L285.99,415.30 L286.12,414.92 L286.24,414.55 L286.36,414.19 L286.48,413.85 L286.61,413.51 L286.73,413.19 L286.85,412.88 L286.97,412.57 L287.10,412.28 L287.22,411.99 L287.34,411.72 L287.47,411.45 L287.59,411.19 L287.71,410.93 L287.83,410.68 L287.96,410.44 L288.08,410.21 L288.20,409.98 L288.32,409.76 L288.45,409.55 L288.57,409.34 L288.69,409.13 L288.82,408.93 L288.94,408.74 L289.06,408.55 L289.18,408.37 L289.31,408.19 L289.43,408.02 L289.55,407.85 L289.67,407.68 L289.80,407.52 L289.92,407.36 L290.04,407.21 L290.17,407.06 L290.29,406.92 L290.41,406.78 L290.53,406.64 L290.66,406.51 L290.78,406.38 L290.90,406.25 L291.02,406.13 L291.15,406.01 L291.27,405.89 L291.39,405.78 L291.51,405.67 L291.64,405.56 L291.76,405.45 L291.88,405.35 L292.01,405.25 L292.13,405.15 L292.25,405.06 L292.37,404.97 L292.50,404.88 L292.62,404.79 L292.74,404.70 L292.86,404.62 L292.99,404.54 L293.11,404.46 L293.23,404.38 L293.36,404.31 L293.48,404.24 L293.60,404.17 L293.72,404.10 L293.85,404.03 L293.97,403.96 L294.09,403.90 L294.21,407.22 L294.34,410.41 L294.46,413.46 L294.58,416.40 L294.70,419.21 L294.83,421.91 L294.95,424.50 L295.07,426.98 L295.20,429.37 L295.32,431.66 L295.44,433.85 L295.56,435.96 L295.69,437.99 L295.81,439.93 L295.93,441.80 L296.05,443.60 L296.18,445.32 L296.30,446.97 L296.42,448.56 L296.55,450.09 L296.67,451.56 L296.79,452.98 L296.91,454.33 L297.04,455.64 L297.16,456.89 L297.28,458.10 L297.40,459.26 L297.53,460.38 L297.65,461.46 L297.77,462.50 L297.89,463.49 L298.02,464.45 L298.14,465.38 L298.26,466.27 L298.39,467.13 L298.51,467.96 L298.63,468.76 L298.75,469.53 L298.88,470.27 L299.00,470.99 L299.12,471.68 L299.24,472.35 L299.37,473.00 L299.49,473.62 L299.61,474.23 L299.74,474.81 L299.86,475.37 L299.98,475.92 L300.10,476.45 L300.23,476.96 L300.35,477.45 L300.47,477.93 L300.59,478.40 L300.72,478.85 L300.84,479.29 L300.96,479.71 L301.08,480.12 L301.21,480.52 L301.33,480.91 L301.45,481.29 L301.58,481.66 L301.70,482.01 L301.82,482.36 L301.94,482.70 L302.07,483.03 L302.19,483.35 L302.31,483.66 L302.43,483.97 L302.56,484.27 L302.68,484.56 L302.80,484.84 L302.93,485.12 L303.05,485.39 L303.17,485.66 L303.29,485.92 L303.42,486.17 L303.54,486.42 L303.66,486.67 L303.78,486.91 L303.91,487.14 L304.03,487.37 L304.15,487.60 L304.28,487.82 L304.40,488.04 L304.52,488.25 L304.64,488.47 L304.77,488.67 L304.89,488.88 L305.01,489.08 L305.13,489.28 L305.26,489.48 L305.38,489.67 L305.50,489.86 L305.62,490.05 L305.75,490.23 L305.87,490.42 L305.99,490.60 L306.12,490.78 L306.24,490.95 L306.36,492.10 L306.48,482.36 L306.61,474.00 L306.73,466.82 L306.85,460.63 L306.97,455.29 L307.10,450.68 L307.22,446.67 L307.34,443.18 L307.47,440.14 L307.59,437.47 L307.71,435.13 L307.83,433.06 L307.96,431.22 L308.08,429.59 L308.20,428.12 L308.32,426.81 L308.45,425.62 L308.57,424.54 L308.69,423.56 L308.81,422.66 L308.94,421.83 L309.06,421.06 L309.18,420.34 L309.31,419.67 L309.43,419.05 L309.55,418.46 L309.67,417.90 L309.80,417.38 L309.92,416.88 L310.04,416.40 L310.16,415.95 L310.29,415.51 L310.41,415.09 L310.53,414.69 L310.66,414.30 L310.78,413.93 L310.90,413.57 L311.02,413.22 L311.15,412.89 L311.27,412.56 L311.39,412.25 L311.51,411.94 L311.64,411.65 L311.76,411.36 L311.88,411.08 L312.00,410.81 L312.13,410.54 L312.25,410.29 L312.37,410.04 L312.50,409.80 L312.62,409.56 L312.74,409.33 L312.86,409.11 L312.99,408.89 L313.11,408.68 L313.23,408.47 L313.35,408.27 L313.48,408.08 L313.60,407.89 L313.72,407.70 L313.85,407.52 L313.97,407.35 L314.09,407.18 L314.21,407.01 L314.34,406.85 L314.46,406.69 L314.58,406.54 L314.70,406.39 L314.83,406.24 L314.95,406.10 L315.07,405.96 L315.19,405.83 L315.32,405.70 L315.44,405.57 L315.56,405.45 L315.69,405.32 L315.81,405.21 L315.93,405.09 L316.05,404.98 L316.18,404.87 L316.30,404.77 L316.42,404.66 L316.54,404.56 L316.67,404.46 L316.79,404.37 L316.91,404.27 L317.04,404.18 L317.16,404.10 L317.28,404.01 L317.40,403.93 L317.53,403.84 L317.65,403.77 L317.77,403.69 L317.89,403.61 L318.02,403.54 L318.14,403.47 L318.26,403.40 L318.39,403.33 L318.51,403.26 L318.63,403.20 L318.75,406.47 L318.88,409.61 L319.00,412.61 L319.12,415.50 L319.24,418.27 L319.37,420.92 L319.49,423.47 L319.61,425.92 L319.73,428.26 L319.86,430.52 L319.98,432.68 L320.10,434.75 L320.23,436.75 L320.35,438.66 L320.47,440.50 L320.59,442.27 L320.72,443.96 L320.84,445.59 L320.96,447.16 L321.08,448.66 L321.21,450.11 L321.33,451.50 L321.45,452.83 L321.58,454.12 L321.70,455.35 L321.82,456.54 L321.94,457.69 L322.07,458.79 L322.19,459.85 L322.31,460.87 L322.43,461.85 L322.56,462.79 L322.68,463.70 L322.80,464.58 L322.92,465.43 L323.05,466.24 L323.17,467.03 L323.29,467.79 L323.42,468.52 L323.54,469.23 L323.66,469.91 L323.78,470.57 L323.91,471.20 L324.03,471.82 L324.15,472.41 L324.27,472.98 L324.40,473.54 L324.52,474.08 L324.64,474.60 L324.77,475.10 L324.89,475.59 L325.01,476.06 L325.13,476.52 L325.26,476.96 L325.38,477.39 L325.50,477.81 L325.62,478.21 L325.75,478.61 L325.87,478.99 L325.99,479.36 L326.11,479.72 L326.24,480.07 L326.36,480.41 L326.48,480.75 L326.61,481.07 L326.73,481.39 L326.85,481.70 L326.97,482.00 L327.10,482.29 L327.22,482.58 L327.34,482.86 L327.46,483.13 L327.59,483.40 L327.71,483.66 L327.83,483.92 L327.96,484.17 L328.08,484.41 L328.20,484.65 L328.32,484.89 L328.45,485.12 L328.57,485.35 L328.69,485.57 L328.81,485.79 L328.94,486.00 L329.06,486.21 L329.18,486.42 L329.30,486.63 L329.43,486.83 L329.55,487.03 L329.67,487.22 L329.80,487.42 L329.92,487.61 L330.04,487.79 L330.16,487.98 L330.29,488.16 L330.41,488.34 L330.53,488.52 L330.65,488.70 L330.78,488.87 L330.90,489.04" fill="none" stroke="#0a7a0a" stroke-width="1.7" stroke-linejoin="round"/>
</g>
<line x1="85.16" y1="505.90" x2="85.16" y2="509.90" stroke="#404040" stroke-width="1.3"/>
<text x="85.16" y="523.80" font-size="13.8" text-anchor="middle" >50</text>
<line x1="146.42" y1="505.90" x2="146.42" y2="509.90" stroke="#404040" stroke-width="1.3"/>
<text x="146.42" y="523.80" font-size="13.8" text-anchor="middle" >100</text>
<line x1="207.68" y1="505.90" x2="207.68" y2="509.90" stroke="#404040" stroke-width="1.3"/>
<text x="207.68" y="523.80" font-size="13.8" text-anchor="middle" >150</text>
<line x1="268.94" y1="505.90" x2="268.94" y2="509.90" stroke="#404040" stroke-width="1.3"/>
<text x="268.94" y="523.80" font-size="13.8" text-anchor="middle" >200</text>
<line x1="330.20" y1="505.90" x2="330.20" y2="509.90" stroke="#404040" stroke-width="1.3"/>
<text x="330.20" y="523.80" font-size="13.8" text-anchor="middle" >250</text>
<line x1="54.53" y1="505.90" x2="54.53" y2="508.10" stroke="#404040" stroke-width="1.3"/>
<line x1="115.79" y1="505.90" x2="115.79" y2="508.10" stroke="#404040" stroke-width="1.3"/>
<line x1="177.05" y1="505.90" x2="177.05" y2="508.10" stroke="#404040" stroke-width="1.3"/>
<line x1="238.31" y1="505.90" x2="238.31" y2="508.10" stroke="#404040" stroke-width="1.3"/>
<line x1="299.57" y1="505.90" x2="299.57" y2="508.10" stroke="#404040" stroke-width="1.3"/>
<text x="183.30" y="541.60" font-size="16" text-anchor="middle" >Time (s)</text>
<text transform="translate(37.40,391.70) rotate(-90)" font-size="16" text-anchor="middle">Photocurrent density</text>
<line x1="52.90" y1="291.60" x2="82.90" y2="291.60" stroke="#000" stroke-width="1.75"/>
<line x1="52.90" y1="309.00" x2="82.90" y2="309.00" stroke="#0000d2" stroke-width="1.75"/>
<line x1="52.90" y1="331.50" x2="82.90" y2="331.50" stroke="#e60000" stroke-width="1.75"/>
<line x1="52.90" y1="356.50" x2="82.90" y2="356.50" stroke="#0a7a0a" stroke-width="1.75"/>
<text x="86.00" y="295.90" font-size="14.15" text-anchor="start" >Bare electrode</text>
<text x="86.20" y="313.40" font-size="14.15" text-anchor="start" >Bare electrode + FL</text>
<text x="86.20" y="335.60" font-size="14" text-anchor="start" >Cu<tspan font-size="9.5" dy="3.2" font-weight="bold">11</tspan></text>
<text x="86.20" y="361.00" font-size="14" text-anchor="start" >Cu<tspan font-size="9.5" dy="3.2" font-weight="bold">11</tspan><tspan dy="-3.2"> + FL</tspan></text>
<text x="2.00" y="286.10" font-size="23.8" text-anchor="start" >(c)</text>
<line x1="244.90" y1="355.70" x2="244.90" y2="385.60" stroke="#222" stroke-width="1.0"/>
<polygon points="242.80,384.10 247.00,384.10 244.90,390.60" fill="#222"/>
<line x1="232.80" y1="380.30" x2="232.80" y2="409.30" stroke="#222" stroke-width="1.0"/>
<polygon points="230.70,407.80 234.90,407.80 232.80,414.30" fill="#222"/>
<text x="236.30" y="351.00" font-size="14" text-anchor="start" >Off</text>
<text x="222.30" y="376.00" font-size="14" text-anchor="start" >On</text>
<clipPath id="cd"><rect x="404.2" y="279.3" width="281.80" height="226.50"/></clipPath><g clip-path="url(#cd)">
<path d="M404.20,494.00 C407.80,493.90 411.40,493.84 415.00,493.70 C418.90,493.55 422.80,493.34 426.70,493.00 C428.80,492.82 430.90,492.44 433.00,492.10 C435.17,491.75 437.33,491.38 439.50,490.90 C441.33,490.49 443.17,489.98 445.00,489.40 C446.60,488.89 448.20,488.29 449.80,487.60 C450.93,487.11 452.07,486.56 453.20,485.90 C454.20,485.31 455.20,484.58 456.20,483.80 C456.93,483.23 457.67,482.68 458.40,481.90 C459.13,481.12 459.87,480.19 460.60,478.90 C461.37,477.55 462.13,475.68 462.90,473.20 C463.63,470.83 464.37,466.56 465.10,463.00 C465.87,459.28 466.63,455.61 467.40,451.30 C468.93,442.69 470.47,431.50 472.00,421.60 C473.53,411.70 475.07,402.48 476.60,391.90 C477.73,384.08 478.87,374.41 480.00,366.90 C481.53,356.74 483.07,347.32 484.60,339.40 C486.10,331.65 487.60,323.65 489.10,318.90 C491.03,312.78 492.97,307.68 494.90,305.10 C496.60,302.83 498.30,300.93 500.00,300.30 C501.57,299.72 503.13,299.20 504.70,299.20 C506.13,299.20 507.57,299.78 509.00,300.30 C510.37,300.80 511.73,301.81 513.10,302.90 C515.40,304.74 517.70,307.65 520.00,310.90 C522.30,314.15 524.60,319.03 526.90,323.40 C529.93,329.17 532.97,335.60 536.00,341.70 C539.03,347.80 542.07,353.93 545.10,360.00 C548.17,366.13 551.23,372.65 554.30,378.30 C558.67,386.35 563.03,393.81 567.40,400.60 C571.13,406.41 574.87,411.93 578.60,416.70 C582.93,422.24 587.27,427.28 591.60,431.60 C596.53,436.52 601.47,440.63 606.40,444.60 C612.60,449.58 618.80,454.40 625.00,458.30 C631.20,462.20 637.40,465.61 643.60,468.50 C649.77,471.37 655.93,473.92 662.10,476.00 C670.07,478.68 678.03,480.53 686.00,482.80" fill="none" stroke="#000" stroke-width="1.7" stroke-linejoin="round" stroke-linecap="butt"/>
<path d="M404.20,494.00 C407.80,493.90 411.40,493.84 415.00,493.70 C418.90,493.55 422.80,493.34 426.70,493.00 C428.80,492.82 430.90,492.44 433.00,492.10 C435.17,491.75 437.33,491.38 439.50,490.90 C441.33,490.49 443.17,489.98 445.00,489.40 C446.60,488.89 448.20,488.29 449.80,487.60 C450.93,487.11 452.07,486.56 453.20,485.90 C454.20,485.31 455.20,484.58 456.20,483.80 C456.93,483.23 457.67,482.68 458.40,481.90 C459.13,481.12 459.87,480.17 460.60,478.90 C461.40,477.52 462.20,475.64 463.00,473.20 C463.80,470.76 464.60,466.63 465.40,463.00 C466.20,459.37 467.00,455.61 467.80,451.30 C469.40,442.69 471.00,431.50 472.60,421.60 C474.20,411.70 475.80,402.26 477.40,391.90 C478.63,383.92 479.87,374.39 481.10,366.90 C482.63,357.59 484.17,348.43 485.70,341.70 C487.60,333.36 489.50,325.65 491.40,321.10 C493.30,316.55 495.20,312.65 497.10,310.90 C498.57,309.55 500.03,308.48 501.50,308.10 C502.93,307.73 504.37,307.40 505.80,307.40 C507.03,307.40 508.27,307.92 509.50,308.40 C510.70,308.87 511.90,309.88 513.10,310.90 C515.40,312.85 517.70,315.65 520.00,318.90 C522.30,322.15 524.60,327.15 526.90,331.40 C529.93,337.01 532.97,342.69 536.00,348.60 C539.03,354.51 542.07,361.24 545.10,366.90 C548.17,372.62 551.23,377.47 554.30,382.90 C557.73,388.98 561.17,396.30 564.60,401.50 C569.27,408.57 573.93,413.97 578.60,419.50 C582.93,424.63 587.27,429.59 591.60,433.80 C596.53,438.59 601.47,442.74 606.40,446.60 C612.60,451.45 618.80,456.05 625.00,459.80 C631.20,463.55 637.40,466.82 643.60,469.60 C649.77,472.36 655.93,474.76 662.10,476.80 C670.07,479.44 678.03,481.33 686.00,483.60" fill="none" stroke="#e60000" stroke-width="1.7" stroke-linejoin="round" stroke-linecap="butt"/>
<path d="M404.20,494.00 C407.80,493.90 411.40,493.84 415.00,493.70 C418.90,493.55 422.80,493.34 426.70,493.00 C428.80,492.82 430.90,492.44 433.00,492.10 C435.17,491.75 437.33,491.38 439.50,490.90 C441.33,490.49 443.17,489.98 445.00,489.40 C446.60,488.89 448.20,488.29 449.80,487.60 C450.93,487.11 452.07,486.56 453.20,485.90 C454.20,485.31 455.20,484.58 456.20,483.80 C456.93,483.23 457.67,482.58 458.40,481.90 C459.13,481.22 459.87,480.64 460.60,479.70 C461.73,478.24 462.87,476.04 464.00,473.20 C464.77,471.28 465.53,467.94 466.30,465.30 C467.43,461.40 468.57,458.17 469.70,453.60 C471.23,447.42 472.77,438.32 474.30,430.70 C475.83,423.08 477.37,415.20 478.90,407.90 C480.40,400.76 481.90,392.76 483.40,387.30 C485.30,380.38 487.20,374.53 489.10,370.30 C491.03,365.99 492.97,361.94 494.90,360.00 C495.93,358.96 496.97,358.04 498.00,357.70 C499.10,357.33 500.20,357.00 501.30,357.00 C502.53,357.00 503.77,357.25 505.00,357.50 C506.20,357.74 507.40,358.33 508.60,358.90 C510.87,359.98 513.13,361.54 515.40,363.40 C518.47,365.92 521.53,369.76 524.60,373.70 C527.63,377.60 530.67,382.83 533.70,387.40 C537.50,393.13 541.30,398.95 545.10,404.60 C548.17,409.16 551.23,414.03 554.30,418.10 C556.20,420.62 558.10,422.90 560.00,425.10 C566.20,432.28 572.40,439.64 578.60,445.00 C582.93,448.75 587.27,451.81 591.60,454.60 C596.53,457.78 601.47,460.49 606.40,463.00 C612.60,466.15 618.80,469.04 625.00,471.50 C631.20,473.96 637.40,476.20 643.60,478.00 C649.77,479.79 655.93,481.30 662.10,482.60 C670.07,484.27 678.03,485.47 686.00,486.90" fill="none" stroke="#0000d2" stroke-width="1.7" stroke-linejoin="round" stroke-linecap="butt"/>
</g>
<path d="M404.20,279.30 H686.00 V505.80" fill="none" stroke="#5c5c5c" stroke-width="1.35"/>
<path d="M404.20,278.60 V505.80 H686.70" fill="none" stroke="#585858" stroke-width="1.6"/>
<line x1="404.20" y1="505.80" x2="404.20" y2="509.80" stroke="#404040" stroke-width="1.3"/>
<text x="404.20" y="523.80" font-size="13.8" text-anchor="middle" >500</text>
<line x1="498.13" y1="505.80" x2="498.13" y2="509.80" stroke="#404040" stroke-width="1.3"/>
<text x="498.13" y="523.80" font-size="13.8" text-anchor="middle" >550</text>
<line x1="592.07" y1="505.80" x2="592.07" y2="509.80" stroke="#404040" stroke-width="1.3"/>
<text x="592.07" y="523.80" font-size="13.8" text-anchor="middle" >600</text>
<line x1="686.00" y1="505.80" x2="686.00" y2="509.80" stroke="#404040" stroke-width="1.3"/>
<text x="686.00" y="523.80" font-size="13.8" text-anchor="middle" >650</text>
<line x1="451.17" y1="505.80" x2="451.17" y2="508.00" stroke="#404040" stroke-width="1.3"/>
<line x1="545.10" y1="505.80" x2="545.10" y2="508.00" stroke="#404040" stroke-width="1.3"/>
<line x1="639.03" y1="505.80" x2="639.03" y2="508.00" stroke="#404040" stroke-width="1.3"/>
<text x="545.40" y="541.60" font-size="16.15" text-anchor="middle" >Wavelength (nm)</text>
<text transform="translate(389.50,386.70) rotate(-90)" font-size="16" text-anchor="middle">Intensity (a.u.)</text>
<line x1="585.80" y1="295.00" x2="617.80" y2="295.00" stroke="#000" stroke-width="1.75"/>
<line x1="585.80" y1="313.40" x2="617.80" y2="313.40" stroke="#e60000" stroke-width="1.75"/>
<line x1="585.80" y1="334.00" x2="617.80" y2="334.00" stroke="#0000d2" stroke-width="1.75"/>
<text x="621.10" y="300.00" font-size="14" text-anchor="start" >FL</text>
<text x="621.10" y="318.20" font-size="14" text-anchor="start" >FL + Cu<tspan font-size="10.0" dy="3.6">11</tspan></text>
<text x="621.10" y="338.50" font-size="14" text-anchor="start" >FL + TEA</text>
<text x="345.90" y="286.10" font-size="23.8" text-anchor="start" >(d)</text>
</svg></body></html>
